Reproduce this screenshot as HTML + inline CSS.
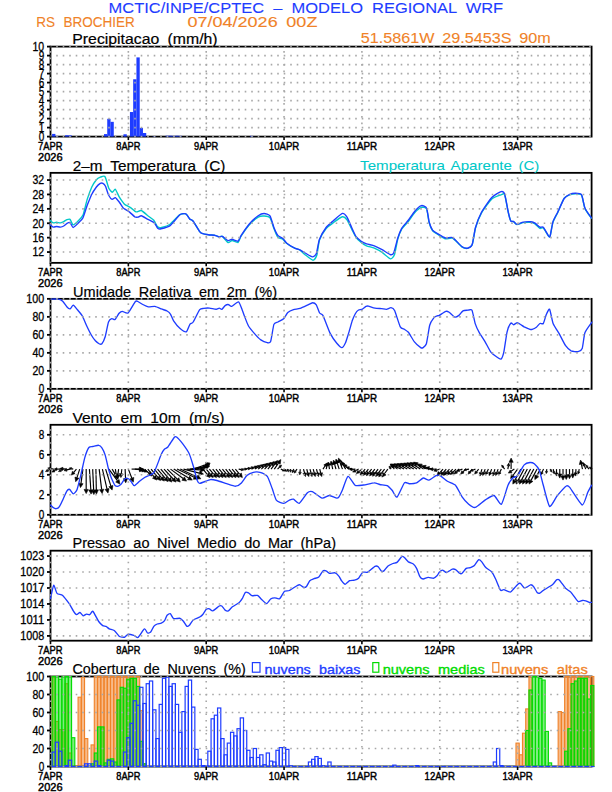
<!DOCTYPE html><html><head><meta charset="utf-8"><style>html,body{margin:0;padding:0;background:#fff;width:612px;height:792px;overflow:hidden}svg{display:block}text{font-family:"Liberation Sans",sans-serif}</style></head><body>
<svg width="612" height="792" viewBox="0 0 612 792">
<rect width="612" height="792" fill="#fff"/>
<text x="108.60" y="12.70" font-size="14.6" fill="#1e3cff" text-anchor="start" textLength="394.60" lengthAdjust="spacingAndGlyphs" stroke="#1e3cff" stroke-width="0.1" word-spacing="4">MCTIC/INPE/CPTEC &#8211; MODELO REGIONAL WRF</text>
<text x="36.30" y="26.80" font-size="14.6" fill="#f08228" text-anchor="start" textLength="98.50" lengthAdjust="spacingAndGlyphs" stroke="#f08228" stroke-width="0.1" word-spacing="5">RS BROCHIER</text>
<text x="187.50" y="26.80" font-size="14.6" fill="#f08228" text-anchor="start" textLength="129.90" lengthAdjust="spacingAndGlyphs" stroke="#f08228" stroke-width="0.1" word-spacing="3">07/04/2026 00Z</text>
<text x="360.80" y="42.90" font-size="14.6" fill="#f08228" text-anchor="start" textLength="189.90" lengthAdjust="spacingAndGlyphs" stroke="#f08228" stroke-width="0.1" word-spacing="3">51.5861W 29.5453S 90m</text>
<rect x="50.50" y="46.60" width="541.10" height="90.00" fill="none" stroke="#000" stroke-width="1.8"/>
<rect x="52.09" y="133.90" width="3.3" height="2.70" fill="#1e3cff"/>
<rect x="55.34" y="136.15" width="3.3" height="0.45" fill="#1e3cff"/>
<rect x="65.07" y="135.25" width="3.3" height="1.35" fill="#1e3cff"/>
<rect x="68.31" y="135.25" width="3.3" height="1.35" fill="#1e3cff"/>
<rect x="103.99" y="134.08" width="3.3" height="2.52" fill="#1e3cff"/>
<rect x="107.24" y="118.78" width="3.3" height="17.82" fill="#1e3cff"/>
<rect x="110.48" y="121.84" width="3.3" height="14.76" fill="#1e3cff"/>
<rect x="123.46" y="134.26" width="3.3" height="2.34" fill="#1e3cff"/>
<rect x="129.94" y="112.03" width="3.3" height="24.57" fill="#1e3cff"/>
<rect x="133.19" y="79.27" width="3.3" height="57.33" fill="#1e3cff"/>
<rect x="136.43" y="57.40" width="3.3" height="79.20" fill="#1e3cff"/>
<rect x="139.67" y="127.87" width="3.3" height="8.73" fill="#1e3cff"/>
<rect x="142.92" y="133.00" width="3.3" height="3.60" fill="#1e3cff"/>
<rect x="152.65" y="136.15" width="3.3" height="0.45" fill="#1e3cff"/>
<rect x="165.62" y="135.70" width="3.3" height="0.90" fill="#1e3cff"/>
<rect x="168.87" y="135.70" width="3.3" height="0.90" fill="#1e3cff"/>
<rect x="172.11" y="135.88" width="3.3" height="0.72" fill="#1e3cff"/>
<rect x="175.36" y="135.70" width="3.3" height="0.90" fill="#1e3cff"/>
<rect x="178.60" y="135.88" width="3.3" height="0.72" fill="#1e3cff"/>
<rect x="249.96" y="135.88" width="3.3" height="0.72" fill="#1e3cff"/>
<line x1="50.50" y1="136.60" x2="591.60" y2="136.60" stroke="#a8a8a8" stroke-width="1.6" stroke-dasharray="1.6 4.9" stroke-dashoffset="-5.7"/>
<line x1="47.00" y1="136.60" x2="50.50" y2="136.60" stroke="#000" stroke-width="1.8"/>
<text x="38.65" y="140.90" font-size="11.9" fill="#000" text-anchor="start" textLength="5.55" lengthAdjust="spacingAndGlyphs" stroke="#000" stroke-width="0.3">0</text>
<line x1="50.50" y1="127.60" x2="591.60" y2="127.60" stroke="#a8a8a8" stroke-width="1.6" stroke-dasharray="1.6 4.9" stroke-dashoffset="-5.7"/>
<line x1="47.00" y1="127.60" x2="50.50" y2="127.60" stroke="#000" stroke-width="1.8"/>
<text x="38.65" y="131.90" font-size="11.9" fill="#000" text-anchor="start" textLength="5.55" lengthAdjust="spacingAndGlyphs" stroke="#000" stroke-width="0.3">1</text>
<line x1="50.50" y1="118.60" x2="591.60" y2="118.60" stroke="#a8a8a8" stroke-width="1.6" stroke-dasharray="1.6 4.9" stroke-dashoffset="-5.7"/>
<line x1="47.00" y1="118.60" x2="50.50" y2="118.60" stroke="#000" stroke-width="1.8"/>
<text x="38.65" y="122.90" font-size="11.9" fill="#000" text-anchor="start" textLength="5.55" lengthAdjust="spacingAndGlyphs" stroke="#000" stroke-width="0.3">2</text>
<line x1="50.50" y1="109.60" x2="591.60" y2="109.60" stroke="#a8a8a8" stroke-width="1.6" stroke-dasharray="1.6 4.9" stroke-dashoffset="-5.7"/>
<line x1="47.00" y1="109.60" x2="50.50" y2="109.60" stroke="#000" stroke-width="1.8"/>
<text x="38.65" y="113.90" font-size="11.9" fill="#000" text-anchor="start" textLength="5.55" lengthAdjust="spacingAndGlyphs" stroke="#000" stroke-width="0.3">3</text>
<line x1="50.50" y1="100.60" x2="591.60" y2="100.60" stroke="#a8a8a8" stroke-width="1.6" stroke-dasharray="1.6 4.9" stroke-dashoffset="-5.7"/>
<line x1="47.00" y1="100.60" x2="50.50" y2="100.60" stroke="#000" stroke-width="1.8"/>
<text x="38.65" y="104.90" font-size="11.9" fill="#000" text-anchor="start" textLength="5.55" lengthAdjust="spacingAndGlyphs" stroke="#000" stroke-width="0.3">4</text>
<line x1="50.50" y1="91.60" x2="591.60" y2="91.60" stroke="#a8a8a8" stroke-width="1.6" stroke-dasharray="1.6 4.9" stroke-dashoffset="-5.7"/>
<line x1="47.00" y1="91.60" x2="50.50" y2="91.60" stroke="#000" stroke-width="1.8"/>
<text x="38.65" y="95.90" font-size="11.9" fill="#000" text-anchor="start" textLength="5.55" lengthAdjust="spacingAndGlyphs" stroke="#000" stroke-width="0.3">5</text>
<line x1="50.50" y1="82.60" x2="591.60" y2="82.60" stroke="#a8a8a8" stroke-width="1.6" stroke-dasharray="1.6 4.9" stroke-dashoffset="-5.7"/>
<line x1="47.00" y1="82.60" x2="50.50" y2="82.60" stroke="#000" stroke-width="1.8"/>
<text x="38.65" y="86.90" font-size="11.9" fill="#000" text-anchor="start" textLength="5.55" lengthAdjust="spacingAndGlyphs" stroke="#000" stroke-width="0.3">6</text>
<line x1="50.50" y1="73.60" x2="591.60" y2="73.60" stroke="#a8a8a8" stroke-width="1.6" stroke-dasharray="1.6 4.9" stroke-dashoffset="-5.7"/>
<line x1="47.00" y1="73.60" x2="50.50" y2="73.60" stroke="#000" stroke-width="1.8"/>
<text x="38.65" y="77.90" font-size="11.9" fill="#000" text-anchor="start" textLength="5.55" lengthAdjust="spacingAndGlyphs" stroke="#000" stroke-width="0.3">7</text>
<line x1="50.50" y1="64.60" x2="591.60" y2="64.60" stroke="#a8a8a8" stroke-width="1.6" stroke-dasharray="1.6 4.9" stroke-dashoffset="-5.7"/>
<line x1="47.00" y1="64.60" x2="50.50" y2="64.60" stroke="#000" stroke-width="1.8"/>
<text x="38.65" y="68.90" font-size="11.9" fill="#000" text-anchor="start" textLength="5.55" lengthAdjust="spacingAndGlyphs" stroke="#000" stroke-width="0.3">8</text>
<line x1="50.50" y1="55.60" x2="591.60" y2="55.60" stroke="#a8a8a8" stroke-width="1.6" stroke-dasharray="1.6 4.9" stroke-dashoffset="-5.7"/>
<line x1="47.00" y1="55.60" x2="50.50" y2="55.60" stroke="#000" stroke-width="1.8"/>
<text x="38.65" y="59.90" font-size="11.9" fill="#000" text-anchor="start" textLength="5.55" lengthAdjust="spacingAndGlyphs" stroke="#000" stroke-width="0.3">9</text>
<line x1="50.50" y1="46.60" x2="591.60" y2="46.60" stroke="#a8a8a8" stroke-width="1.6" stroke-dasharray="1.6 4.9" stroke-dashoffset="-5.7"/>
<line x1="47.00" y1="46.60" x2="50.50" y2="46.60" stroke="#000" stroke-width="1.8"/>
<text x="32.50" y="50.90" font-size="11.9" fill="#000" text-anchor="start" textLength="11.70" lengthAdjust="spacingAndGlyphs" stroke="#000" stroke-width="0.3">10</text>
<line x1="50.50" y1="46.60" x2="50.50" y2="136.60" stroke="#a8a8a8" stroke-width="1.6" stroke-dasharray="1.6 4.9" stroke-dashoffset="-4.45"/>
<line x1="50.50" y1="136.60" x2="50.50" y2="140.10" stroke="#000" stroke-width="1.6"/>
<text x="38.10" y="150.20" font-size="11.4" fill="#000" text-anchor="start" textLength="24.50" lengthAdjust="spacingAndGlyphs" stroke="#000" stroke-width="0.45">7APR</text>
<text x="38.10" y="161.20" font-size="11.4" fill="#000" text-anchor="start" textLength="24.50" lengthAdjust="spacingAndGlyphs" stroke="#000" stroke-width="0.45">2026</text>
<line x1="128.35" y1="46.60" x2="128.35" y2="136.60" stroke="#a8a8a8" stroke-width="1.6" stroke-dasharray="1.6 4.9" stroke-dashoffset="-4.45"/>
<line x1="128.35" y1="136.60" x2="128.35" y2="140.10" stroke="#000" stroke-width="1.6"/>
<text x="128.35" y="150.20" font-size="11.4" fill="#000" text-anchor="middle" textLength="24.20" lengthAdjust="spacingAndGlyphs" stroke="#000" stroke-width="0.45">8APR</text>
<line x1="206.20" y1="46.60" x2="206.20" y2="136.60" stroke="#a8a8a8" stroke-width="1.6" stroke-dasharray="1.6 4.9" stroke-dashoffset="-4.45"/>
<line x1="206.20" y1="136.60" x2="206.20" y2="140.10" stroke="#000" stroke-width="1.6"/>
<text x="206.20" y="150.20" font-size="11.4" fill="#000" text-anchor="middle" textLength="24.20" lengthAdjust="spacingAndGlyphs" stroke="#000" stroke-width="0.45">9APR</text>
<line x1="284.05" y1="46.60" x2="284.05" y2="136.60" stroke="#a8a8a8" stroke-width="1.6" stroke-dasharray="1.6 4.9" stroke-dashoffset="-4.45"/>
<line x1="284.05" y1="136.60" x2="284.05" y2="140.10" stroke="#000" stroke-width="1.6"/>
<text x="284.05" y="150.20" font-size="11.4" fill="#000" text-anchor="middle" textLength="30.40" lengthAdjust="spacingAndGlyphs" stroke="#000" stroke-width="0.45">10APR</text>
<line x1="361.90" y1="46.60" x2="361.90" y2="136.60" stroke="#a8a8a8" stroke-width="1.6" stroke-dasharray="1.6 4.9" stroke-dashoffset="-4.45"/>
<line x1="361.90" y1="136.60" x2="361.90" y2="140.10" stroke="#000" stroke-width="1.6"/>
<text x="361.90" y="150.20" font-size="11.4" fill="#000" text-anchor="middle" textLength="30.40" lengthAdjust="spacingAndGlyphs" stroke="#000" stroke-width="0.45">11APR</text>
<line x1="439.75" y1="46.60" x2="439.75" y2="136.60" stroke="#a8a8a8" stroke-width="1.6" stroke-dasharray="1.6 4.9" stroke-dashoffset="-4.45"/>
<line x1="439.75" y1="136.60" x2="439.75" y2="140.10" stroke="#000" stroke-width="1.6"/>
<text x="439.75" y="150.20" font-size="11.4" fill="#000" text-anchor="middle" textLength="30.40" lengthAdjust="spacingAndGlyphs" stroke="#000" stroke-width="0.45">12APR</text>
<line x1="517.60" y1="46.60" x2="517.60" y2="136.60" stroke="#a8a8a8" stroke-width="1.6" stroke-dasharray="1.6 4.9" stroke-dashoffset="-4.45"/>
<line x1="517.60" y1="136.60" x2="517.60" y2="140.10" stroke="#000" stroke-width="1.6"/>
<text x="517.60" y="150.20" font-size="11.4" fill="#000" text-anchor="middle" textLength="30.40" lengthAdjust="spacingAndGlyphs" stroke="#000" stroke-width="0.45">13APR</text>
<text x="72.30" y="44.30" font-size="14.0" fill="#000" text-anchor="start" textLength="145.30" lengthAdjust="spacingAndGlyphs" stroke="#000" stroke-width="0.18" word-spacing="3.5">Precipitacao (mm/h)</text>
<rect x="50.50" y="172.85" width="541.10" height="90.00" fill="none" stroke="#000" stroke-width="1.8"/>
<path d="M50.0,220.3 C50.3,220.6 52.6,222.7 53.2,222.9 C53.9,223.1 55.8,222.3 56.5,222.3 C57.2,222.3 59.7,223.0 60.4,222.9 C61.1,222.8 63.0,221.9 63.7,221.6 C64.4,221.3 66.4,219.9 67.0,219.7 C67.6,219.5 69.4,218.9 70.0,219.4 C70.6,219.9 72.3,224.7 73.1,224.9 C73.9,225.1 77.1,222.0 78.1,221.0 C79.1,220.0 82.1,217.3 83.0,215.1 C83.9,212.9 86.3,202.2 87.2,199.4 C88.1,196.6 90.9,189.0 91.8,187.0 C92.7,185.0 95.6,180.8 96.4,179.8 C97.2,178.8 99.5,177.5 100.3,177.2 C101.1,176.9 104.1,175.4 104.9,176.5 C105.8,177.6 108.1,186.7 108.8,188.3 C109.5,189.9 111.6,192.1 112.3,192.2 C113.0,192.3 114.6,188.8 115.3,189.3 C116.0,189.8 118.4,195.5 119.2,196.8 C120.0,198.1 122.6,201.9 123.2,202.7 C123.8,203.5 124.2,204.1 125.0,204.6 C125.8,205.1 129.8,207.2 130.9,207.9 C132.0,208.6 134.8,211.2 135.5,211.6 C136.2,212.0 136.8,211.9 137.4,211.8 C138.0,211.7 140.2,210.1 141.3,210.5 C142.4,210.9 146.7,214.8 147.9,215.8 C149.2,216.8 152.8,219.2 153.8,220.3 C154.8,221.4 156.9,226.2 157.7,226.9 C158.5,227.6 160.4,227.8 161.6,227.5 C162.8,227.2 168.3,225.5 170.1,224.2 C171.9,222.9 178.3,215.7 179.9,214.7 C181.5,213.7 184.8,213.4 185.8,213.8 C186.8,214.2 189.0,218.3 189.7,219.0 C190.4,219.7 192.0,219.8 193.0,221.0 C194.0,222.2 198.6,230.2 199.5,231.4 C200.4,232.6 201.1,233.1 202.0,233.4 C202.9,233.7 207.1,234.5 208.5,234.7 C209.9,234.9 214.6,235.4 215.7,235.6 C216.8,235.8 218.3,236.8 219.0,236.9 C219.7,237.0 221.4,235.8 222.3,236.4 C223.2,237.0 227.1,242.1 228.1,242.5 C229.1,242.9 231.1,240.5 232.1,240.5 C233.1,240.5 237.1,242.9 238.0,242.5 C238.9,242.1 240.1,237.8 241.2,236.0 C242.3,234.2 247.4,226.9 249.1,225.0 C250.8,223.1 256.7,218.0 258.2,217.1 C259.7,216.2 262.9,215.9 264.1,216.0 C265.3,216.1 269.0,216.4 270.0,217.7 C271.0,218.9 273.1,226.5 273.9,228.5 C274.7,230.5 276.9,236.2 277.8,237.3 C278.7,238.4 282.0,238.7 282.9,239.3 C283.8,239.9 285.6,242.6 286.8,243.5 C288.0,244.4 293.4,247.6 294.7,248.2 C295.9,248.8 298.3,249.0 299.3,249.7 C300.3,250.3 303.7,253.6 305.1,254.7 C306.5,255.8 311.8,260.2 313.0,260.2 C314.2,260.2 316.2,257.0 316.9,255.0 C317.5,253.0 318.6,242.7 319.5,240.0 C320.4,237.3 324.7,230.3 326.1,228.5 C327.5,226.7 332.3,223.5 333.9,222.3 C335.5,221.1 341.1,217.1 342.4,216.8 C343.7,216.5 346.0,218.4 347.0,219.7 C348.0,221.0 351.3,228.3 352.2,230.1 C353.1,231.9 355.2,236.3 356.1,237.5 C357.0,238.7 360.2,241.7 361.2,242.5 C362.2,243.3 365.2,245.2 366.5,245.8 C367.8,246.4 372.7,247.5 374.3,248.2 C375.9,248.9 380.5,251.3 382.1,252.4 C383.7,253.5 389.4,258.7 390.6,258.9 C391.9,259.1 393.9,256.3 394.6,254.3 C395.3,252.3 397.1,241.5 397.8,239.0 C398.5,236.5 400.8,230.8 401.8,229.0 C402.9,227.2 407.0,223.2 408.3,221.5 C409.6,219.8 413.5,213.9 414.8,212.5 C416.1,211.1 420.2,207.7 421.4,207.3 C422.6,207.0 425.8,207.4 426.6,209.0 C427.4,210.6 428.6,220.7 429.2,222.8 C429.8,225.0 431.6,229.3 432.5,230.5 C433.4,231.7 436.9,233.8 438.2,234.6 C439.5,235.4 444.0,238.4 445.4,238.8 C446.8,239.2 451.0,237.4 452.6,238.2 C454.2,239.0 460.3,245.8 461.8,246.8 C463.3,247.8 466.6,248.6 467.6,248.4 C468.6,248.2 471.4,246.7 472.2,244.7 C473.0,242.7 474.6,231.2 475.5,228.0 C476.4,224.8 479.8,216.1 481.4,213.2 C483.0,210.3 489.8,200.8 491.8,199.0 C493.8,197.2 499.7,195.2 501.0,194.8 C502.3,194.4 503.9,192.8 504.6,194.5 C505.3,196.2 507.6,209.3 508.2,212.0 C508.8,214.7 510.3,220.0 510.8,221.0 C511.3,222.0 512.9,221.2 513.5,221.6 C514.1,222.0 515.9,224.5 516.9,224.6 C517.9,224.7 521.8,222.8 523.2,222.6 C524.6,222.4 529.6,222.2 530.8,222.3 C532.0,222.4 534.1,223.2 535.0,223.8 C535.9,224.4 539.1,228.0 539.9,228.4 C540.7,228.8 542.4,227.2 543.3,228.0 C544.2,228.8 548.2,235.8 548.9,236.6 C549.6,237.3 549.9,237.0 550.3,235.5 C550.7,234.0 552.3,224.1 553.1,221.8 C553.9,219.5 556.8,214.6 557.9,212.2 C559.0,209.8 563.0,199.9 564.2,198.2 C565.4,196.5 568.6,195.2 569.7,194.8 C570.8,194.4 574.1,193.8 575.3,193.8 C576.5,193.8 580.5,193.7 581.5,195.2 C582.5,196.7 584.0,206.3 585.0,208.6 C586.0,210.9 590.7,217.2 591.3,218.1" fill="none" stroke="#00c8c8" stroke-width="1.4" stroke-linejoin="round" stroke-linecap="round"/>
<path d="M50.0,224.6 C50.3,224.8 52.6,226.9 53.2,227.1 C53.9,227.3 55.8,226.5 56.5,226.5 C57.2,226.5 59.7,227.2 60.4,227.1 C61.1,227.0 63.0,226.4 63.7,226.0 C64.4,225.6 66.4,223.7 67.0,223.3 C67.6,223.0 69.4,222.1 70.0,222.5 C70.6,222.9 72.3,227.4 73.1,227.5 C73.9,227.6 77.1,224.3 78.1,223.3 C79.1,222.3 82.1,219.5 83.0,217.7 C83.9,215.9 86.3,207.7 87.2,205.3 C88.1,203.0 90.9,196.0 91.8,194.2 C92.7,192.4 95.6,188.1 96.4,187.0 C97.2,185.9 99.6,183.7 100.3,183.3 C101.0,182.9 102.4,183.0 102.9,183.3 C103.4,183.6 104.9,185.1 105.5,186.3 C106.1,187.5 108.1,194.2 108.8,195.5 C109.5,196.8 111.4,199.2 112.1,199.4 C112.8,199.6 114.6,197.4 115.3,197.7 C116.0,198.0 118.4,201.0 119.2,202.0 C120.0,203.0 122.6,207.2 123.2,207.9 C123.8,208.6 124.4,208.8 125.0,209.2 C125.6,209.6 128.6,211.3 129.6,212.1 C130.6,212.9 134.0,216.3 134.8,216.8 C135.7,217.3 137.4,217.2 138.1,217.1 C138.8,217.0 140.3,215.6 141.3,215.8 C142.3,216.0 146.6,218.7 147.9,219.4 C149.2,220.1 153.4,222.0 154.4,222.9 C155.4,223.8 157.0,227.6 157.7,228.2 C158.4,228.8 159.8,229.1 161.0,228.8 C162.2,228.5 168.2,227.0 170.1,225.6 C172.0,224.2 178.3,215.9 179.9,214.7 C181.5,213.5 184.8,213.4 185.8,213.8 C186.8,214.2 189.0,218.3 189.7,219.0 C190.4,219.7 192.0,219.8 193.0,221.0 C194.0,222.2 198.6,230.2 199.5,231.4 C200.4,232.6 201.1,233.1 202.0,233.4 C202.9,233.7 207.1,234.5 208.5,234.7 C209.9,234.9 214.6,235.4 215.7,235.6 C216.8,235.8 218.3,236.8 219.0,236.9 C219.7,237.0 221.4,236.0 222.3,236.4 C223.2,236.8 227.1,240.3 228.1,240.6 C229.1,240.9 231.1,239.2 232.1,239.3 C233.1,239.4 237.1,241.6 238.0,241.2 C238.9,240.8 240.1,237.1 241.2,235.4 C242.3,233.7 247.4,226.2 249.1,224.2 C250.8,222.2 256.7,216.9 258.2,215.8 C259.7,214.7 262.9,213.5 264.1,213.5 C265.3,213.5 269.0,214.4 270.0,215.8 C271.0,217.2 273.1,225.5 273.9,227.5 C274.7,229.5 276.9,234.3 277.8,235.4 C278.7,236.5 282.0,237.8 282.9,238.6 C283.8,239.4 285.6,242.2 286.8,243.2 C288.0,244.2 293.4,247.5 294.7,248.2 C295.9,248.8 298.3,249.2 299.3,249.7 C300.3,250.2 303.8,252.3 305.1,253.0 C306.4,253.7 311.2,256.8 312.3,256.9 C313.4,257.0 315.6,255.5 316.3,253.7 C317.0,251.9 318.5,241.9 319.5,239.3 C320.5,236.7 324.7,229.4 326.1,227.5 C327.5,225.6 332.3,221.7 333.9,220.3 C335.5,218.9 341.1,213.7 342.4,213.4 C343.7,213.1 346.0,215.6 347.0,217.1 C348.0,218.6 351.3,226.8 352.2,228.8 C353.1,230.8 355.2,235.5 356.1,236.7 C357.0,237.9 360.2,240.5 361.2,241.2 C362.2,241.9 365.2,243.4 366.5,243.9 C367.8,244.4 372.7,245.2 374.3,245.8 C375.9,246.4 380.5,248.8 382.1,249.7 C383.7,250.6 389.4,254.4 390.6,254.7 C391.8,255.0 393.2,254.1 393.9,252.4 C394.6,250.7 397.0,240.4 397.8,238.0 C398.6,235.6 400.8,230.0 401.8,228.2 C402.9,226.4 407.0,222.0 408.3,220.3 C409.6,218.6 413.5,212.7 414.8,211.2 C416.1,209.7 420.2,205.9 421.4,205.6 C422.6,205.3 425.8,206.5 426.6,208.2 C427.4,209.9 428.6,220.1 429.2,222.3 C429.8,224.5 431.6,228.9 432.5,230.1 C433.4,231.3 436.9,233.3 438.2,234.1 C439.5,234.9 444.0,237.7 445.4,238.0 C446.8,238.3 451.0,236.8 452.6,237.6 C454.2,238.4 460.3,245.4 461.8,246.5 C463.3,247.6 466.6,248.4 467.6,248.2 C468.6,248.0 471.4,246.6 472.2,244.5 C473.0,242.4 474.6,230.7 475.5,227.5 C476.4,224.3 479.8,215.5 481.4,212.5 C483.0,209.5 489.8,199.6 491.8,197.5 C493.8,195.4 499.7,192.0 501.0,191.6 C502.3,191.2 503.9,191.8 504.6,193.8 C505.3,195.8 507.6,209.1 508.2,211.8 C508.8,214.5 510.3,220.0 510.8,221.0 C511.3,222.0 512.9,221.1 513.5,221.4 C514.1,221.7 515.9,224.3 516.9,224.4 C517.9,224.5 521.8,222.4 523.2,222.1 C524.6,221.8 529.6,221.6 530.8,221.7 C532.0,221.8 534.1,222.5 535.0,223.1 C535.9,223.7 539.1,226.8 539.9,227.2 C540.7,227.6 542.4,226.3 543.3,227.2 C544.2,228.1 548.2,235.6 548.9,236.4 C549.6,237.2 549.9,236.8 550.3,235.3 C550.7,233.8 552.3,223.8 553.1,221.4 C553.9,219.0 556.8,214.0 557.9,211.7 C559.0,209.4 563.0,200.2 564.2,198.5 C565.4,196.8 568.6,194.8 569.7,194.3 C570.8,193.8 574.1,193.3 575.3,193.3 C576.5,193.3 580.5,193.2 581.5,194.7 C582.5,196.2 584.0,205.9 585.0,208.2 C586.0,210.5 590.7,216.9 591.3,217.9" fill="none" stroke="#1e3cff" stroke-width="1.4" stroke-linejoin="round" stroke-linecap="round"/>
<line x1="50.50" y1="252.05" x2="591.60" y2="252.05" stroke="#a8a8a8" stroke-width="1.6" stroke-dasharray="1.6 4.9" stroke-dashoffset="-5.7"/>
<line x1="47.00" y1="252.05" x2="50.50" y2="252.05" stroke="#000" stroke-width="1.8"/>
<text x="32.50" y="256.35" font-size="11.9" fill="#000" text-anchor="start" textLength="11.70" lengthAdjust="spacingAndGlyphs" stroke="#000" stroke-width="0.3">12</text>
<line x1="50.50" y1="237.65" x2="591.60" y2="237.65" stroke="#a8a8a8" stroke-width="1.6" stroke-dasharray="1.6 4.9" stroke-dashoffset="-5.7"/>
<line x1="47.00" y1="237.65" x2="50.50" y2="237.65" stroke="#000" stroke-width="1.8"/>
<text x="32.50" y="241.95" font-size="11.9" fill="#000" text-anchor="start" textLength="11.70" lengthAdjust="spacingAndGlyphs" stroke="#000" stroke-width="0.3">16</text>
<line x1="50.50" y1="223.25" x2="591.60" y2="223.25" stroke="#a8a8a8" stroke-width="1.6" stroke-dasharray="1.6 4.9" stroke-dashoffset="-5.7"/>
<line x1="47.00" y1="223.25" x2="50.50" y2="223.25" stroke="#000" stroke-width="1.8"/>
<text x="32.50" y="227.55" font-size="11.9" fill="#000" text-anchor="start" textLength="11.70" lengthAdjust="spacingAndGlyphs" stroke="#000" stroke-width="0.3">20</text>
<line x1="50.50" y1="208.85" x2="591.60" y2="208.85" stroke="#a8a8a8" stroke-width="1.6" stroke-dasharray="1.6 4.9" stroke-dashoffset="-5.7"/>
<line x1="47.00" y1="208.85" x2="50.50" y2="208.85" stroke="#000" stroke-width="1.8"/>
<text x="32.50" y="213.15" font-size="11.9" fill="#000" text-anchor="start" textLength="11.70" lengthAdjust="spacingAndGlyphs" stroke="#000" stroke-width="0.3">24</text>
<line x1="50.50" y1="194.45" x2="591.60" y2="194.45" stroke="#a8a8a8" stroke-width="1.6" stroke-dasharray="1.6 4.9" stroke-dashoffset="-5.7"/>
<line x1="47.00" y1="194.45" x2="50.50" y2="194.45" stroke="#000" stroke-width="1.8"/>
<text x="32.50" y="198.75" font-size="11.9" fill="#000" text-anchor="start" textLength="11.70" lengthAdjust="spacingAndGlyphs" stroke="#000" stroke-width="0.3">28</text>
<line x1="50.50" y1="180.05" x2="591.60" y2="180.05" stroke="#a8a8a8" stroke-width="1.6" stroke-dasharray="1.6 4.9" stroke-dashoffset="-5.7"/>
<line x1="47.00" y1="180.05" x2="50.50" y2="180.05" stroke="#000" stroke-width="1.8"/>
<text x="32.50" y="184.35" font-size="11.9" fill="#000" text-anchor="start" textLength="11.70" lengthAdjust="spacingAndGlyphs" stroke="#000" stroke-width="0.3">32</text>
<line x1="50.50" y1="172.85" x2="50.50" y2="262.85" stroke="#a8a8a8" stroke-width="1.6" stroke-dasharray="1.6 4.9" stroke-dashoffset="-4.45"/>
<line x1="50.50" y1="262.85" x2="50.50" y2="266.35" stroke="#000" stroke-width="1.6"/>
<text x="38.10" y="276.45" font-size="11.4" fill="#000" text-anchor="start" textLength="24.50" lengthAdjust="spacingAndGlyphs" stroke="#000" stroke-width="0.45">7APR</text>
<text x="38.10" y="287.45" font-size="11.4" fill="#000" text-anchor="start" textLength="24.50" lengthAdjust="spacingAndGlyphs" stroke="#000" stroke-width="0.45">2026</text>
<line x1="128.35" y1="172.85" x2="128.35" y2="262.85" stroke="#a8a8a8" stroke-width="1.6" stroke-dasharray="1.6 4.9" stroke-dashoffset="-4.45"/>
<line x1="128.35" y1="262.85" x2="128.35" y2="266.35" stroke="#000" stroke-width="1.6"/>
<text x="128.35" y="276.45" font-size="11.4" fill="#000" text-anchor="middle" textLength="24.20" lengthAdjust="spacingAndGlyphs" stroke="#000" stroke-width="0.45">8APR</text>
<line x1="206.20" y1="172.85" x2="206.20" y2="262.85" stroke="#a8a8a8" stroke-width="1.6" stroke-dasharray="1.6 4.9" stroke-dashoffset="-4.45"/>
<line x1="206.20" y1="262.85" x2="206.20" y2="266.35" stroke="#000" stroke-width="1.6"/>
<text x="206.20" y="276.45" font-size="11.4" fill="#000" text-anchor="middle" textLength="24.20" lengthAdjust="spacingAndGlyphs" stroke="#000" stroke-width="0.45">9APR</text>
<line x1="284.05" y1="172.85" x2="284.05" y2="262.85" stroke="#a8a8a8" stroke-width="1.6" stroke-dasharray="1.6 4.9" stroke-dashoffset="-4.45"/>
<line x1="284.05" y1="262.85" x2="284.05" y2="266.35" stroke="#000" stroke-width="1.6"/>
<text x="284.05" y="276.45" font-size="11.4" fill="#000" text-anchor="middle" textLength="30.40" lengthAdjust="spacingAndGlyphs" stroke="#000" stroke-width="0.45">10APR</text>
<line x1="361.90" y1="172.85" x2="361.90" y2="262.85" stroke="#a8a8a8" stroke-width="1.6" stroke-dasharray="1.6 4.9" stroke-dashoffset="-4.45"/>
<line x1="361.90" y1="262.85" x2="361.90" y2="266.35" stroke="#000" stroke-width="1.6"/>
<text x="361.90" y="276.45" font-size="11.4" fill="#000" text-anchor="middle" textLength="30.40" lengthAdjust="spacingAndGlyphs" stroke="#000" stroke-width="0.45">11APR</text>
<line x1="439.75" y1="172.85" x2="439.75" y2="262.85" stroke="#a8a8a8" stroke-width="1.6" stroke-dasharray="1.6 4.9" stroke-dashoffset="-4.45"/>
<line x1="439.75" y1="262.85" x2="439.75" y2="266.35" stroke="#000" stroke-width="1.6"/>
<text x="439.75" y="276.45" font-size="11.4" fill="#000" text-anchor="middle" textLength="30.40" lengthAdjust="spacingAndGlyphs" stroke="#000" stroke-width="0.45">12APR</text>
<line x1="517.60" y1="172.85" x2="517.60" y2="262.85" stroke="#a8a8a8" stroke-width="1.6" stroke-dasharray="1.6 4.9" stroke-dashoffset="-4.45"/>
<line x1="517.60" y1="262.85" x2="517.60" y2="266.35" stroke="#000" stroke-width="1.6"/>
<text x="517.60" y="276.45" font-size="11.4" fill="#000" text-anchor="middle" textLength="30.40" lengthAdjust="spacingAndGlyphs" stroke="#000" stroke-width="0.45">13APR</text>
<text x="72.70" y="170.55" font-size="14.0" fill="#000" text-anchor="start" textLength="152.70" lengthAdjust="spacingAndGlyphs" stroke="#000" stroke-width="0.18" word-spacing="3.5">2&#8211;m Temperatura (C)</text>
<rect x="50.50" y="298.85" width="541.10" height="90.00" fill="none" stroke="#000" stroke-width="1.8"/>
<path d="M50.5,299.1 C51.3,299.1 57.4,298.9 58.6,299.1 C59.8,299.3 61.9,300.4 62.7,301.2 C63.5,302.0 66.1,306.0 66.8,306.8 C67.5,307.6 69.4,309.1 70.1,308.9 C70.8,308.7 72.6,305.0 73.3,305.1 C74.0,305.2 76.5,308.6 77.4,309.7 C78.3,310.8 81.4,314.3 82.3,315.9 C83.2,317.4 85.5,323.3 86.4,325.2 C87.3,327.1 90.4,333.4 91.3,335.0 C92.2,336.6 94.6,339.9 95.4,340.8 C96.2,341.7 98.8,343.7 99.5,344.0 C100.2,344.3 101.3,344.4 101.9,343.7 C102.5,343.0 104.5,338.9 105.2,336.7 C105.9,334.5 107.8,323.8 108.5,322.0 C109.2,320.2 111.0,318.9 111.7,318.7 C112.4,318.4 114.3,320.0 115.0,319.5 C115.7,319.0 118.4,314.1 119.1,313.3 C119.8,312.5 121.4,311.3 122.3,311.3 C123.2,311.3 126.8,314.0 128.1,313.0 C129.4,312.0 134.4,302.6 135.4,301.5 C136.4,300.4 137.2,301.2 137.9,301.5 C138.6,301.8 141.8,304.0 142.8,304.5 C143.8,305.0 147.1,306.6 148.3,306.8 C149.5,307.0 153.5,306.2 154.8,306.4 C156.1,306.6 160.1,308.4 161.3,308.9 C162.5,309.4 166.2,310.5 167.1,311.0 C168.0,311.5 169.7,312.8 170.3,313.8 C171.0,314.8 172.6,319.3 173.6,320.8 C174.6,322.3 178.8,327.4 180.1,328.5 C181.4,329.6 185.3,332.2 186.3,331.8 C187.3,331.4 189.2,325.4 189.9,324.4 C190.6,323.4 192.2,323.5 193.2,322.0 C194.2,320.5 198.6,311.1 199.7,309.7 C200.8,308.3 202.8,308.6 203.8,308.4 C204.8,308.2 208.3,308.0 209.5,308.1 C210.7,308.2 215.1,309.2 216.1,309.2 C217.1,309.2 218.7,308.1 219.3,308.1 C219.9,308.1 221.2,309.6 221.8,309.4 C222.4,309.1 224.4,306.1 225.1,305.6 C225.8,305.1 227.7,304.4 228.3,304.5 C229.0,304.6 230.6,306.7 231.6,306.4 C232.6,306.1 237.4,301.5 238.5,301.9 C239.6,302.3 241.6,308.6 242.2,310.0 C242.8,311.4 243.9,314.6 244.5,316.2 C245.1,317.8 247.5,324.3 248.5,326.0 C249.5,327.7 253.1,332.0 254.3,333.4 C255.5,334.8 259.5,339.0 260.8,339.9 C262.1,340.8 266.3,342.5 267.3,342.7 C268.3,342.9 269.9,343.4 270.6,341.6 C271.3,339.8 273.2,326.4 273.9,324.4 C274.6,322.4 276.9,322.6 277.9,322.0 C278.9,321.4 282.7,319.6 283.7,318.7 C284.7,317.8 286.8,313.5 287.8,312.6 C288.8,311.7 292.3,310.1 293.5,309.7 C294.7,309.3 298.6,308.9 300.0,308.4 C301.4,307.9 306.1,305.7 307.4,305.1 C308.7,304.5 311.7,302.7 312.6,302.7 C313.5,302.7 315.6,303.8 316.3,304.8 C317.0,305.8 318.9,311.9 319.6,313.0 C320.3,314.1 321.8,313.4 322.9,315.4 C324.0,317.4 328.8,330.6 330.2,333.4 C331.6,336.2 335.6,341.8 336.8,343.2 C338.0,344.6 341.0,347.7 341.9,347.6 C342.8,347.6 344.8,344.2 345.5,342.7 C346.2,341.2 348.1,334.8 348.8,332.6 C349.5,330.4 351.5,323.0 352.1,321.1 C352.8,319.2 354.7,314.9 355.3,313.8 C355.9,312.7 357.9,310.4 358.6,310.0 C359.3,309.6 361.2,309.8 361.9,309.4 C362.6,309.0 365.4,306.7 366.0,306.4 C366.6,306.1 367.5,305.9 368.4,306.1 C369.3,306.3 373.7,307.9 375.0,308.1 C376.3,308.4 380.4,308.5 381.5,308.6 C382.6,308.7 385.4,309.5 386.4,309.4 C387.3,309.3 390.2,307.6 391.0,307.7 C391.8,307.8 393.7,308.6 394.6,310.5 C395.5,312.4 399.3,325.0 400.3,326.9 C401.3,328.8 403.6,328.8 404.4,329.3 C405.2,329.8 407.4,331.1 408.4,332.3 C409.4,333.5 413.0,340.1 414.2,341.6 C415.4,343.1 419.8,347.0 420.7,347.6 C421.6,348.2 422.5,348.0 423.1,347.6 C423.7,347.2 425.7,345.9 426.4,343.7 C427.1,341.5 429.0,327.8 429.7,325.2 C430.4,322.6 433.1,318.8 433.8,317.9 C434.5,317.0 436.4,316.1 437.0,315.9 C437.6,315.6 438.4,315.9 439.3,315.4 C440.2,314.9 444.8,311.6 445.8,311.3 C446.8,311.0 448.2,311.6 449.1,312.2 C450.0,312.8 453.8,316.8 454.8,317.1 C455.8,317.4 458.1,316.0 458.9,315.4 C459.7,314.8 462.1,311.3 463.0,310.8 C463.9,310.3 467.0,310.3 467.9,310.2 C468.8,310.1 471.3,308.9 472.0,310.2 C472.7,311.5 474.5,321.4 475.2,323.6 C475.9,325.8 478.3,330.8 479.3,332.6 C480.3,334.4 483.9,339.7 485.0,341.6 C486.1,343.5 489.6,350.4 490.7,351.9 C491.8,353.4 495.5,356.1 496.5,356.8 C497.5,357.5 500.3,359.6 501.0,359.1 C501.7,358.6 503.2,354.9 503.8,352.2 C504.4,349.5 506.4,334.7 507.1,331.8 C507.8,328.9 510.2,323.8 510.8,323.1 C511.4,322.4 512.9,324.7 513.6,324.7 C514.3,324.7 516.6,322.6 517.7,322.8 C518.8,323.0 523.0,326.2 524.2,326.9 C525.4,327.5 529.2,329.1 530.0,329.3 C530.8,329.6 531.6,329.6 532.2,329.4 C532.8,329.2 535.6,327.8 536.4,327.2 C537.2,326.6 539.2,323.9 539.9,323.5 C540.6,323.1 542.7,324.3 543.3,323.5 C543.9,322.7 545.5,316.5 546.1,315.1 C546.7,313.7 548.9,308.4 549.6,309.2 C550.3,310.0 552.1,321.0 553.1,323.5 C554.1,326.0 558.0,331.7 559.3,333.9 C560.5,336.1 564.4,344.0 565.6,345.7 C566.8,347.4 569.9,350.2 571.1,350.8 C572.4,351.4 577.0,351.9 578.1,351.7 C579.2,351.5 581.5,350.4 582.2,348.5 C582.9,346.6 584.0,335.1 585.0,332.5 C586.0,329.9 591.2,323.1 591.9,322.1" fill="none" stroke="#1e3cff" stroke-width="1.35" stroke-linejoin="round" stroke-linecap="round"/>
<line x1="50.50" y1="388.85" x2="591.60" y2="388.85" stroke="#a8a8a8" stroke-width="1.6" stroke-dasharray="1.6 4.9" stroke-dashoffset="-5.7"/>
<line x1="47.00" y1="388.85" x2="50.50" y2="388.85" stroke="#000" stroke-width="1.8"/>
<text x="38.65" y="393.15" font-size="11.9" fill="#000" text-anchor="start" textLength="5.55" lengthAdjust="spacingAndGlyphs" stroke="#000" stroke-width="0.3">0</text>
<line x1="50.50" y1="370.85" x2="591.60" y2="370.85" stroke="#a8a8a8" stroke-width="1.6" stroke-dasharray="1.6 4.9" stroke-dashoffset="-5.7"/>
<line x1="47.00" y1="370.85" x2="50.50" y2="370.85" stroke="#000" stroke-width="1.8"/>
<text x="32.50" y="375.15" font-size="11.9" fill="#000" text-anchor="start" textLength="11.70" lengthAdjust="spacingAndGlyphs" stroke="#000" stroke-width="0.3">20</text>
<line x1="50.50" y1="352.85" x2="591.60" y2="352.85" stroke="#a8a8a8" stroke-width="1.6" stroke-dasharray="1.6 4.9" stroke-dashoffset="-5.7"/>
<line x1="47.00" y1="352.85" x2="50.50" y2="352.85" stroke="#000" stroke-width="1.8"/>
<text x="32.50" y="357.15" font-size="11.9" fill="#000" text-anchor="start" textLength="11.70" lengthAdjust="spacingAndGlyphs" stroke="#000" stroke-width="0.3">40</text>
<line x1="50.50" y1="334.85" x2="591.60" y2="334.85" stroke="#a8a8a8" stroke-width="1.6" stroke-dasharray="1.6 4.9" stroke-dashoffset="-5.7"/>
<line x1="47.00" y1="334.85" x2="50.50" y2="334.85" stroke="#000" stroke-width="1.8"/>
<text x="32.50" y="339.15" font-size="11.9" fill="#000" text-anchor="start" textLength="11.70" lengthAdjust="spacingAndGlyphs" stroke="#000" stroke-width="0.3">60</text>
<line x1="50.50" y1="316.85" x2="591.60" y2="316.85" stroke="#a8a8a8" stroke-width="1.6" stroke-dasharray="1.6 4.9" stroke-dashoffset="-5.7"/>
<line x1="47.00" y1="316.85" x2="50.50" y2="316.85" stroke="#000" stroke-width="1.8"/>
<text x="32.50" y="321.15" font-size="11.9" fill="#000" text-anchor="start" textLength="11.70" lengthAdjust="spacingAndGlyphs" stroke="#000" stroke-width="0.3">80</text>
<line x1="50.50" y1="298.85" x2="591.60" y2="298.85" stroke="#a8a8a8" stroke-width="1.6" stroke-dasharray="1.6 4.9" stroke-dashoffset="-5.7"/>
<line x1="47.00" y1="298.85" x2="50.50" y2="298.85" stroke="#000" stroke-width="1.8"/>
<text x="26.35" y="303.15" font-size="11.9" fill="#000" text-anchor="start" textLength="17.85" lengthAdjust="spacingAndGlyphs" stroke="#000" stroke-width="0.3">100</text>
<line x1="50.50" y1="298.85" x2="50.50" y2="388.85" stroke="#a8a8a8" stroke-width="1.6" stroke-dasharray="1.6 4.9" stroke-dashoffset="-4.45"/>
<line x1="50.50" y1="388.85" x2="50.50" y2="392.35" stroke="#000" stroke-width="1.6"/>
<text x="38.10" y="402.45" font-size="11.4" fill="#000" text-anchor="start" textLength="24.50" lengthAdjust="spacingAndGlyphs" stroke="#000" stroke-width="0.45">7APR</text>
<text x="38.10" y="413.45" font-size="11.4" fill="#000" text-anchor="start" textLength="24.50" lengthAdjust="spacingAndGlyphs" stroke="#000" stroke-width="0.45">2026</text>
<line x1="128.35" y1="298.85" x2="128.35" y2="388.85" stroke="#a8a8a8" stroke-width="1.6" stroke-dasharray="1.6 4.9" stroke-dashoffset="-4.45"/>
<line x1="128.35" y1="388.85" x2="128.35" y2="392.35" stroke="#000" stroke-width="1.6"/>
<text x="128.35" y="402.45" font-size="11.4" fill="#000" text-anchor="middle" textLength="24.20" lengthAdjust="spacingAndGlyphs" stroke="#000" stroke-width="0.45">8APR</text>
<line x1="206.20" y1="298.85" x2="206.20" y2="388.85" stroke="#a8a8a8" stroke-width="1.6" stroke-dasharray="1.6 4.9" stroke-dashoffset="-4.45"/>
<line x1="206.20" y1="388.85" x2="206.20" y2="392.35" stroke="#000" stroke-width="1.6"/>
<text x="206.20" y="402.45" font-size="11.4" fill="#000" text-anchor="middle" textLength="24.20" lengthAdjust="spacingAndGlyphs" stroke="#000" stroke-width="0.45">9APR</text>
<line x1="284.05" y1="298.85" x2="284.05" y2="388.85" stroke="#a8a8a8" stroke-width="1.6" stroke-dasharray="1.6 4.9" stroke-dashoffset="-4.45"/>
<line x1="284.05" y1="388.85" x2="284.05" y2="392.35" stroke="#000" stroke-width="1.6"/>
<text x="284.05" y="402.45" font-size="11.4" fill="#000" text-anchor="middle" textLength="30.40" lengthAdjust="spacingAndGlyphs" stroke="#000" stroke-width="0.45">10APR</text>
<line x1="361.90" y1="298.85" x2="361.90" y2="388.85" stroke="#a8a8a8" stroke-width="1.6" stroke-dasharray="1.6 4.9" stroke-dashoffset="-4.45"/>
<line x1="361.90" y1="388.85" x2="361.90" y2="392.35" stroke="#000" stroke-width="1.6"/>
<text x="361.90" y="402.45" font-size="11.4" fill="#000" text-anchor="middle" textLength="30.40" lengthAdjust="spacingAndGlyphs" stroke="#000" stroke-width="0.45">11APR</text>
<line x1="439.75" y1="298.85" x2="439.75" y2="388.85" stroke="#a8a8a8" stroke-width="1.6" stroke-dasharray="1.6 4.9" stroke-dashoffset="-4.45"/>
<line x1="439.75" y1="388.85" x2="439.75" y2="392.35" stroke="#000" stroke-width="1.6"/>
<text x="439.75" y="402.45" font-size="11.4" fill="#000" text-anchor="middle" textLength="30.40" lengthAdjust="spacingAndGlyphs" stroke="#000" stroke-width="0.45">12APR</text>
<line x1="517.60" y1="298.85" x2="517.60" y2="388.85" stroke="#a8a8a8" stroke-width="1.6" stroke-dasharray="1.6 4.9" stroke-dashoffset="-4.45"/>
<line x1="517.60" y1="388.85" x2="517.60" y2="392.35" stroke="#000" stroke-width="1.6"/>
<text x="517.60" y="402.45" font-size="11.4" fill="#000" text-anchor="middle" textLength="30.40" lengthAdjust="spacingAndGlyphs" stroke="#000" stroke-width="0.45">13APR</text>
<text x="73.10" y="296.55" font-size="14.0" fill="#000" text-anchor="start" textLength="204.00" lengthAdjust="spacingAndGlyphs" stroke="#000" stroke-width="0.18" word-spacing="3.5">Umidade Relativa em 2m (%)</text>
<rect x="50.50" y="424.80" width="541.10" height="90.00" fill="none" stroke="#000" stroke-width="1.8"/>
<line x1="50.50" y1="469.10" x2="47.75" y2="470.48" stroke="#000" stroke-width="1.15"/>
<polygon points="45.50,471.60 47.19,469.35 48.31,471.60" fill="#000" stroke="#000" stroke-width="0.6"/>
<line x1="53.74" y1="469.10" x2="50.44" y2="468.55" stroke="#000" stroke-width="1.15"/>
<polygon points="47.74,468.10 50.67,467.20 50.22,469.90" fill="#000" stroke="#000" stroke-width="0.6"/>
<line x1="56.99" y1="469.10" x2="54.24" y2="470.75" stroke="#000" stroke-width="1.15"/>
<polygon points="51.99,472.10 53.56,469.62 54.91,471.88" fill="#000" stroke="#000" stroke-width="0.6"/>
<line x1="60.23" y1="469.10" x2="56.93" y2="469.10" stroke="#000" stroke-width="1.15"/>
<polygon points="54.23,469.10 56.93,467.75 56.93,470.45" fill="#000" stroke="#000" stroke-width="0.6"/>
<line x1="63.48" y1="469.10" x2="60.73" y2="470.48" stroke="#000" stroke-width="1.15"/>
<polygon points="58.48,471.60 60.16,469.35 61.29,471.60" fill="#000" stroke="#000" stroke-width="0.6"/>
<line x1="66.72" y1="469.10" x2="62.87" y2="468.83" stroke="#000" stroke-width="1.15"/>
<polygon points="59.72,468.60 62.98,467.25 62.76,470.40" fill="#000" stroke="#000" stroke-width="0.6"/>
<line x1="69.96" y1="469.10" x2="66.66" y2="469.93" stroke="#000" stroke-width="1.15"/>
<polygon points="63.96,470.60 66.33,468.57 67.00,471.28" fill="#000" stroke="#000" stroke-width="0.6"/>
<line x1="73.21" y1="469.10" x2="71.34" y2="468.63" stroke="#000" stroke-width="1.15"/>
<polygon points="69.21,468.10 71.61,467.57 71.07,469.70" fill="#000" stroke="#000" stroke-width="0.6"/>
<line x1="76.45" y1="469.10" x2="73.70" y2="472.40" stroke="#000" stroke-width="1.15"/>
<polygon points="71.45,475.10 72.35,471.28 75.05,473.53" fill="#000" stroke="#000" stroke-width="0.6"/>
<line x1="79.69" y1="469.10" x2="76.96" y2="477.70" stroke="#000" stroke-width="1.15"/>
<polygon points="75.69,481.70 74.96,477.06 78.97,478.33" fill="#000" stroke="#000" stroke-width="0.6"/>
<line x1="82.94" y1="469.10" x2="81.00" y2="483.44" stroke="#000" stroke-width="1.15"/>
<polygon points="80.44,487.60 78.92,483.16 83.08,483.72" fill="#000" stroke="#000" stroke-width="0.6"/>
<line x1="86.18" y1="469.10" x2="86.18" y2="489.40" stroke="#000" stroke-width="1.15"/>
<polygon points="86.18,493.60 84.08,489.40 88.28,489.40" fill="#000" stroke="#000" stroke-width="0.6"/>
<line x1="89.42" y1="469.10" x2="90.84" y2="489.91" stroke="#000" stroke-width="1.15"/>
<polygon points="91.12,494.10 88.74,490.05 92.94,489.77" fill="#000" stroke="#000" stroke-width="0.6"/>
<line x1="92.67" y1="469.10" x2="93.67" y2="490.40" stroke="#000" stroke-width="1.15"/>
<polygon points="93.87,494.60 91.57,490.50 95.77,490.31" fill="#000" stroke="#000" stroke-width="0.6"/>
<line x1="95.91" y1="469.10" x2="96.33" y2="489.90" stroke="#000" stroke-width="1.15"/>
<polygon points="96.41,494.10 94.23,489.94 98.43,489.86" fill="#000" stroke="#000" stroke-width="0.6"/>
<line x1="99.16" y1="469.10" x2="101.65" y2="489.43" stroke="#000" stroke-width="1.15"/>
<polygon points="102.16,493.60 99.56,489.69 103.73,489.18" fill="#000" stroke="#000" stroke-width="0.6"/>
<line x1="102.40" y1="469.10" x2="107.05" y2="489.01" stroke="#000" stroke-width="1.15"/>
<polygon points="108.00,493.10 105.00,489.49 109.09,488.53" fill="#000" stroke="#000" stroke-width="0.6"/>
<line x1="105.64" y1="469.10" x2="110.90" y2="486.09" stroke="#000" stroke-width="1.15"/>
<polygon points="112.14,490.10 108.90,486.71 112.91,485.47" fill="#000" stroke="#000" stroke-width="0.6"/>
<line x1="108.89" y1="469.10" x2="117.40" y2="480.71" stroke="#000" stroke-width="1.15"/>
<polygon points="119.89,484.10 115.71,481.95 119.10,479.47" fill="#000" stroke="#000" stroke-width="0.6"/>
<line x1="112.13" y1="469.10" x2="115.97" y2="475.50" stroke="#000" stroke-width="1.15"/>
<polygon points="118.13,479.10 114.17,476.58 117.77,474.42" fill="#000" stroke="#000" stroke-width="0.6"/>
<line x1="115.38" y1="469.10" x2="116.09" y2="474.05" stroke="#000" stroke-width="1.15"/>
<polygon points="116.67,478.10 114.06,474.34 118.12,473.76" fill="#000" stroke="#000" stroke-width="0.6"/>
<line x1="118.62" y1="469.10" x2="117.86" y2="474.94" stroke="#000" stroke-width="1.15"/>
<polygon points="117.32,479.10 115.78,474.66 119.94,475.21" fill="#000" stroke="#000" stroke-width="0.6"/>
<line x1="121.86" y1="469.10" x2="121.31" y2="473.78" stroke="#000" stroke-width="1.15"/>
<polygon points="120.86,477.60 119.40,473.55 123.22,474.00" fill="#000" stroke="#000" stroke-width="0.6"/>
<line x1="125.11" y1="469.10" x2="125.52" y2="478.60" stroke="#000" stroke-width="1.15"/>
<polygon points="125.71,482.80 123.42,478.70 127.62,478.51" fill="#000" stroke="#000" stroke-width="0.6"/>
<line x1="128.35" y1="469.10" x2="131.84" y2="478.18" stroke="#000" stroke-width="1.15"/>
<polygon points="133.35,482.10 129.88,478.93 133.80,477.43" fill="#000" stroke="#000" stroke-width="0.6"/>
<line x1="131.59" y1="469.10" x2="139.39" y2="469.10" stroke="#000" stroke-width="1.15"/>
<polygon points="143.59,469.10 139.39,471.20 139.39,467.00" fill="#000" stroke="#000" stroke-width="0.6"/>
<line x1="134.84" y1="469.10" x2="139.79" y2="469.65" stroke="#000" stroke-width="1.15"/>
<polygon points="143.84,470.10 139.56,471.68 140.01,467.63" fill="#000" stroke="#000" stroke-width="0.6"/>
<line x1="138.08" y1="469.10" x2="142.21" y2="470.20" stroke="#000" stroke-width="1.15"/>
<polygon points="145.58,471.10 141.76,471.89 142.66,468.51" fill="#000" stroke="#000" stroke-width="0.6"/>
<line x1="141.32" y1="469.10" x2="144.62" y2="470.75" stroke="#000" stroke-width="1.15"/>
<polygon points="147.32,472.10 143.95,472.10 145.30,469.40" fill="#000" stroke="#000" stroke-width="0.6"/>
<line x1="144.57" y1="469.10" x2="149.00" y2="473.23" stroke="#000" stroke-width="1.15"/>
<polygon points="152.07,476.10 147.57,474.77 150.43,471.70" fill="#000" stroke="#000" stroke-width="0.6"/>
<line x1="147.81" y1="469.10" x2="154.15" y2="476.85" stroke="#000" stroke-width="1.15"/>
<polygon points="156.81,480.10 152.53,478.18 155.78,475.52" fill="#000" stroke="#000" stroke-width="0.6"/>
<line x1="151.06" y1="469.10" x2="157.88" y2="477.36" stroke="#000" stroke-width="1.15"/>
<polygon points="160.56,480.60 156.26,478.70 159.50,476.02" fill="#000" stroke="#000" stroke-width="0.6"/>
<line x1="154.30" y1="469.10" x2="161.61" y2="477.87" stroke="#000" stroke-width="1.15"/>
<polygon points="164.30,481.10 160.00,479.22 163.22,476.53" fill="#000" stroke="#000" stroke-width="0.6"/>
<line x1="157.54" y1="469.10" x2="165.34" y2="478.38" stroke="#000" stroke-width="1.15"/>
<polygon points="168.04,481.60 163.73,479.73 166.95,477.03" fill="#000" stroke="#000" stroke-width="0.6"/>
<line x1="160.79" y1="469.10" x2="169.07" y2="478.89" stroke="#000" stroke-width="1.15"/>
<polygon points="171.79,482.10 167.47,480.25 170.68,477.54" fill="#000" stroke="#000" stroke-width="0.6"/>
<line x1="164.03" y1="469.10" x2="173.18" y2="479.01" stroke="#000" stroke-width="1.15"/>
<polygon points="176.03,482.10 171.64,480.44 174.73,477.59" fill="#000" stroke="#000" stroke-width="0.6"/>
<line x1="167.27" y1="469.10" x2="177.31" y2="479.13" stroke="#000" stroke-width="1.15"/>
<polygon points="180.27,482.10 175.82,480.62 178.79,477.65" fill="#000" stroke="#000" stroke-width="0.6"/>
<line x1="170.52" y1="469.10" x2="183.16" y2="478.58" stroke="#000" stroke-width="1.15"/>
<polygon points="186.52,481.10 181.90,480.26 184.42,476.90" fill="#000" stroke="#000" stroke-width="0.6"/>
<line x1="173.76" y1="469.10" x2="188.65" y2="477.95" stroke="#000" stroke-width="1.15"/>
<polygon points="192.26,480.10 187.58,479.76 189.73,476.15" fill="#000" stroke="#000" stroke-width="0.6"/>
<line x1="177.01" y1="469.10" x2="194.21" y2="477.29" stroke="#000" stroke-width="1.15"/>
<polygon points="198.01,479.10 193.31,479.19 195.12,475.40" fill="#000" stroke="#000" stroke-width="0.6"/>
<line x1="180.25" y1="469.10" x2="197.05" y2="477.01" stroke="#000" stroke-width="1.15"/>
<polygon points="200.85,478.80 196.16,478.91 197.94,475.11" fill="#000" stroke="#000" stroke-width="0.6"/>
<line x1="183.49" y1="469.10" x2="199.42" y2="473.08" stroke="#000" stroke-width="1.15"/>
<polygon points="203.49,474.10 198.91,475.12 199.93,471.04" fill="#000" stroke="#000" stroke-width="0.6"/>
<line x1="186.74" y1="469.10" x2="200.54" y2="469.87" stroke="#000" stroke-width="1.15"/>
<polygon points="204.74,470.10 200.43,471.96 200.66,467.77" fill="#000" stroke="#000" stroke-width="0.6"/>
<line x1="189.98" y1="469.10" x2="203.32" y2="467.19" stroke="#000" stroke-width="1.15"/>
<polygon points="207.48,466.60 203.62,469.27 203.03,465.12" fill="#000" stroke="#000" stroke-width="0.6"/>
<line x1="193.22" y1="469.10" x2="206.26" y2="464.50" stroke="#000" stroke-width="1.15"/>
<polygon points="210.22,463.10 206.96,466.48 205.57,462.52" fill="#000" stroke="#000" stroke-width="0.6"/>
<line x1="196.47" y1="469.10" x2="205.98" y2="465.93" stroke="#000" stroke-width="1.15"/>
<polygon points="209.97,464.60 206.65,467.92 205.32,463.94" fill="#000" stroke="#000" stroke-width="0.6"/>
<line x1="199.71" y1="469.10" x2="205.69" y2="467.31" stroke="#000" stroke-width="1.15"/>
<polygon points="209.71,466.10 206.29,469.32 205.09,465.30" fill="#000" stroke="#000" stroke-width="0.6"/>
<line x1="202.96" y1="469.10" x2="207.29" y2="474.36" stroke="#000" stroke-width="1.15"/>
<polygon points="209.96,477.60 205.67,475.69 208.91,473.02" fill="#000" stroke="#000" stroke-width="0.6"/>
<line x1="206.20" y1="469.10" x2="210.53" y2="474.36" stroke="#000" stroke-width="1.15"/>
<polygon points="213.20,477.60 208.91,475.69 212.15,473.02" fill="#000" stroke="#000" stroke-width="0.6"/>
<line x1="209.44" y1="469.10" x2="213.77" y2="474.36" stroke="#000" stroke-width="1.15"/>
<polygon points="216.44,477.60 212.15,475.69 215.39,473.02" fill="#000" stroke="#000" stroke-width="0.6"/>
<line x1="212.69" y1="469.10" x2="217.02" y2="474.36" stroke="#000" stroke-width="1.15"/>
<polygon points="219.69,477.60 215.40,475.69 218.64,473.02" fill="#000" stroke="#000" stroke-width="0.6"/>
<line x1="215.93" y1="469.10" x2="220.26" y2="474.36" stroke="#000" stroke-width="1.15"/>
<polygon points="222.93,477.60 218.64,475.69 221.88,473.02" fill="#000" stroke="#000" stroke-width="0.6"/>
<line x1="219.17" y1="469.10" x2="223.51" y2="474.36" stroke="#000" stroke-width="1.15"/>
<polygon points="226.17,477.60 221.88,475.69 225.13,473.02" fill="#000" stroke="#000" stroke-width="0.6"/>
<line x1="222.42" y1="469.10" x2="226.75" y2="474.36" stroke="#000" stroke-width="1.15"/>
<polygon points="229.42,477.60 225.13,475.69 228.37,473.02" fill="#000" stroke="#000" stroke-width="0.6"/>
<line x1="225.66" y1="469.10" x2="229.99" y2="474.36" stroke="#000" stroke-width="1.15"/>
<polygon points="232.66,477.60 228.37,475.69 231.61,473.02" fill="#000" stroke="#000" stroke-width="0.6"/>
<line x1="228.91" y1="469.10" x2="233.24" y2="474.36" stroke="#000" stroke-width="1.15"/>
<polygon points="235.91,477.60 231.62,475.69 234.86,473.02" fill="#000" stroke="#000" stroke-width="0.6"/>
<line x1="232.15" y1="469.10" x2="236.48" y2="474.36" stroke="#000" stroke-width="1.15"/>
<polygon points="239.15,477.60 234.86,475.69 238.10,473.02" fill="#000" stroke="#000" stroke-width="0.6"/>
<line x1="235.39" y1="469.10" x2="239.72" y2="474.36" stroke="#000" stroke-width="1.15"/>
<polygon points="242.39,477.60 238.10,475.69 241.34,473.02" fill="#000" stroke="#000" stroke-width="0.6"/>
<line x1="238.64" y1="469.10" x2="241.39" y2="469.65" stroke="#000" stroke-width="1.15"/>
<polygon points="243.64,470.10 241.16,470.78 241.61,468.53" fill="#000" stroke="#000" stroke-width="0.6"/>
<line x1="241.88" y1="469.10" x2="244.77" y2="469.10" stroke="#000" stroke-width="1.15"/>
<polygon points="247.13,469.10 244.77,470.28 244.77,467.92" fill="#000" stroke="#000" stroke-width="0.6"/>
<line x1="245.12" y1="469.10" x2="248.15" y2="468.55" stroke="#000" stroke-width="1.15"/>
<polygon points="250.62,468.10 248.38,469.79 247.93,467.31" fill="#000" stroke="#000" stroke-width="0.6"/>
<line x1="248.37" y1="469.10" x2="251.53" y2="468.00" stroke="#000" stroke-width="1.15"/>
<polygon points="254.12,467.10 251.98,469.29 251.08,466.71" fill="#000" stroke="#000" stroke-width="0.6"/>
<line x1="251.61" y1="469.10" x2="254.91" y2="467.45" stroke="#000" stroke-width="1.15"/>
<polygon points="257.61,466.10 255.59,468.80 254.24,466.10" fill="#000" stroke="#000" stroke-width="0.6"/>
<line x1="254.86" y1="469.10" x2="258.20" y2="466.94" stroke="#000" stroke-width="1.15"/>
<polygon points="260.93,465.17 259.08,468.31 257.31,465.57" fill="#000" stroke="#000" stroke-width="0.6"/>
<line x1="258.10" y1="469.10" x2="261.48" y2="466.43" stroke="#000" stroke-width="1.15"/>
<polygon points="264.24,464.24 262.57,467.81 260.39,465.05" fill="#000" stroke="#000" stroke-width="0.6"/>
<line x1="261.34" y1="469.10" x2="264.76" y2="465.92" stroke="#000" stroke-width="1.15"/>
<polygon points="267.56,463.31 266.06,467.32 263.46,464.52" fill="#000" stroke="#000" stroke-width="0.6"/>
<line x1="264.59" y1="469.10" x2="268.04" y2="465.41" stroke="#000" stroke-width="1.15"/>
<polygon points="270.87,462.39 269.56,466.82 266.53,463.99" fill="#000" stroke="#000" stroke-width="0.6"/>
<line x1="267.83" y1="469.10" x2="271.50" y2="464.69" stroke="#000" stroke-width="1.15"/>
<polygon points="274.19,461.46 273.12,466.03 269.89,463.34" fill="#000" stroke="#000" stroke-width="0.6"/>
<line x1="271.07" y1="469.10" x2="274.98" y2="463.89" stroke="#000" stroke-width="1.15"/>
<polygon points="277.50,460.53 276.66,465.15 273.30,462.63" fill="#000" stroke="#000" stroke-width="0.6"/>
<line x1="274.32" y1="469.10" x2="278.45" y2="463.07" stroke="#000" stroke-width="1.15"/>
<polygon points="280.82,459.60 280.18,464.25 276.71,461.88" fill="#000" stroke="#000" stroke-width="0.6"/>
<line x1="277.56" y1="469.10" x2="279.76" y2="466.90" stroke="#000" stroke-width="1.15"/>
<polygon points="281.56,465.10 280.66,467.80 278.86,466.00" fill="#000" stroke="#000" stroke-width="0.6"/>
<line x1="280.81" y1="469.10" x2="282.84" y2="470.12" stroke="#000" stroke-width="1.15"/>
<polygon points="284.81,471.10 282.35,471.10 283.33,469.13" fill="#000" stroke="#000" stroke-width="0.6"/>
<line x1="284.05" y1="469.10" x2="285.03" y2="470.01" stroke="#000" stroke-width="1.15"/>
<polygon points="286.65,471.50 284.29,470.82 285.78,469.20" fill="#000" stroke="#000" stroke-width="0.6"/>
<line x1="287.29" y1="469.10" x2="287.63" y2="469.88" stroke="#000" stroke-width="1.15"/>
<polygon points="288.49,471.90 286.62,470.31 288.64,469.44" fill="#000" stroke="#000" stroke-width="0.6"/>
<line x1="290.54" y1="469.10" x2="290.47" y2="470.10" stroke="#000" stroke-width="1.15"/>
<polygon points="290.34,472.30 289.38,470.04 291.57,470.17" fill="#000" stroke="#000" stroke-width="0.6"/>
<line x1="293.78" y1="469.10" x2="293.07" y2="470.69" stroke="#000" stroke-width="1.15"/>
<polygon points="292.18,472.70 292.07,470.24 294.08,471.14" fill="#000" stroke="#000" stroke-width="0.6"/>
<line x1="297.02" y1="469.10" x2="295.38" y2="471.30" stroke="#000" stroke-width="1.15"/>
<polygon points="294.02,473.10 294.48,470.62 296.27,471.98" fill="#000" stroke="#000" stroke-width="0.6"/>
<line x1="300.27" y1="469.10" x2="299.99" y2="472.26" stroke="#000" stroke-width="1.15"/>
<polygon points="299.77,474.85 298.70,472.15 301.29,472.38" fill="#000" stroke="#000" stroke-width="0.6"/>
<line x1="303.51" y1="469.10" x2="304.61" y2="473.23" stroke="#000" stroke-width="1.15"/>
<polygon points="305.51,476.60 302.92,473.68 306.30,472.78" fill="#000" stroke="#000" stroke-width="0.6"/>
<line x1="306.76" y1="469.10" x2="307.86" y2="473.23" stroke="#000" stroke-width="1.15"/>
<polygon points="308.76,476.60 306.17,473.68 309.54,472.78" fill="#000" stroke="#000" stroke-width="0.6"/>
<line x1="310.00" y1="469.10" x2="311.10" y2="473.23" stroke="#000" stroke-width="1.15"/>
<polygon points="312.00,476.60 309.41,473.68 312.79,472.78" fill="#000" stroke="#000" stroke-width="0.6"/>
<line x1="313.24" y1="469.10" x2="314.34" y2="473.23" stroke="#000" stroke-width="1.15"/>
<polygon points="315.24,476.60 312.66,473.68 316.03,472.78" fill="#000" stroke="#000" stroke-width="0.6"/>
<line x1="316.49" y1="469.10" x2="317.59" y2="473.23" stroke="#000" stroke-width="1.15"/>
<polygon points="318.49,476.60 315.90,473.68 319.28,472.78" fill="#000" stroke="#000" stroke-width="0.6"/>
<line x1="319.73" y1="469.10" x2="320.83" y2="473.23" stroke="#000" stroke-width="1.15"/>
<polygon points="321.73,476.60 319.14,473.68 322.52,472.78" fill="#000" stroke="#000" stroke-width="0.6"/>
<line x1="322.97" y1="469.10" x2="325.17" y2="465.80" stroke="#000" stroke-width="1.15"/>
<polygon points="326.97,463.10 326.52,466.70 323.82,464.90" fill="#000" stroke="#000" stroke-width="0.6"/>
<line x1="326.22" y1="469.10" x2="327.04" y2="465.53" stroke="#000" stroke-width="1.15"/>
<polygon points="327.72,462.60 328.51,465.86 325.58,465.19" fill="#000" stroke="#000" stroke-width="0.6"/>
<line x1="329.46" y1="469.10" x2="328.91" y2="465.25" stroke="#000" stroke-width="1.15"/>
<polygon points="328.46,462.10 330.49,465.02 327.34,465.48" fill="#000" stroke="#000" stroke-width="0.6"/>
<line x1="332.71" y1="469.10" x2="331.74" y2="464.70" stroke="#000" stroke-width="1.15"/>
<polygon points="330.96,461.10 333.54,464.31 329.94,465.09" fill="#000" stroke="#000" stroke-width="0.6"/>
<line x1="335.95" y1="469.10" x2="334.57" y2="464.15" stroke="#000" stroke-width="1.15"/>
<polygon points="333.45,460.10 336.60,463.58 332.55,464.71" fill="#000" stroke="#000" stroke-width="0.6"/>
<line x1="339.19" y1="469.10" x2="337.24" y2="463.09" stroke="#000" stroke-width="1.15"/>
<polygon points="335.94,459.10 339.24,462.45 335.24,463.74" fill="#000" stroke="#000" stroke-width="0.6"/>
<line x1="342.44" y1="469.10" x2="339.87" y2="462.05" stroke="#000" stroke-width="1.15"/>
<polygon points="338.44,458.10 341.85,461.33 337.90,462.76" fill="#000" stroke="#000" stroke-width="0.6"/>
<line x1="345.68" y1="469.10" x2="343.11" y2="464.70" stroke="#000" stroke-width="1.15"/>
<polygon points="341.01,461.10 344.91,463.65 341.31,465.75" fill="#000" stroke="#000" stroke-width="0.6"/>
<line x1="348.93" y1="469.10" x2="345.99" y2="466.35" stroke="#000" stroke-width="1.15"/>
<polygon points="343.59,464.10 347.12,465.15 344.87,467.55" fill="#000" stroke="#000" stroke-width="0.6"/>
<line x1="352.17" y1="469.10" x2="348.87" y2="468.00" stroke="#000" stroke-width="1.15"/>
<polygon points="346.17,467.10 349.32,466.65 348.42,469.35" fill="#000" stroke="#000" stroke-width="0.6"/>
<line x1="355.41" y1="469.10" x2="352.11" y2="469.38" stroke="#000" stroke-width="1.15"/>
<polygon points="349.41,469.60 352.00,468.02 352.22,470.73" fill="#000" stroke="#000" stroke-width="0.6"/>
<line x1="358.66" y1="469.10" x2="355.36" y2="470.75" stroke="#000" stroke-width="1.15"/>
<polygon points="352.66,472.10 354.68,469.40 356.03,472.10" fill="#000" stroke="#000" stroke-width="0.6"/>
<line x1="361.90" y1="469.10" x2="358.88" y2="471.58" stroke="#000" stroke-width="1.15"/>
<polygon points="356.40,473.60 357.86,470.34 359.89,472.81" fill="#000" stroke="#000" stroke-width="0.6"/>
<line x1="365.14" y1="469.10" x2="362.39" y2="472.40" stroke="#000" stroke-width="1.15"/>
<polygon points="360.14,475.10 361.04,471.28 363.74,473.53" fill="#000" stroke="#000" stroke-width="0.6"/>
<line x1="368.39" y1="469.10" x2="365.56" y2="472.56" stroke="#000" stroke-width="1.15"/>
<polygon points="363.24,475.39 364.14,471.40 366.97,473.71" fill="#000" stroke="#000" stroke-width="0.6"/>
<line x1="371.63" y1="469.10" x2="368.72" y2="472.71" stroke="#000" stroke-width="1.15"/>
<polygon points="366.35,475.67 367.25,471.53 370.20,473.90" fill="#000" stroke="#000" stroke-width="0.6"/>
<line x1="374.87" y1="469.10" x2="371.89" y2="472.87" stroke="#000" stroke-width="1.15"/>
<polygon points="369.45,475.96 370.35,471.65 373.43,474.09" fill="#000" stroke="#000" stroke-width="0.6"/>
<line x1="378.12" y1="469.10" x2="375.05" y2="473.03" stroke="#000" stroke-width="1.15"/>
<polygon points="372.55,476.24 373.45,471.78 376.66,474.28" fill="#000" stroke="#000" stroke-width="0.6"/>
<line x1="381.36" y1="469.10" x2="378.21" y2="473.20" stroke="#000" stroke-width="1.15"/>
<polygon points="375.65,476.53 376.54,471.92 379.87,474.48" fill="#000" stroke="#000" stroke-width="0.6"/>
<line x1="384.61" y1="469.10" x2="381.29" y2="473.47" stroke="#000" stroke-width="1.15"/>
<polygon points="378.75,476.81 379.62,472.20 382.96,474.74" fill="#000" stroke="#000" stroke-width="0.6"/>
<line x1="387.85" y1="469.10" x2="384.37" y2="473.74" stroke="#000" stroke-width="1.15"/>
<polygon points="381.85,477.10 382.69,472.48 386.05,475.00" fill="#000" stroke="#000" stroke-width="0.6"/>
<line x1="391.09" y1="469.10" x2="390.31" y2="467.93" stroke="#000" stroke-width="1.15"/>
<polygon points="389.09,466.10 391.23,467.32 389.40,468.54" fill="#000" stroke="#000" stroke-width="0.6"/>
<line x1="394.34" y1="469.10" x2="392.14" y2="466.35" stroke="#000" stroke-width="1.15"/>
<polygon points="390.34,464.10 393.26,465.45 391.01,467.25" fill="#000" stroke="#000" stroke-width="0.6"/>
<line x1="397.58" y1="469.10" x2="393.73" y2="466.35" stroke="#000" stroke-width="1.15"/>
<polygon points="390.58,464.10 394.86,464.78 392.61,467.93" fill="#000" stroke="#000" stroke-width="0.6"/>
<line x1="400.82" y1="469.10" x2="394.58" y2="465.98" stroke="#000" stroke-width="1.15"/>
<polygon points="390.82,464.10 395.52,464.10 393.64,467.86" fill="#000" stroke="#000" stroke-width="0.6"/>
<line x1="404.07" y1="469.10" x2="397.78" y2="465.78" stroke="#000" stroke-width="1.15"/>
<polygon points="394.07,463.81 398.76,463.92 396.80,467.63" fill="#000" stroke="#000" stroke-width="0.6"/>
<line x1="407.31" y1="469.10" x2="400.98" y2="465.57" stroke="#000" stroke-width="1.15"/>
<polygon points="397.31,463.53 402.00,463.74 399.96,467.41" fill="#000" stroke="#000" stroke-width="0.6"/>
<line x1="410.56" y1="469.10" x2="404.18" y2="465.37" stroke="#000" stroke-width="1.15"/>
<polygon points="400.56,463.24 405.24,463.55 403.12,467.18" fill="#000" stroke="#000" stroke-width="0.6"/>
<line x1="413.80" y1="469.10" x2="407.38" y2="465.16" stroke="#000" stroke-width="1.15"/>
<polygon points="403.80,462.96 408.48,463.37 406.28,466.94" fill="#000" stroke="#000" stroke-width="0.6"/>
<line x1="417.04" y1="469.10" x2="410.58" y2="464.94" stroke="#000" stroke-width="1.15"/>
<polygon points="407.04,462.67 411.71,463.18 409.44,466.71" fill="#000" stroke="#000" stroke-width="0.6"/>
<line x1="420.29" y1="469.10" x2="413.77" y2="464.73" stroke="#000" stroke-width="1.15"/>
<polygon points="410.29,462.39 414.95,462.98 412.60,466.47" fill="#000" stroke="#000" stroke-width="0.6"/>
<line x1="423.53" y1="469.10" x2="416.97" y2="464.51" stroke="#000" stroke-width="1.15"/>
<polygon points="413.53,462.10 418.18,462.79 415.77,466.23" fill="#000" stroke="#000" stroke-width="0.6"/>
<line x1="426.77" y1="469.10" x2="421.23" y2="465.97" stroke="#000" stroke-width="1.15"/>
<polygon points="417.57,463.90 422.26,464.14 420.20,467.79" fill="#000" stroke="#000" stroke-width="0.6"/>
<line x1="430.02" y1="469.10" x2="425.40" y2="467.23" stroke="#000" stroke-width="1.15"/>
<polygon points="421.62,465.70 426.16,465.34 424.63,469.12" fill="#000" stroke="#000" stroke-width="0.6"/>
<line x1="433.26" y1="469.10" x2="429.08" y2="468.22" stroke="#000" stroke-width="1.15"/>
<polygon points="425.66,467.50 429.44,466.51 428.72,469.93" fill="#000" stroke="#000" stroke-width="0.6"/>
<line x1="436.51" y1="469.10" x2="432.77" y2="469.21" stroke="#000" stroke-width="1.15"/>
<polygon points="429.71,469.30 432.72,467.68 432.81,470.74" fill="#000" stroke="#000" stroke-width="0.6"/>
<line x1="439.75" y1="469.10" x2="436.45" y2="470.20" stroke="#000" stroke-width="1.15"/>
<polygon points="433.75,471.10 436.00,468.85 436.90,471.55" fill="#000" stroke="#000" stroke-width="0.6"/>
<line x1="442.99" y1="469.10" x2="439.69" y2="472.95" stroke="#000" stroke-width="1.15"/>
<polygon points="436.99,476.10 438.12,471.60 441.27,474.30" fill="#000" stroke="#000" stroke-width="0.6"/>
<line x1="446.24" y1="469.10" x2="442.94" y2="472.77" stroke="#000" stroke-width="1.15"/>
<polygon points="440.24,475.77 441.44,471.42 444.44,474.12" fill="#000" stroke="#000" stroke-width="0.6"/>
<line x1="449.48" y1="469.10" x2="446.18" y2="472.58" stroke="#000" stroke-width="1.15"/>
<polygon points="443.48,475.43 444.76,471.23 447.61,473.93" fill="#000" stroke="#000" stroke-width="0.6"/>
<line x1="452.72" y1="469.10" x2="449.42" y2="472.40" stroke="#000" stroke-width="1.15"/>
<polygon points="446.72,475.10 448.07,471.05 450.77,473.75" fill="#000" stroke="#000" stroke-width="0.6"/>
<line x1="455.97" y1="469.10" x2="452.94" y2="472.12" stroke="#000" stroke-width="1.15"/>
<polygon points="450.47,474.60 451.71,470.89 454.18,473.36" fill="#000" stroke="#000" stroke-width="0.6"/>
<line x1="459.21" y1="469.10" x2="456.46" y2="471.85" stroke="#000" stroke-width="1.15"/>
<polygon points="454.21,474.10 455.34,470.73 457.59,472.98" fill="#000" stroke="#000" stroke-width="0.6"/>
<line x1="462.46" y1="469.10" x2="459.16" y2="470.20" stroke="#000" stroke-width="1.15"/>
<polygon points="456.46,471.10 458.71,468.85 459.61,471.55" fill="#000" stroke="#000" stroke-width="0.6"/>
<line x1="465.70" y1="469.10" x2="462.95" y2="471.85" stroke="#000" stroke-width="1.15"/>
<polygon points="460.70,474.10 461.82,470.73 464.07,472.98" fill="#000" stroke="#000" stroke-width="0.6"/>
<line x1="468.94" y1="469.10" x2="466.19" y2="469.65" stroke="#000" stroke-width="1.15"/>
<polygon points="463.94,470.10 465.97,468.53 466.42,470.78" fill="#000" stroke="#000" stroke-width="0.6"/>
<line x1="472.19" y1="469.10" x2="469.99" y2="471.85" stroke="#000" stroke-width="1.15"/>
<polygon points="468.19,474.10 468.86,470.95 471.11,472.75" fill="#000" stroke="#000" stroke-width="0.6"/>
<line x1="475.43" y1="469.10" x2="472.68" y2="470.20" stroke="#000" stroke-width="1.15"/>
<polygon points="470.43,471.10 472.23,469.08 473.13,471.33" fill="#000" stroke="#000" stroke-width="0.6"/>
<line x1="478.67" y1="469.10" x2="476.47" y2="471.85" stroke="#000" stroke-width="1.15"/>
<polygon points="474.67,474.10 475.35,470.95 477.60,472.75" fill="#000" stroke="#000" stroke-width="0.6"/>
<line x1="481.92" y1="469.10" x2="480.82" y2="472.95" stroke="#000" stroke-width="1.15"/>
<polygon points="479.92,476.10 479.24,472.50 482.39,473.40" fill="#000" stroke="#000" stroke-width="0.6"/>
<line x1="485.16" y1="469.10" x2="483.79" y2="472.68" stroke="#000" stroke-width="1.15"/>
<polygon points="482.66,475.60 482.32,472.11 485.25,473.24" fill="#000" stroke="#000" stroke-width="0.6"/>
<line x1="488.41" y1="469.10" x2="486.76" y2="472.40" stroke="#000" stroke-width="1.15"/>
<polygon points="485.41,475.10 485.41,471.73 488.11,473.08" fill="#000" stroke="#000" stroke-width="0.6"/>
<line x1="491.65" y1="469.10" x2="490.27" y2="472.68" stroke="#000" stroke-width="1.15"/>
<polygon points="489.15,475.60 488.81,472.11 491.74,473.24" fill="#000" stroke="#000" stroke-width="0.6"/>
<line x1="494.89" y1="469.10" x2="493.79" y2="472.95" stroke="#000" stroke-width="1.15"/>
<polygon points="492.89,476.10 492.22,472.50 495.37,473.40" fill="#000" stroke="#000" stroke-width="0.6"/>
<line x1="498.14" y1="469.10" x2="496.76" y2="472.68" stroke="#000" stroke-width="1.15"/>
<polygon points="495.64,475.60 495.30,472.11 498.22,473.24" fill="#000" stroke="#000" stroke-width="0.6"/>
<line x1="501.38" y1="469.10" x2="499.73" y2="472.40" stroke="#000" stroke-width="1.15"/>
<polygon points="498.38,475.10 498.38,471.73 501.08,473.08" fill="#000" stroke="#000" stroke-width="0.6"/>
<line x1="504.62" y1="469.10" x2="502.98" y2="466.90" stroke="#000" stroke-width="1.15"/>
<polygon points="501.62,465.10 503.88,466.23 502.08,467.58" fill="#000" stroke="#000" stroke-width="0.6"/>
<line x1="507.87" y1="469.10" x2="508.42" y2="465.80" stroke="#000" stroke-width="1.15"/>
<polygon points="508.87,463.10 509.77,466.03 507.07,465.57" fill="#000" stroke="#000" stroke-width="0.6"/>
<line x1="511.11" y1="469.10" x2="511.11" y2="462.30" stroke="#000" stroke-width="1.15"/>
<polygon points="511.11,458.10 513.21,462.30 509.01,462.30" fill="#000" stroke="#000" stroke-width="0.6"/>
<line x1="514.36" y1="469.10" x2="511.06" y2="471.30" stroke="#000" stroke-width="1.15"/>
<polygon points="508.36,473.10 510.16,469.95 511.96,472.65" fill="#000" stroke="#000" stroke-width="0.6"/>
<line x1="517.60" y1="469.10" x2="513.09" y2="475.22" stroke="#000" stroke-width="1.15"/>
<polygon points="510.60,478.60 511.40,473.97 514.78,476.46" fill="#000" stroke="#000" stroke-width="0.6"/>
<line x1="520.84" y1="469.10" x2="514.82" y2="480.39" stroke="#000" stroke-width="1.15"/>
<polygon points="512.84,484.10 512.97,479.41 516.67,481.38" fill="#000" stroke="#000" stroke-width="0.6"/>
<line x1="524.09" y1="469.10" x2="518.06" y2="480.39" stroke="#000" stroke-width="1.15"/>
<polygon points="516.09,484.10 516.21,479.41 519.92,481.38" fill="#000" stroke="#000" stroke-width="0.6"/>
<line x1="527.33" y1="469.10" x2="521.31" y2="480.39" stroke="#000" stroke-width="1.15"/>
<polygon points="519.33,484.10 519.45,479.41 523.16,481.38" fill="#000" stroke="#000" stroke-width="0.6"/>
<line x1="530.58" y1="469.10" x2="524.55" y2="480.39" stroke="#000" stroke-width="1.15"/>
<polygon points="522.58,484.10 522.70,479.41 526.40,481.38" fill="#000" stroke="#000" stroke-width="0.6"/>
<line x1="533.82" y1="469.10" x2="527.80" y2="480.39" stroke="#000" stroke-width="1.15"/>
<polygon points="525.82,484.10 525.94,479.41 529.65,481.38" fill="#000" stroke="#000" stroke-width="0.6"/>
<line x1="537.06" y1="469.10" x2="531.04" y2="480.39" stroke="#000" stroke-width="1.15"/>
<polygon points="529.06,484.10 529.19,479.41 532.89,481.38" fill="#000" stroke="#000" stroke-width="0.6"/>
<line x1="540.31" y1="469.10" x2="536.76" y2="475.88" stroke="#000" stroke-width="1.15"/>
<polygon points="534.81,479.60 534.89,474.91 538.62,476.85" fill="#000" stroke="#000" stroke-width="0.6"/>
<line x1="543.55" y1="469.10" x2="541.90" y2="472.40" stroke="#000" stroke-width="1.15"/>
<polygon points="540.55,475.10 540.55,471.73 543.25,473.08" fill="#000" stroke="#000" stroke-width="0.6"/>
<line x1="546.79" y1="469.10" x2="546.54" y2="471.41" stroke="#000" stroke-width="1.15"/>
<polygon points="546.29,473.60 545.44,471.29 547.63,471.53" fill="#000" stroke="#000" stroke-width="0.6"/>
<line x1="550.04" y1="469.10" x2="550.82" y2="470.27" stroke="#000" stroke-width="1.15"/>
<polygon points="552.04,472.10 549.90,470.88 551.73,469.66" fill="#000" stroke="#000" stroke-width="0.6"/>
<line x1="553.28" y1="469.10" x2="553.83" y2="471.85" stroke="#000" stroke-width="1.15"/>
<polygon points="554.28,474.10 552.71,472.08 554.96,471.62" fill="#000" stroke="#000" stroke-width="0.6"/>
<line x1="556.52" y1="469.10" x2="556.52" y2="472.95" stroke="#000" stroke-width="1.15"/>
<polygon points="556.52,476.10 554.95,472.95 558.10,472.95" fill="#000" stroke="#000" stroke-width="0.6"/>
<line x1="559.77" y1="469.10" x2="559.77" y2="474.05" stroke="#000" stroke-width="1.15"/>
<polygon points="559.77,478.10 557.74,474.05 561.79,474.05" fill="#000" stroke="#000" stroke-width="0.6"/>
<line x1="563.01" y1="469.10" x2="563.01" y2="475.90" stroke="#000" stroke-width="1.15"/>
<polygon points="563.01,480.10 560.91,475.90 565.11,475.90" fill="#000" stroke="#000" stroke-width="0.6"/>
<line x1="566.26" y1="469.10" x2="566.26" y2="475.23" stroke="#000" stroke-width="1.15"/>
<polygon points="566.26,479.43 564.16,475.23 568.36,475.23" fill="#000" stroke="#000" stroke-width="0.6"/>
<line x1="569.50" y1="469.10" x2="569.50" y2="474.57" stroke="#000" stroke-width="1.15"/>
<polygon points="569.50,478.77 567.40,474.57 571.60,474.57" fill="#000" stroke="#000" stroke-width="0.6"/>
<line x1="572.74" y1="469.10" x2="572.74" y2="474.05" stroke="#000" stroke-width="1.15"/>
<polygon points="572.74,478.10 570.72,474.05 574.77,474.05" fill="#000" stroke="#000" stroke-width="0.6"/>
<line x1="575.99" y1="469.10" x2="575.71" y2="472.95" stroke="#000" stroke-width="1.15"/>
<polygon points="575.49,476.10 574.14,472.84 577.29,473.06" fill="#000" stroke="#000" stroke-width="0.6"/>
<line x1="579.23" y1="469.10" x2="578.68" y2="471.85" stroke="#000" stroke-width="1.15"/>
<polygon points="578.23,474.10 577.56,471.62 579.81,472.08" fill="#000" stroke="#000" stroke-width="0.6"/>
<line x1="582.48" y1="469.10" x2="581.38" y2="464.15" stroke="#000" stroke-width="1.15"/>
<polygon points="580.48,460.10 583.40,463.70 579.35,464.60" fill="#000" stroke="#000" stroke-width="0.6"/>
<line x1="585.72" y1="469.10" x2="584.34" y2="465.53" stroke="#000" stroke-width="1.15"/>
<polygon points="583.22,462.60 585.81,464.96 582.88,466.09" fill="#000" stroke="#000" stroke-width="0.6"/>
<line x1="588.96" y1="469.10" x2="587.31" y2="466.90" stroke="#000" stroke-width="1.15"/>
<polygon points="585.96,465.10 588.21,466.23 586.41,467.58" fill="#000" stroke="#000" stroke-width="0.6"/>
<line x1="592.21" y1="469.10" x2="591.04" y2="468.32" stroke="#000" stroke-width="1.15"/>
<polygon points="589.21,467.10 591.65,467.41 590.43,469.24" fill="#000" stroke="#000" stroke-width="0.6"/>
<path d="M50.5,505.0 C50.7,505.2 52.3,507.0 52.9,507.4 C53.5,507.8 55.6,508.8 56.2,508.7 C56.9,508.6 58.8,507.5 59.4,506.6 C60.0,505.7 62.0,501.7 62.7,500.1 C63.4,498.6 66.1,492.2 66.8,491.1 C67.5,490.0 68.9,489.1 69.6,489.4 C70.2,489.7 72.5,493.9 73.3,493.9 C74.0,493.9 76.4,491.2 77.1,489.4 C77.8,487.6 79.9,478.8 80.7,475.6 C81.5,472.4 84.0,460.4 84.8,457.6 C85.6,454.8 88.1,448.6 88.9,447.5 C89.7,446.4 91.9,446.7 92.9,446.5 C93.9,446.3 97.8,445.2 98.7,445.3 C99.6,445.4 101.2,446.8 101.9,447.8 C102.6,448.8 104.5,453.0 105.2,455.1 C105.9,457.2 107.8,466.6 108.5,469.0 C109.2,471.4 111.0,477.2 111.7,478.8 C112.4,480.4 114.3,484.7 115.0,485.4 C115.7,486.1 117.6,486.4 118.3,486.2 C119.0,486.0 120.8,484.4 121.5,483.7 C122.2,483.0 124.1,479.3 124.8,478.8 C125.5,478.3 127.4,478.2 128.1,478.5 C128.8,478.8 130.7,481.1 131.3,481.8 C131.9,482.5 133.5,485.8 134.3,485.7 C135.1,485.6 138.4,482.2 139.5,481.3 C140.6,480.4 143.6,478.1 145.0,477.2 C146.4,476.3 152.4,474.6 154.0,472.3 C155.6,470.0 160.2,456.6 161.3,454.3 C162.4,452.0 163.9,449.8 164.6,449.1 C165.3,448.4 166.9,448.2 167.9,447.0 C168.9,445.8 173.5,438.2 174.4,437.2 C175.3,436.2 176.1,436.6 176.9,437.2 C177.7,437.8 181.4,442.1 182.6,443.7 C183.8,445.3 188.0,451.3 189.1,453.5 C190.2,455.7 192.4,463.1 193.2,465.8 C194.0,468.5 196.7,478.7 197.3,480.5 C198.0,482.3 198.4,483.5 199.7,483.4 C201.0,483.3 208.7,479.9 210.4,479.6 C212.1,479.3 215.3,480.1 216.9,480.5 C218.5,480.9 224.8,483.1 226.7,483.7 C228.6,484.3 234.2,486.3 235.7,486.2 C237.2,486.1 240.3,484.0 241.4,482.9 C242.5,481.8 245.7,476.7 246.9,475.6 C248.1,474.5 252.1,472.6 253.4,472.3 C254.7,472.0 258.6,471.9 260.0,472.3 C261.4,472.7 266.1,474.8 267.3,476.4 C268.5,478.0 271.3,486.2 272.2,488.6 C273.1,491.0 275.2,498.6 276.3,500.1 C277.4,501.6 282.4,503.3 283.7,503.3 C285.0,503.3 288.4,500.5 289.4,500.1 C290.4,499.7 292.5,498.9 293.5,499.2 C294.5,499.5 297.8,503.9 299.2,503.3 C300.6,502.7 306.1,493.9 307.4,492.7 C308.7,491.5 310.8,491.1 312.3,491.6 C313.8,492.1 320.4,497.7 322.1,498.1 C323.8,498.5 327.9,495.5 329.4,495.5 C330.9,495.5 335.8,498.0 336.8,498.1 C337.8,498.2 338.4,497.6 339.0,496.8 C339.6,496.0 341.4,492.3 342.3,490.3 C343.2,488.3 346.7,476.9 348.0,476.4 C349.3,475.9 353.8,484.5 355.3,485.4 C356.9,486.3 361.6,485.2 363.5,485.0 C365.4,484.8 372.5,482.9 374.1,482.9 C375.7,482.8 378.5,484.2 379.8,484.5 C381.1,484.8 386.0,485.1 387.2,485.7 C388.4,486.3 391.1,489.2 392.1,490.3 C393.1,491.4 395.8,497.8 397.0,497.1 C398.2,496.4 403.2,484.2 404.4,482.9 C405.6,481.6 408.1,483.7 409.3,483.7 C410.5,483.7 415.2,483.5 416.6,482.9 C418.0,482.3 422.0,478.3 423.2,478.0 C424.4,477.7 427.6,480.3 428.9,480.1 C430.2,479.9 434.9,476.1 436.0,475.6 C437.1,475.2 439.0,475.0 440.1,475.6 C441.2,476.2 445.8,480.3 447.4,481.3 C448.9,482.3 454.1,483.8 455.6,485.4 C457.1,486.9 460.8,494.9 462.1,496.8 C463.4,498.7 467.4,503.1 468.7,504.2 C470.0,505.3 473.6,507.8 475.2,507.4 C476.8,507.0 483.1,501.3 485.0,500.1 C486.9,498.9 492.4,495.1 494.0,495.5 C495.6,495.9 500.0,505.2 501.4,504.2 C502.8,503.2 506.8,488.0 507.9,485.4 C509.0,482.8 511.8,479.0 512.8,478.0 C513.8,477.0 516.6,476.9 517.7,475.6 C518.8,474.3 523.0,466.2 524.2,464.9 C525.4,463.6 529.0,462.6 530.0,462.5 C531.0,462.4 533.4,463.1 534.3,463.8 C535.2,464.6 538.3,467.9 539.2,470.0 C540.1,472.1 542.3,481.7 543.3,485.3 C544.3,488.9 548.2,505.4 549.6,506.4 C551.0,507.4 555.5,497.7 557.2,495.7 C558.9,493.7 565.0,486.8 566.3,486.0 C567.5,485.2 568.1,485.5 569.7,487.4 C571.3,489.3 580.4,504.5 582.2,505.0 C584.0,505.5 586.9,494.2 587.8,492.2 C588.7,490.2 591.1,486.0 591.5,485.3" fill="none" stroke="#1e3cff" stroke-width="1.35" stroke-linejoin="round" stroke-linecap="round"/>
<line x1="50.50" y1="514.80" x2="591.60" y2="514.80" stroke="#a8a8a8" stroke-width="1.6" stroke-dasharray="1.6 4.9" stroke-dashoffset="-5.7"/>
<line x1="47.00" y1="514.80" x2="50.50" y2="514.80" stroke="#000" stroke-width="1.8"/>
<text x="38.65" y="519.10" font-size="11.9" fill="#000" text-anchor="start" textLength="5.55" lengthAdjust="spacingAndGlyphs" stroke="#000" stroke-width="0.3">0</text>
<line x1="50.50" y1="494.80" x2="591.60" y2="494.80" stroke="#a8a8a8" stroke-width="1.6" stroke-dasharray="1.6 4.9" stroke-dashoffset="-5.7"/>
<line x1="47.00" y1="494.80" x2="50.50" y2="494.80" stroke="#000" stroke-width="1.8"/>
<text x="38.65" y="499.10" font-size="11.9" fill="#000" text-anchor="start" textLength="5.55" lengthAdjust="spacingAndGlyphs" stroke="#000" stroke-width="0.3">2</text>
<line x1="50.50" y1="474.80" x2="591.60" y2="474.80" stroke="#a8a8a8" stroke-width="1.6" stroke-dasharray="1.6 4.9" stroke-dashoffset="-5.7"/>
<line x1="47.00" y1="474.80" x2="50.50" y2="474.80" stroke="#000" stroke-width="1.8"/>
<text x="38.65" y="479.10" font-size="11.9" fill="#000" text-anchor="start" textLength="5.55" lengthAdjust="spacingAndGlyphs" stroke="#000" stroke-width="0.3">4</text>
<line x1="50.50" y1="454.80" x2="591.60" y2="454.80" stroke="#a8a8a8" stroke-width="1.6" stroke-dasharray="1.6 4.9" stroke-dashoffset="-5.7"/>
<line x1="47.00" y1="454.80" x2="50.50" y2="454.80" stroke="#000" stroke-width="1.8"/>
<text x="38.65" y="459.10" font-size="11.9" fill="#000" text-anchor="start" textLength="5.55" lengthAdjust="spacingAndGlyphs" stroke="#000" stroke-width="0.3">6</text>
<line x1="50.50" y1="434.80" x2="591.60" y2="434.80" stroke="#a8a8a8" stroke-width="1.6" stroke-dasharray="1.6 4.9" stroke-dashoffset="-5.7"/>
<line x1="47.00" y1="434.80" x2="50.50" y2="434.80" stroke="#000" stroke-width="1.8"/>
<text x="38.65" y="439.10" font-size="11.9" fill="#000" text-anchor="start" textLength="5.55" lengthAdjust="spacingAndGlyphs" stroke="#000" stroke-width="0.3">8</text>
<line x1="50.50" y1="424.80" x2="50.50" y2="514.80" stroke="#a8a8a8" stroke-width="1.6" stroke-dasharray="1.6 4.9" stroke-dashoffset="-4.45"/>
<line x1="50.50" y1="514.80" x2="50.50" y2="518.30" stroke="#000" stroke-width="1.6"/>
<text x="38.10" y="528.40" font-size="11.4" fill="#000" text-anchor="start" textLength="24.50" lengthAdjust="spacingAndGlyphs" stroke="#000" stroke-width="0.45">7APR</text>
<text x="38.10" y="539.40" font-size="11.4" fill="#000" text-anchor="start" textLength="24.50" lengthAdjust="spacingAndGlyphs" stroke="#000" stroke-width="0.45">2026</text>
<line x1="128.35" y1="424.80" x2="128.35" y2="514.80" stroke="#a8a8a8" stroke-width="1.6" stroke-dasharray="1.6 4.9" stroke-dashoffset="-4.45"/>
<line x1="128.35" y1="514.80" x2="128.35" y2="518.30" stroke="#000" stroke-width="1.6"/>
<text x="128.35" y="528.40" font-size="11.4" fill="#000" text-anchor="middle" textLength="24.20" lengthAdjust="spacingAndGlyphs" stroke="#000" stroke-width="0.45">8APR</text>
<line x1="206.20" y1="424.80" x2="206.20" y2="514.80" stroke="#a8a8a8" stroke-width="1.6" stroke-dasharray="1.6 4.9" stroke-dashoffset="-4.45"/>
<line x1="206.20" y1="514.80" x2="206.20" y2="518.30" stroke="#000" stroke-width="1.6"/>
<text x="206.20" y="528.40" font-size="11.4" fill="#000" text-anchor="middle" textLength="24.20" lengthAdjust="spacingAndGlyphs" stroke="#000" stroke-width="0.45">9APR</text>
<line x1="284.05" y1="424.80" x2="284.05" y2="514.80" stroke="#a8a8a8" stroke-width="1.6" stroke-dasharray="1.6 4.9" stroke-dashoffset="-4.45"/>
<line x1="284.05" y1="514.80" x2="284.05" y2="518.30" stroke="#000" stroke-width="1.6"/>
<text x="284.05" y="528.40" font-size="11.4" fill="#000" text-anchor="middle" textLength="30.40" lengthAdjust="spacingAndGlyphs" stroke="#000" stroke-width="0.45">10APR</text>
<line x1="361.90" y1="424.80" x2="361.90" y2="514.80" stroke="#a8a8a8" stroke-width="1.6" stroke-dasharray="1.6 4.9" stroke-dashoffset="-4.45"/>
<line x1="361.90" y1="514.80" x2="361.90" y2="518.30" stroke="#000" stroke-width="1.6"/>
<text x="361.90" y="528.40" font-size="11.4" fill="#000" text-anchor="middle" textLength="30.40" lengthAdjust="spacingAndGlyphs" stroke="#000" stroke-width="0.45">11APR</text>
<line x1="439.75" y1="424.80" x2="439.75" y2="514.80" stroke="#a8a8a8" stroke-width="1.6" stroke-dasharray="1.6 4.9" stroke-dashoffset="-4.45"/>
<line x1="439.75" y1="514.80" x2="439.75" y2="518.30" stroke="#000" stroke-width="1.6"/>
<text x="439.75" y="528.40" font-size="11.4" fill="#000" text-anchor="middle" textLength="30.40" lengthAdjust="spacingAndGlyphs" stroke="#000" stroke-width="0.45">12APR</text>
<line x1="517.60" y1="424.80" x2="517.60" y2="514.80" stroke="#a8a8a8" stroke-width="1.6" stroke-dasharray="1.6 4.9" stroke-dashoffset="-4.45"/>
<line x1="517.60" y1="514.80" x2="517.60" y2="518.30" stroke="#000" stroke-width="1.6"/>
<text x="517.60" y="528.40" font-size="11.4" fill="#000" text-anchor="middle" textLength="30.40" lengthAdjust="spacingAndGlyphs" stroke="#000" stroke-width="0.45">13APR</text>
<text x="72.40" y="422.50" font-size="14.0" fill="#000" text-anchor="start" textLength="152.00" lengthAdjust="spacingAndGlyphs" stroke="#000" stroke-width="0.18" word-spacing="3.5">Vento em 10m (m/s)</text>
<rect x="50.50" y="550.70" width="541.10" height="90.00" fill="none" stroke="#000" stroke-width="1.8"/>
<path d="M50.5,598.7 C50.8,597.4 53.1,585.8 53.7,585.3 C54.4,584.8 56.1,592.4 57.0,593.4 C57.9,594.4 61.5,594.4 62.7,595.4 C63.9,596.4 68.1,602.1 69.2,603.6 C70.3,605.1 72.6,609.8 73.3,610.9 C74.0,612.0 75.9,614.5 76.6,614.7 C77.3,614.9 79.2,612.4 79.9,612.5 C80.6,612.6 82.4,615.6 83.1,615.8 C83.8,616.0 85.7,614.3 86.4,614.2 C87.1,614.1 89.0,615.0 89.7,614.7 C90.4,614.4 92.0,610.7 92.9,611.4 C93.8,612.1 97.7,620.1 98.7,621.5 C99.7,622.9 102.0,625.1 102.7,625.6 C103.4,626.1 105.3,626.1 106.0,626.4 C106.7,626.7 108.5,628.5 109.3,628.9 C110.1,629.3 113.2,629.8 114.2,630.5 C115.2,631.2 118.3,635.5 119.1,636.2 C119.9,636.9 121.7,637.0 122.3,637.1 C122.9,637.2 124.2,637.4 124.8,637.1 C125.4,636.8 127.2,634.5 128.1,634.3 C129.0,634.1 132.8,635.1 133.8,635.4 C134.8,635.7 136.8,638.1 137.9,637.5 C139.0,636.9 143.4,629.4 144.4,628.9 C145.4,628.4 146.9,632.7 147.5,633.0 C148.1,633.3 150.0,632.8 150.7,632.1 C151.3,631.4 153.3,626.9 154.0,626.1 C154.7,625.3 156.6,624.3 157.3,624.0 C158.0,623.7 160.6,623.5 161.3,623.2 C162.0,622.9 164.0,621.5 164.6,620.7 C165.2,619.9 166.5,616.0 167.1,615.3 C167.7,614.6 169.7,613.4 170.3,613.7 C171.0,614.0 172.6,618.1 173.6,618.6 C174.6,619.1 179.1,618.0 180.1,618.3 C181.1,618.6 182.7,620.4 183.4,621.2 C184.1,622.0 186.1,625.7 186.7,626.1 C187.3,626.5 188.4,626.2 189.1,625.6 C189.8,625.0 192.1,620.8 193.2,619.9 C194.3,619.0 198.7,617.6 199.7,617.0 C200.7,616.4 202.3,615.0 203.0,614.2 C203.7,613.4 205.7,609.8 206.3,609.3 C207.0,608.8 208.8,608.6 209.5,608.8 C210.2,609.0 211.8,611.2 212.8,610.9 C213.8,610.6 218.4,606.5 219.3,606.0 C220.2,605.5 221.2,605.6 221.8,606.0 C222.4,606.4 224.4,609.6 225.1,610.1 C225.8,610.6 227.6,611.2 228.3,610.9 C229.0,610.6 231.3,607.6 232.4,606.8 C233.5,606.0 238.0,603.5 239.0,602.7 C240.0,601.9 241.6,599.7 242.2,598.7 C242.8,597.7 244.7,593.0 245.3,592.4 C245.9,591.8 247.8,592.6 248.5,592.9 C249.2,593.2 250.9,595.5 251.8,595.7 C252.7,596.0 256.5,595.0 257.5,595.4 C258.5,595.8 260.7,598.7 261.6,599.5 C262.5,600.3 265.6,603.6 266.5,603.6 C267.4,603.6 269.8,599.6 270.6,599.0 C271.4,598.4 273.8,597.8 274.7,597.8 C275.6,597.8 278.6,599.4 279.6,598.7 C280.6,598.1 283.5,592.1 284.5,591.3 C285.5,590.5 288.1,591.1 289.4,590.5 C290.7,589.9 296.5,585.9 297.6,585.3 C298.7,584.7 299.4,584.6 300.0,584.8 C300.6,585.0 302.7,587.0 303.3,587.2 C303.9,587.4 305.9,587.0 306.5,586.4 C307.1,585.8 309.1,581.5 309.8,580.7 C310.5,579.9 313.0,579.1 313.9,578.7 C314.8,578.3 317.9,577.9 318.8,577.1 C319.7,576.3 322.2,571.5 322.9,570.9 C323.6,570.3 325.5,570.7 326.1,570.9 C326.8,571.1 328.5,573.1 329.4,573.3 C330.3,573.5 334.1,572.5 335.1,572.8 C336.1,573.1 338.6,575.8 339.2,576.6 C339.8,577.4 340.9,579.9 341.5,580.7 C342.1,581.5 344.4,584.3 345.2,584.3 C346.0,584.3 348.7,581.1 349.6,580.7 C350.5,580.3 353.6,580.5 354.5,580.2 C355.4,580.0 357.8,579.0 358.6,578.2 C359.4,577.4 361.8,572.8 362.7,572.2 C363.6,571.6 366.4,572.8 367.6,572.2 C368.8,571.6 373.9,566.8 375.0,566.3 C376.1,565.8 377.6,566.3 378.2,566.8 C378.8,567.3 380.9,570.8 381.5,571.2 C382.1,571.6 383.2,571.4 383.9,570.9 C384.5,570.4 387.1,566.7 388.0,566.0 C388.9,565.3 392.0,563.9 392.9,563.5 C393.8,563.1 396.1,563.1 397.0,562.4 C397.9,561.7 401.2,557.0 401.9,556.5 C402.6,556.0 403.8,557.0 404.4,557.5 C405.0,558.0 407.5,561.2 408.4,561.9 C409.3,562.5 412.5,563.4 413.3,564.0 C414.1,564.6 415.9,567.1 416.6,568.4 C417.3,569.7 419.2,575.5 419.9,576.6 C420.5,577.7 422.3,578.9 423.1,579.0 C423.9,579.1 427.0,577.5 428.1,577.4 C429.2,577.3 432.9,578.4 433.8,578.2 C434.7,578.0 436.4,576.4 437.0,575.8 C437.6,575.2 438.8,572.8 439.3,572.2 C439.9,571.6 441.8,570.1 442.5,570.1 C443.2,570.1 445.6,572.6 446.6,572.5 C447.6,572.4 451.4,569.5 452.3,569.2 C453.2,568.9 454.9,569.2 455.6,569.6 C456.3,570.0 459.1,572.9 459.7,573.3 C460.3,573.7 461.5,573.8 462.1,573.3 C462.8,572.8 465.4,569.0 466.2,568.4 C467.0,567.8 469.5,567.9 470.3,567.6 C471.1,567.3 473.6,566.4 474.4,565.6 C475.2,564.8 477.8,560.2 478.5,559.8 C479.2,559.4 481.1,561.1 481.8,561.9 C482.5,562.7 484.8,566.6 485.8,567.6 C486.8,568.6 490.6,570.6 491.6,571.7 C492.6,572.8 494.7,577.1 495.6,579.0 C496.5,580.9 499.7,589.1 500.5,590.2 C501.3,591.3 502.8,589.5 503.8,589.7 C504.8,589.9 509.3,592.2 510.3,592.1 C511.3,592.0 512.8,589.8 513.5,589.0 C514.2,588.2 516.9,585.0 517.6,584.4 C518.3,583.8 519.8,583.1 520.4,583.4 C521.0,583.7 523.3,587.2 523.9,587.6 C524.5,588.0 526.0,587.5 526.7,587.2 C527.4,586.9 529.9,584.9 530.6,584.8 C531.3,584.7 533.0,585.8 533.6,586.6 C534.2,587.4 536.5,591.8 537.1,592.4 C537.7,593.0 539.3,593.3 539.9,593.1 C540.5,592.9 542.0,591.2 543.3,590.4 C544.5,589.6 551.1,585.8 552.4,584.8 C553.7,583.8 555.8,580.4 556.5,579.9 C557.2,579.4 558.4,579.1 559.3,579.9 C560.2,580.7 564.4,587.0 565.6,588.3 C566.8,589.5 569.9,591.1 571.1,592.4 C572.4,593.7 577.0,600.7 578.1,601.5 C579.2,602.3 581.4,600.6 582.2,600.5 C583.0,600.4 585.0,600.6 585.7,600.8 C586.4,601.0 588.6,602.2 589.2,602.4 C589.8,602.6 591.3,602.4 591.5,602.4" fill="none" stroke="#1e3cff" stroke-width="1.35" stroke-linejoin="round" stroke-linecap="round"/>
<line x1="50.50" y1="635.91" x2="591.60" y2="635.91" stroke="#a8a8a8" stroke-width="1.6" stroke-dasharray="1.6 4.9" stroke-dashoffset="-5.7"/>
<line x1="47.00" y1="635.91" x2="50.50" y2="635.91" stroke="#000" stroke-width="1.8"/>
<text x="20.20" y="640.21" font-size="11.9" fill="#000" text-anchor="start" textLength="24.00" lengthAdjust="spacingAndGlyphs" stroke="#000" stroke-width="0.3">1008</text>
<line x1="50.50" y1="619.93" x2="591.60" y2="619.93" stroke="#a8a8a8" stroke-width="1.6" stroke-dasharray="1.6 4.9" stroke-dashoffset="-5.7"/>
<line x1="47.00" y1="619.93" x2="50.50" y2="619.93" stroke="#000" stroke-width="1.8"/>
<text x="20.20" y="624.23" font-size="11.9" fill="#000" text-anchor="start" textLength="24.00" lengthAdjust="spacingAndGlyphs" stroke="#000" stroke-width="0.3">1011</text>
<line x1="50.50" y1="603.95" x2="591.60" y2="603.95" stroke="#a8a8a8" stroke-width="1.6" stroke-dasharray="1.6 4.9" stroke-dashoffset="-5.7"/>
<line x1="47.00" y1="603.95" x2="50.50" y2="603.95" stroke="#000" stroke-width="1.8"/>
<text x="20.20" y="608.25" font-size="11.9" fill="#000" text-anchor="start" textLength="24.00" lengthAdjust="spacingAndGlyphs" stroke="#000" stroke-width="0.3">1014</text>
<line x1="50.50" y1="587.98" x2="591.60" y2="587.98" stroke="#a8a8a8" stroke-width="1.6" stroke-dasharray="1.6 4.9" stroke-dashoffset="-5.7"/>
<line x1="47.00" y1="587.98" x2="50.50" y2="587.98" stroke="#000" stroke-width="1.8"/>
<text x="20.20" y="592.28" font-size="11.9" fill="#000" text-anchor="start" textLength="24.00" lengthAdjust="spacingAndGlyphs" stroke="#000" stroke-width="0.3">1017</text>
<line x1="50.50" y1="572.00" x2="591.60" y2="572.00" stroke="#a8a8a8" stroke-width="1.6" stroke-dasharray="1.6 4.9" stroke-dashoffset="-5.7"/>
<line x1="47.00" y1="572.00" x2="50.50" y2="572.00" stroke="#000" stroke-width="1.8"/>
<text x="20.20" y="576.30" font-size="11.9" fill="#000" text-anchor="start" textLength="24.00" lengthAdjust="spacingAndGlyphs" stroke="#000" stroke-width="0.3">1020</text>
<line x1="50.50" y1="556.03" x2="591.60" y2="556.03" stroke="#a8a8a8" stroke-width="1.6" stroke-dasharray="1.6 4.9" stroke-dashoffset="-5.7"/>
<line x1="47.00" y1="556.03" x2="50.50" y2="556.03" stroke="#000" stroke-width="1.8"/>
<text x="20.20" y="560.33" font-size="11.9" fill="#000" text-anchor="start" textLength="24.00" lengthAdjust="spacingAndGlyphs" stroke="#000" stroke-width="0.3">1023</text>
<line x1="50.50" y1="550.70" x2="50.50" y2="640.70" stroke="#a8a8a8" stroke-width="1.6" stroke-dasharray="1.6 4.9" stroke-dashoffset="-4.45"/>
<line x1="50.50" y1="640.70" x2="50.50" y2="644.20" stroke="#000" stroke-width="1.6"/>
<text x="38.10" y="654.30" font-size="11.4" fill="#000" text-anchor="start" textLength="24.50" lengthAdjust="spacingAndGlyphs" stroke="#000" stroke-width="0.45">7APR</text>
<text x="38.10" y="665.30" font-size="11.4" fill="#000" text-anchor="start" textLength="24.50" lengthAdjust="spacingAndGlyphs" stroke="#000" stroke-width="0.45">2026</text>
<line x1="128.35" y1="550.70" x2="128.35" y2="640.70" stroke="#a8a8a8" stroke-width="1.6" stroke-dasharray="1.6 4.9" stroke-dashoffset="-4.45"/>
<line x1="128.35" y1="640.70" x2="128.35" y2="644.20" stroke="#000" stroke-width="1.6"/>
<text x="128.35" y="654.30" font-size="11.4" fill="#000" text-anchor="middle" textLength="24.20" lengthAdjust="spacingAndGlyphs" stroke="#000" stroke-width="0.45">8APR</text>
<line x1="206.20" y1="550.70" x2="206.20" y2="640.70" stroke="#a8a8a8" stroke-width="1.6" stroke-dasharray="1.6 4.9" stroke-dashoffset="-4.45"/>
<line x1="206.20" y1="640.70" x2="206.20" y2="644.20" stroke="#000" stroke-width="1.6"/>
<text x="206.20" y="654.30" font-size="11.4" fill="#000" text-anchor="middle" textLength="24.20" lengthAdjust="spacingAndGlyphs" stroke="#000" stroke-width="0.45">9APR</text>
<line x1="284.05" y1="550.70" x2="284.05" y2="640.70" stroke="#a8a8a8" stroke-width="1.6" stroke-dasharray="1.6 4.9" stroke-dashoffset="-4.45"/>
<line x1="284.05" y1="640.70" x2="284.05" y2="644.20" stroke="#000" stroke-width="1.6"/>
<text x="284.05" y="654.30" font-size="11.4" fill="#000" text-anchor="middle" textLength="30.40" lengthAdjust="spacingAndGlyphs" stroke="#000" stroke-width="0.45">10APR</text>
<line x1="361.90" y1="550.70" x2="361.90" y2="640.70" stroke="#a8a8a8" stroke-width="1.6" stroke-dasharray="1.6 4.9" stroke-dashoffset="-4.45"/>
<line x1="361.90" y1="640.70" x2="361.90" y2="644.20" stroke="#000" stroke-width="1.6"/>
<text x="361.90" y="654.30" font-size="11.4" fill="#000" text-anchor="middle" textLength="30.40" lengthAdjust="spacingAndGlyphs" stroke="#000" stroke-width="0.45">11APR</text>
<line x1="439.75" y1="550.70" x2="439.75" y2="640.70" stroke="#a8a8a8" stroke-width="1.6" stroke-dasharray="1.6 4.9" stroke-dashoffset="-4.45"/>
<line x1="439.75" y1="640.70" x2="439.75" y2="644.20" stroke="#000" stroke-width="1.6"/>
<text x="439.75" y="654.30" font-size="11.4" fill="#000" text-anchor="middle" textLength="30.40" lengthAdjust="spacingAndGlyphs" stroke="#000" stroke-width="0.45">12APR</text>
<line x1="517.60" y1="550.70" x2="517.60" y2="640.70" stroke="#a8a8a8" stroke-width="1.6" stroke-dasharray="1.6 4.9" stroke-dashoffset="-4.45"/>
<line x1="517.60" y1="640.70" x2="517.60" y2="644.20" stroke="#000" stroke-width="1.6"/>
<text x="517.60" y="654.30" font-size="11.4" fill="#000" text-anchor="middle" textLength="30.40" lengthAdjust="spacingAndGlyphs" stroke="#000" stroke-width="0.45">13APR</text>
<text x="72.50" y="548.40" font-size="14.0" fill="#000" text-anchor="start" textLength="263.50" lengthAdjust="spacingAndGlyphs" stroke="#000" stroke-width="0.18" word-spacing="3.5">Pressao ao Nivel Medio do Mar (hPa)</text>
<rect x="50.50" y="676.50" width="541.10" height="90.00" fill="none" stroke="#000" stroke-width="1.8"/>
<rect x="52.12" y="676.50" width="3.24" height="90.00" fill="#f08228" fill-opacity="0.55" stroke="#f08228" stroke-width="1.1"/>
<rect x="55.37" y="721.50" width="3.24" height="45.00" fill="#f08228" fill-opacity="0.55" stroke="#f08228" stroke-width="1.1"/>
<rect x="58.61" y="729.60" width="3.24" height="36.90" fill="#f08228" fill-opacity="0.55" stroke="#f08228" stroke-width="1.1"/>
<rect x="61.86" y="729.60" width="3.24" height="36.90" fill="#f08228" fill-opacity="0.55" stroke="#f08228" stroke-width="1.1"/>
<rect x="65.10" y="683.70" width="3.24" height="82.80" fill="#f08228" fill-opacity="0.55" stroke="#f08228" stroke-width="1.1"/>
<rect x="68.34" y="753.00" width="3.24" height="13.50" fill="#f08228" fill-opacity="0.55" stroke="#f08228" stroke-width="1.1"/>
<rect x="71.59" y="766.50" width="3.24" height="0.01" fill="#f08228" fill-opacity="0.55" stroke="#f08228" stroke-width="1.1"/>
<rect x="74.83" y="765.60" width="3.24" height="0.90" fill="#f08228" fill-opacity="0.55" stroke="#f08228" stroke-width="1.1"/>
<rect x="78.07" y="697.20" width="3.24" height="69.30" fill="#f08228" fill-opacity="0.55" stroke="#f08228" stroke-width="1.1"/>
<rect x="81.32" y="677.40" width="3.24" height="89.10" fill="#f08228" fill-opacity="0.55" stroke="#f08228" stroke-width="1.1"/>
<rect x="84.56" y="738.60" width="3.24" height="27.90" fill="#f08228" fill-opacity="0.55" stroke="#f08228" stroke-width="1.1"/>
<rect x="87.80" y="766.50" width="3.24" height="0.01" fill="#f08228" fill-opacity="0.55" stroke="#f08228" stroke-width="1.1"/>
<rect x="91.05" y="744.90" width="3.24" height="21.60" fill="#f08228" fill-opacity="0.55" stroke="#f08228" stroke-width="1.1"/>
<rect x="94.29" y="676.50" width="3.24" height="90.00" fill="#f08228" fill-opacity="0.55" stroke="#f08228" stroke-width="1.1"/>
<rect x="97.54" y="676.50" width="3.24" height="90.00" fill="#f08228" fill-opacity="0.55" stroke="#f08228" stroke-width="1.1"/>
<rect x="100.78" y="676.50" width="3.24" height="90.00" fill="#f08228" fill-opacity="0.55" stroke="#f08228" stroke-width="1.1"/>
<rect x="104.02" y="676.50" width="3.24" height="90.00" fill="#f08228" fill-opacity="0.55" stroke="#f08228" stroke-width="1.1"/>
<rect x="107.27" y="676.50" width="3.24" height="90.00" fill="#f08228" fill-opacity="0.55" stroke="#f08228" stroke-width="1.1"/>
<rect x="110.51" y="676.50" width="3.24" height="90.00" fill="#f08228" fill-opacity="0.55" stroke="#f08228" stroke-width="1.1"/>
<rect x="113.75" y="676.50" width="3.24" height="90.00" fill="#f08228" fill-opacity="0.55" stroke="#f08228" stroke-width="1.1"/>
<rect x="117.00" y="676.50" width="3.24" height="90.00" fill="#f08228" fill-opacity="0.55" stroke="#f08228" stroke-width="1.1"/>
<rect x="120.24" y="676.50" width="3.24" height="90.00" fill="#f08228" fill-opacity="0.55" stroke="#f08228" stroke-width="1.1"/>
<rect x="123.49" y="676.50" width="3.24" height="90.00" fill="#f08228" fill-opacity="0.55" stroke="#f08228" stroke-width="1.1"/>
<rect x="126.73" y="676.50" width="3.24" height="90.00" fill="#f08228" fill-opacity="0.55" stroke="#f08228" stroke-width="1.1"/>
<rect x="129.97" y="676.50" width="3.24" height="90.00" fill="#f08228" fill-opacity="0.55" stroke="#f08228" stroke-width="1.1"/>
<rect x="133.22" y="676.50" width="3.24" height="90.00" fill="#f08228" fill-opacity="0.55" stroke="#f08228" stroke-width="1.1"/>
<rect x="136.46" y="676.50" width="3.24" height="90.00" fill="#f08228" fill-opacity="0.55" stroke="#f08228" stroke-width="1.1"/>
<rect x="139.70" y="710.70" width="3.24" height="55.80" fill="#f08228" fill-opacity="0.55" stroke="#f08228" stroke-width="1.1"/>
<rect x="142.95" y="763.80" width="3.24" height="2.70" fill="#f08228" fill-opacity="0.55" stroke="#f08228" stroke-width="1.1"/>
<rect x="146.19" y="766.50" width="3.24" height="0.01" fill="#f08228" fill-opacity="0.55" stroke="#f08228" stroke-width="1.1"/>
<rect x="149.44" y="766.50" width="3.24" height="0.01" fill="#f08228" fill-opacity="0.55" stroke="#f08228" stroke-width="1.1"/>
<rect x="152.68" y="766.50" width="3.24" height="0.01" fill="#f08228" fill-opacity="0.55" stroke="#f08228" stroke-width="1.1"/>
<rect x="155.92" y="766.50" width="3.24" height="0.01" fill="#f08228" fill-opacity="0.55" stroke="#f08228" stroke-width="1.1"/>
<rect x="159.17" y="766.50" width="3.24" height="0.01" fill="#f08228" fill-opacity="0.55" stroke="#f08228" stroke-width="1.1"/>
<rect x="162.41" y="766.50" width="3.24" height="0.01" fill="#f08228" fill-opacity="0.55" stroke="#f08228" stroke-width="1.1"/>
<rect x="165.65" y="766.50" width="3.24" height="0.01" fill="#f08228" fill-opacity="0.55" stroke="#f08228" stroke-width="1.1"/>
<rect x="168.90" y="766.50" width="3.24" height="0.01" fill="#f08228" fill-opacity="0.55" stroke="#f08228" stroke-width="1.1"/>
<rect x="172.14" y="766.50" width="3.24" height="0.01" fill="#f08228" fill-opacity="0.55" stroke="#f08228" stroke-width="1.1"/>
<rect x="175.39" y="766.50" width="3.24" height="0.01" fill="#f08228" fill-opacity="0.55" stroke="#f08228" stroke-width="1.1"/>
<rect x="178.63" y="766.50" width="3.24" height="0.01" fill="#f08228" fill-opacity="0.55" stroke="#f08228" stroke-width="1.1"/>
<rect x="181.87" y="766.50" width="3.24" height="0.01" fill="#f08228" fill-opacity="0.55" stroke="#f08228" stroke-width="1.1"/>
<rect x="185.12" y="766.50" width="3.24" height="0.01" fill="#f08228" fill-opacity="0.55" stroke="#f08228" stroke-width="1.1"/>
<rect x="188.36" y="766.50" width="3.24" height="0.01" fill="#f08228" fill-opacity="0.55" stroke="#f08228" stroke-width="1.1"/>
<rect x="191.60" y="766.50" width="3.24" height="0.01" fill="#f08228" fill-opacity="0.55" stroke="#f08228" stroke-width="1.1"/>
<rect x="194.85" y="766.50" width="3.24" height="0.01" fill="#f08228" fill-opacity="0.55" stroke="#f08228" stroke-width="1.1"/>
<rect x="198.09" y="766.50" width="3.24" height="0.01" fill="#f08228" fill-opacity="0.55" stroke="#f08228" stroke-width="1.1"/>
<rect x="201.34" y="766.50" width="3.24" height="0.01" fill="#f08228" fill-opacity="0.55" stroke="#f08228" stroke-width="1.1"/>
<rect x="204.58" y="766.50" width="3.24" height="0.01" fill="#f08228" fill-opacity="0.55" stroke="#f08228" stroke-width="1.1"/>
<rect x="207.82" y="766.50" width="3.24" height="0.01" fill="#f08228" fill-opacity="0.55" stroke="#f08228" stroke-width="1.1"/>
<rect x="211.07" y="766.50" width="3.24" height="0.01" fill="#f08228" fill-opacity="0.55" stroke="#f08228" stroke-width="1.1"/>
<rect x="214.31" y="766.50" width="3.24" height="0.01" fill="#f08228" fill-opacity="0.55" stroke="#f08228" stroke-width="1.1"/>
<rect x="217.55" y="766.50" width="3.24" height="0.01" fill="#f08228" fill-opacity="0.55" stroke="#f08228" stroke-width="1.1"/>
<rect x="220.80" y="766.50" width="3.24" height="0.01" fill="#f08228" fill-opacity="0.55" stroke="#f08228" stroke-width="1.1"/>
<rect x="224.04" y="766.50" width="3.24" height="0.01" fill="#f08228" fill-opacity="0.55" stroke="#f08228" stroke-width="1.1"/>
<rect x="227.29" y="766.50" width="3.24" height="0.01" fill="#f08228" fill-opacity="0.55" stroke="#f08228" stroke-width="1.1"/>
<rect x="230.53" y="766.50" width="3.24" height="0.01" fill="#f08228" fill-opacity="0.55" stroke="#f08228" stroke-width="1.1"/>
<rect x="233.77" y="766.50" width="3.24" height="0.01" fill="#f08228" fill-opacity="0.55" stroke="#f08228" stroke-width="1.1"/>
<rect x="237.02" y="766.50" width="3.24" height="0.01" fill="#f08228" fill-opacity="0.55" stroke="#f08228" stroke-width="1.1"/>
<rect x="240.26" y="766.50" width="3.24" height="0.01" fill="#f08228" fill-opacity="0.55" stroke="#f08228" stroke-width="1.1"/>
<rect x="243.50" y="766.50" width="3.24" height="0.01" fill="#f08228" fill-opacity="0.55" stroke="#f08228" stroke-width="1.1"/>
<rect x="246.75" y="766.50" width="3.24" height="0.01" fill="#f08228" fill-opacity="0.55" stroke="#f08228" stroke-width="1.1"/>
<rect x="249.99" y="766.50" width="3.24" height="0.01" fill="#f08228" fill-opacity="0.55" stroke="#f08228" stroke-width="1.1"/>
<rect x="253.24" y="766.50" width="3.24" height="0.01" fill="#f08228" fill-opacity="0.55" stroke="#f08228" stroke-width="1.1"/>
<rect x="256.48" y="766.50" width="3.24" height="0.01" fill="#f08228" fill-opacity="0.55" stroke="#f08228" stroke-width="1.1"/>
<rect x="259.72" y="766.50" width="3.24" height="0.01" fill="#f08228" fill-opacity="0.55" stroke="#f08228" stroke-width="1.1"/>
<rect x="262.97" y="766.50" width="3.24" height="0.01" fill="#f08228" fill-opacity="0.55" stroke="#f08228" stroke-width="1.1"/>
<rect x="266.21" y="766.50" width="3.24" height="0.01" fill="#f08228" fill-opacity="0.55" stroke="#f08228" stroke-width="1.1"/>
<rect x="269.45" y="766.50" width="3.24" height="0.01" fill="#f08228" fill-opacity="0.55" stroke="#f08228" stroke-width="1.1"/>
<rect x="272.70" y="766.50" width="3.24" height="0.01" fill="#f08228" fill-opacity="0.55" stroke="#f08228" stroke-width="1.1"/>
<rect x="275.94" y="766.50" width="3.24" height="0.01" fill="#f08228" fill-opacity="0.55" stroke="#f08228" stroke-width="1.1"/>
<rect x="279.19" y="766.50" width="3.24" height="0.01" fill="#f08228" fill-opacity="0.55" stroke="#f08228" stroke-width="1.1"/>
<rect x="282.43" y="766.50" width="3.24" height="0.01" fill="#f08228" fill-opacity="0.55" stroke="#f08228" stroke-width="1.1"/>
<rect x="285.67" y="766.50" width="3.24" height="0.01" fill="#f08228" fill-opacity="0.55" stroke="#f08228" stroke-width="1.1"/>
<rect x="288.92" y="766.50" width="3.24" height="0.01" fill="#f08228" fill-opacity="0.55" stroke="#f08228" stroke-width="1.1"/>
<rect x="292.16" y="766.50" width="3.24" height="0.01" fill="#f08228" fill-opacity="0.55" stroke="#f08228" stroke-width="1.1"/>
<rect x="295.40" y="766.50" width="3.24" height="0.01" fill="#f08228" fill-opacity="0.55" stroke="#f08228" stroke-width="1.1"/>
<rect x="298.65" y="766.50" width="3.24" height="0.01" fill="#f08228" fill-opacity="0.55" stroke="#f08228" stroke-width="1.1"/>
<rect x="301.89" y="766.50" width="3.24" height="0.01" fill="#f08228" fill-opacity="0.55" stroke="#f08228" stroke-width="1.1"/>
<rect x="305.14" y="766.50" width="3.24" height="0.01" fill="#f08228" fill-opacity="0.55" stroke="#f08228" stroke-width="1.1"/>
<rect x="308.38" y="766.50" width="3.24" height="0.01" fill="#f08228" fill-opacity="0.55" stroke="#f08228" stroke-width="1.1"/>
<rect x="311.62" y="766.50" width="3.24" height="0.01" fill="#f08228" fill-opacity="0.55" stroke="#f08228" stroke-width="1.1"/>
<rect x="314.87" y="766.50" width="3.24" height="0.01" fill="#f08228" fill-opacity="0.55" stroke="#f08228" stroke-width="1.1"/>
<rect x="318.11" y="766.50" width="3.24" height="0.01" fill="#f08228" fill-opacity="0.55" stroke="#f08228" stroke-width="1.1"/>
<rect x="321.35" y="766.50" width="3.24" height="0.01" fill="#f08228" fill-opacity="0.55" stroke="#f08228" stroke-width="1.1"/>
<rect x="324.60" y="766.50" width="3.24" height="0.01" fill="#f08228" fill-opacity="0.55" stroke="#f08228" stroke-width="1.1"/>
<rect x="327.84" y="766.50" width="3.24" height="0.01" fill="#f08228" fill-opacity="0.55" stroke="#f08228" stroke-width="1.1"/>
<rect x="331.09" y="766.50" width="3.24" height="0.01" fill="#f08228" fill-opacity="0.55" stroke="#f08228" stroke-width="1.1"/>
<rect x="334.33" y="766.50" width="3.24" height="0.01" fill="#f08228" fill-opacity="0.55" stroke="#f08228" stroke-width="1.1"/>
<rect x="337.57" y="766.50" width="3.24" height="0.01" fill="#f08228" fill-opacity="0.55" stroke="#f08228" stroke-width="1.1"/>
<rect x="340.82" y="766.50" width="3.24" height="0.01" fill="#f08228" fill-opacity="0.55" stroke="#f08228" stroke-width="1.1"/>
<rect x="344.06" y="766.50" width="3.24" height="0.01" fill="#f08228" fill-opacity="0.55" stroke="#f08228" stroke-width="1.1"/>
<rect x="347.31" y="766.50" width="3.24" height="0.01" fill="#f08228" fill-opacity="0.55" stroke="#f08228" stroke-width="1.1"/>
<rect x="350.55" y="766.50" width="3.24" height="0.01" fill="#f08228" fill-opacity="0.55" stroke="#f08228" stroke-width="1.1"/>
<rect x="353.79" y="766.50" width="3.24" height="0.01" fill="#f08228" fill-opacity="0.55" stroke="#f08228" stroke-width="1.1"/>
<rect x="357.04" y="766.50" width="3.24" height="0.01" fill="#f08228" fill-opacity="0.55" stroke="#f08228" stroke-width="1.1"/>
<rect x="360.28" y="766.50" width="3.24" height="0.01" fill="#f08228" fill-opacity="0.55" stroke="#f08228" stroke-width="1.1"/>
<rect x="363.52" y="766.50" width="3.24" height="0.01" fill="#f08228" fill-opacity="0.55" stroke="#f08228" stroke-width="1.1"/>
<rect x="366.77" y="766.50" width="3.24" height="0.01" fill="#f08228" fill-opacity="0.55" stroke="#f08228" stroke-width="1.1"/>
<rect x="370.01" y="766.50" width="3.24" height="0.01" fill="#f08228" fill-opacity="0.55" stroke="#f08228" stroke-width="1.1"/>
<rect x="373.25" y="766.50" width="3.24" height="0.01" fill="#f08228" fill-opacity="0.55" stroke="#f08228" stroke-width="1.1"/>
<rect x="376.50" y="766.50" width="3.24" height="0.01" fill="#f08228" fill-opacity="0.55" stroke="#f08228" stroke-width="1.1"/>
<rect x="379.74" y="766.50" width="3.24" height="0.01" fill="#f08228" fill-opacity="0.55" stroke="#f08228" stroke-width="1.1"/>
<rect x="382.99" y="766.50" width="3.24" height="0.01" fill="#f08228" fill-opacity="0.55" stroke="#f08228" stroke-width="1.1"/>
<rect x="386.23" y="766.50" width="3.24" height="0.01" fill="#f08228" fill-opacity="0.55" stroke="#f08228" stroke-width="1.1"/>
<rect x="389.47" y="766.50" width="3.24" height="0.01" fill="#f08228" fill-opacity="0.55" stroke="#f08228" stroke-width="1.1"/>
<rect x="392.72" y="766.50" width="3.24" height="0.01" fill="#f08228" fill-opacity="0.55" stroke="#f08228" stroke-width="1.1"/>
<rect x="395.96" y="766.50" width="3.24" height="0.01" fill="#f08228" fill-opacity="0.55" stroke="#f08228" stroke-width="1.1"/>
<rect x="399.20" y="766.50" width="3.24" height="0.01" fill="#f08228" fill-opacity="0.55" stroke="#f08228" stroke-width="1.1"/>
<rect x="402.45" y="766.50" width="3.24" height="0.01" fill="#f08228" fill-opacity="0.55" stroke="#f08228" stroke-width="1.1"/>
<rect x="405.69" y="766.50" width="3.24" height="0.01" fill="#f08228" fill-opacity="0.55" stroke="#f08228" stroke-width="1.1"/>
<rect x="408.94" y="766.50" width="3.24" height="0.01" fill="#f08228" fill-opacity="0.55" stroke="#f08228" stroke-width="1.1"/>
<rect x="412.18" y="766.50" width="3.24" height="0.01" fill="#f08228" fill-opacity="0.55" stroke="#f08228" stroke-width="1.1"/>
<rect x="415.42" y="766.50" width="3.24" height="0.01" fill="#f08228" fill-opacity="0.55" stroke="#f08228" stroke-width="1.1"/>
<rect x="418.67" y="766.50" width="3.24" height="0.01" fill="#f08228" fill-opacity="0.55" stroke="#f08228" stroke-width="1.1"/>
<rect x="421.91" y="766.50" width="3.24" height="0.01" fill="#f08228" fill-opacity="0.55" stroke="#f08228" stroke-width="1.1"/>
<rect x="425.15" y="766.50" width="3.24" height="0.01" fill="#f08228" fill-opacity="0.55" stroke="#f08228" stroke-width="1.1"/>
<rect x="428.40" y="766.50" width="3.24" height="0.01" fill="#f08228" fill-opacity="0.55" stroke="#f08228" stroke-width="1.1"/>
<rect x="431.64" y="766.50" width="3.24" height="0.01" fill="#f08228" fill-opacity="0.55" stroke="#f08228" stroke-width="1.1"/>
<rect x="434.89" y="766.50" width="3.24" height="0.01" fill="#f08228" fill-opacity="0.55" stroke="#f08228" stroke-width="1.1"/>
<rect x="438.13" y="766.50" width="3.24" height="0.01" fill="#f08228" fill-opacity="0.55" stroke="#f08228" stroke-width="1.1"/>
<rect x="441.37" y="766.50" width="3.24" height="0.01" fill="#f08228" fill-opacity="0.55" stroke="#f08228" stroke-width="1.1"/>
<rect x="444.62" y="766.50" width="3.24" height="0.01" fill="#f08228" fill-opacity="0.55" stroke="#f08228" stroke-width="1.1"/>
<rect x="447.86" y="766.50" width="3.24" height="0.01" fill="#f08228" fill-opacity="0.55" stroke="#f08228" stroke-width="1.1"/>
<rect x="451.10" y="766.50" width="3.24" height="0.01" fill="#f08228" fill-opacity="0.55" stroke="#f08228" stroke-width="1.1"/>
<rect x="454.35" y="766.50" width="3.24" height="0.01" fill="#f08228" fill-opacity="0.55" stroke="#f08228" stroke-width="1.1"/>
<rect x="457.59" y="766.50" width="3.24" height="0.01" fill="#f08228" fill-opacity="0.55" stroke="#f08228" stroke-width="1.1"/>
<rect x="460.84" y="766.50" width="3.24" height="0.01" fill="#f08228" fill-opacity="0.55" stroke="#f08228" stroke-width="1.1"/>
<rect x="464.08" y="766.50" width="3.24" height="0.01" fill="#f08228" fill-opacity="0.55" stroke="#f08228" stroke-width="1.1"/>
<rect x="467.32" y="766.50" width="3.24" height="0.01" fill="#f08228" fill-opacity="0.55" stroke="#f08228" stroke-width="1.1"/>
<rect x="470.57" y="766.50" width="3.24" height="0.01" fill="#f08228" fill-opacity="0.55" stroke="#f08228" stroke-width="1.1"/>
<rect x="473.81" y="766.50" width="3.24" height="0.01" fill="#f08228" fill-opacity="0.55" stroke="#f08228" stroke-width="1.1"/>
<rect x="477.05" y="766.50" width="3.24" height="0.01" fill="#f08228" fill-opacity="0.55" stroke="#f08228" stroke-width="1.1"/>
<rect x="480.30" y="766.50" width="3.24" height="0.01" fill="#f08228" fill-opacity="0.55" stroke="#f08228" stroke-width="1.1"/>
<rect x="483.54" y="766.50" width="3.24" height="0.01" fill="#f08228" fill-opacity="0.55" stroke="#f08228" stroke-width="1.1"/>
<rect x="486.79" y="766.50" width="3.24" height="0.01" fill="#f08228" fill-opacity="0.55" stroke="#f08228" stroke-width="1.1"/>
<rect x="490.03" y="766.50" width="3.24" height="0.01" fill="#f08228" fill-opacity="0.55" stroke="#f08228" stroke-width="1.1"/>
<rect x="493.27" y="766.50" width="3.24" height="0.01" fill="#f08228" fill-opacity="0.55" stroke="#f08228" stroke-width="1.1"/>
<rect x="496.52" y="766.50" width="3.24" height="0.01" fill="#f08228" fill-opacity="0.55" stroke="#f08228" stroke-width="1.1"/>
<rect x="499.76" y="766.50" width="3.24" height="0.01" fill="#f08228" fill-opacity="0.55" stroke="#f08228" stroke-width="1.1"/>
<rect x="503.00" y="766.50" width="3.24" height="0.01" fill="#f08228" fill-opacity="0.55" stroke="#f08228" stroke-width="1.1"/>
<rect x="506.25" y="766.50" width="3.24" height="0.01" fill="#f08228" fill-opacity="0.55" stroke="#f08228" stroke-width="1.1"/>
<rect x="509.49" y="766.50" width="3.24" height="0.01" fill="#f08228" fill-opacity="0.55" stroke="#f08228" stroke-width="1.1"/>
<rect x="512.74" y="766.50" width="3.24" height="0.01" fill="#f08228" fill-opacity="0.55" stroke="#f08228" stroke-width="1.1"/>
<rect x="515.98" y="743.10" width="3.24" height="23.40" fill="#f08228" fill-opacity="0.55" stroke="#f08228" stroke-width="1.1"/>
<rect x="519.22" y="754.80" width="3.24" height="11.70" fill="#f08228" fill-opacity="0.55" stroke="#f08228" stroke-width="1.1"/>
<rect x="522.47" y="733.20" width="3.24" height="33.30" fill="#f08228" fill-opacity="0.55" stroke="#f08228" stroke-width="1.1"/>
<rect x="525.71" y="708.90" width="3.24" height="57.60" fill="#f08228" fill-opacity="0.55" stroke="#f08228" stroke-width="1.1"/>
<rect x="528.96" y="676.50" width="3.24" height="90.00" fill="#f08228" fill-opacity="0.55" stroke="#f08228" stroke-width="1.1"/>
<rect x="532.20" y="766.50" width="3.24" height="0.01" fill="#f08228" fill-opacity="0.55" stroke="#f08228" stroke-width="1.1"/>
<rect x="535.44" y="766.50" width="3.24" height="0.01" fill="#f08228" fill-opacity="0.55" stroke="#f08228" stroke-width="1.1"/>
<rect x="538.69" y="766.50" width="3.24" height="0.01" fill="#f08228" fill-opacity="0.55" stroke="#f08228" stroke-width="1.1"/>
<rect x="541.93" y="766.50" width="3.24" height="0.01" fill="#f08228" fill-opacity="0.55" stroke="#f08228" stroke-width="1.1"/>
<rect x="545.17" y="766.50" width="3.24" height="0.01" fill="#f08228" fill-opacity="0.55" stroke="#f08228" stroke-width="1.1"/>
<rect x="548.42" y="766.50" width="3.24" height="0.01" fill="#f08228" fill-opacity="0.55" stroke="#f08228" stroke-width="1.1"/>
<rect x="551.66" y="766.50" width="3.24" height="0.01" fill="#f08228" fill-opacity="0.55" stroke="#f08228" stroke-width="1.1"/>
<rect x="554.90" y="766.50" width="3.24" height="0.01" fill="#f08228" fill-opacity="0.55" stroke="#f08228" stroke-width="1.1"/>
<rect x="558.15" y="711.60" width="3.24" height="54.90" fill="#f08228" fill-opacity="0.55" stroke="#f08228" stroke-width="1.1"/>
<rect x="561.39" y="712.50" width="3.24" height="54.00" fill="#f08228" fill-opacity="0.55" stroke="#f08228" stroke-width="1.1"/>
<rect x="564.64" y="676.50" width="3.24" height="90.00" fill="#f08228" fill-opacity="0.55" stroke="#f08228" stroke-width="1.1"/>
<rect x="567.88" y="676.50" width="3.24" height="90.00" fill="#f08228" fill-opacity="0.55" stroke="#f08228" stroke-width="1.1"/>
<rect x="571.12" y="676.50" width="3.24" height="90.00" fill="#f08228" fill-opacity="0.55" stroke="#f08228" stroke-width="1.1"/>
<rect x="574.37" y="676.50" width="3.24" height="90.00" fill="#f08228" fill-opacity="0.55" stroke="#f08228" stroke-width="1.1"/>
<rect x="577.61" y="676.50" width="3.24" height="90.00" fill="#f08228" fill-opacity="0.55" stroke="#f08228" stroke-width="1.1"/>
<rect x="580.86" y="676.50" width="3.24" height="90.00" fill="#f08228" fill-opacity="0.55" stroke="#f08228" stroke-width="1.1"/>
<rect x="584.10" y="676.50" width="3.24" height="90.00" fill="#f08228" fill-opacity="0.55" stroke="#f08228" stroke-width="1.1"/>
<rect x="587.34" y="676.50" width="3.24" height="90.00" fill="#f08228" fill-opacity="0.55" stroke="#f08228" stroke-width="1.1"/>
<rect x="590.59" y="676.50" width="3.24" height="90.00" fill="#f08228" fill-opacity="0.55" stroke="#f08228" stroke-width="1.1"/>
<rect x="52.12" y="676.50" width="3.24" height="90.00" fill="#00dc00" fill-opacity="0.5" stroke="#00dc00" stroke-width="1.1"/>
<rect x="55.37" y="676.50" width="3.24" height="90.00" fill="#00dc00" fill-opacity="0.5" stroke="#00dc00" stroke-width="1.1"/>
<rect x="58.61" y="679.20" width="3.24" height="87.30" fill="#00dc00" fill-opacity="0.5" stroke="#00dc00" stroke-width="1.1"/>
<rect x="61.86" y="676.50" width="3.24" height="90.00" fill="#00dc00" fill-opacity="0.5" stroke="#00dc00" stroke-width="1.1"/>
<rect x="65.10" y="676.50" width="3.24" height="90.00" fill="#00dc00" fill-opacity="0.5" stroke="#00dc00" stroke-width="1.1"/>
<rect x="68.34" y="676.50" width="3.24" height="90.00" fill="#00dc00" fill-opacity="0.5" stroke="#00dc00" stroke-width="1.1"/>
<rect x="71.59" y="737.70" width="3.24" height="28.80" fill="#00dc00" fill-opacity="0.5" stroke="#00dc00" stroke-width="1.1"/>
<rect x="74.83" y="766.50" width="3.24" height="0.01" fill="#00dc00" fill-opacity="0.5" stroke="#00dc00" stroke-width="1.1"/>
<rect x="78.07" y="766.50" width="3.24" height="0.01" fill="#00dc00" fill-opacity="0.5" stroke="#00dc00" stroke-width="1.1"/>
<rect x="81.32" y="766.50" width="3.24" height="0.01" fill="#00dc00" fill-opacity="0.5" stroke="#00dc00" stroke-width="1.1"/>
<rect x="84.56" y="766.50" width="3.24" height="0.01" fill="#00dc00" fill-opacity="0.5" stroke="#00dc00" stroke-width="1.1"/>
<rect x="87.80" y="766.50" width="3.24" height="0.01" fill="#00dc00" fill-opacity="0.5" stroke="#00dc00" stroke-width="1.1"/>
<rect x="91.05" y="763.80" width="3.24" height="2.70" fill="#00dc00" fill-opacity="0.5" stroke="#00dc00" stroke-width="1.1"/>
<rect x="94.29" y="753.00" width="3.24" height="13.50" fill="#00dc00" fill-opacity="0.5" stroke="#00dc00" stroke-width="1.1"/>
<rect x="97.54" y="726.90" width="3.24" height="39.60" fill="#00dc00" fill-opacity="0.5" stroke="#00dc00" stroke-width="1.1"/>
<rect x="100.78" y="726.90" width="3.24" height="39.60" fill="#00dc00" fill-opacity="0.5" stroke="#00dc00" stroke-width="1.1"/>
<rect x="104.02" y="762.90" width="3.24" height="3.60" fill="#00dc00" fill-opacity="0.5" stroke="#00dc00" stroke-width="1.1"/>
<rect x="107.27" y="759.30" width="3.24" height="7.20" fill="#00dc00" fill-opacity="0.5" stroke="#00dc00" stroke-width="1.1"/>
<rect x="110.51" y="758.85" width="3.24" height="7.65" fill="#00dc00" fill-opacity="0.5" stroke="#00dc00" stroke-width="1.1"/>
<rect x="113.75" y="762.00" width="3.24" height="4.50" fill="#00dc00" fill-opacity="0.5" stroke="#00dc00" stroke-width="1.1"/>
<rect x="117.00" y="699.90" width="3.24" height="66.60" fill="#00dc00" fill-opacity="0.5" stroke="#00dc00" stroke-width="1.1"/>
<rect x="120.24" y="687.30" width="3.24" height="79.20" fill="#00dc00" fill-opacity="0.5" stroke="#00dc00" stroke-width="1.1"/>
<rect x="123.49" y="688.20" width="3.24" height="78.30" fill="#00dc00" fill-opacity="0.5" stroke="#00dc00" stroke-width="1.1"/>
<rect x="126.73" y="679.20" width="3.24" height="87.30" fill="#00dc00" fill-opacity="0.5" stroke="#00dc00" stroke-width="1.1"/>
<rect x="129.97" y="678.30" width="3.24" height="88.20" fill="#00dc00" fill-opacity="0.5" stroke="#00dc00" stroke-width="1.1"/>
<rect x="133.22" y="678.30" width="3.24" height="88.20" fill="#00dc00" fill-opacity="0.5" stroke="#00dc00" stroke-width="1.1"/>
<rect x="136.46" y="686.40" width="3.24" height="80.10" fill="#00dc00" fill-opacity="0.5" stroke="#00dc00" stroke-width="1.1"/>
<rect x="139.70" y="741.30" width="3.24" height="25.20" fill="#00dc00" fill-opacity="0.5" stroke="#00dc00" stroke-width="1.1"/>
<rect x="142.95" y="763.80" width="3.24" height="2.70" fill="#00dc00" fill-opacity="0.5" stroke="#00dc00" stroke-width="1.1"/>
<rect x="146.19" y="766.50" width="3.24" height="0.01" fill="#00dc00" fill-opacity="0.5" stroke="#00dc00" stroke-width="1.1"/>
<rect x="149.44" y="766.50" width="3.24" height="0.01" fill="#00dc00" fill-opacity="0.5" stroke="#00dc00" stroke-width="1.1"/>
<rect x="152.68" y="766.50" width="3.24" height="0.01" fill="#00dc00" fill-opacity="0.5" stroke="#00dc00" stroke-width="1.1"/>
<rect x="155.92" y="766.50" width="3.24" height="0.01" fill="#00dc00" fill-opacity="0.5" stroke="#00dc00" stroke-width="1.1"/>
<rect x="159.17" y="766.50" width="3.24" height="0.01" fill="#00dc00" fill-opacity="0.5" stroke="#00dc00" stroke-width="1.1"/>
<rect x="162.41" y="766.50" width="3.24" height="0.01" fill="#00dc00" fill-opacity="0.5" stroke="#00dc00" stroke-width="1.1"/>
<rect x="165.65" y="766.50" width="3.24" height="0.01" fill="#00dc00" fill-opacity="0.5" stroke="#00dc00" stroke-width="1.1"/>
<rect x="168.90" y="766.50" width="3.24" height="0.01" fill="#00dc00" fill-opacity="0.5" stroke="#00dc00" stroke-width="1.1"/>
<rect x="172.14" y="766.50" width="3.24" height="0.01" fill="#00dc00" fill-opacity="0.5" stroke="#00dc00" stroke-width="1.1"/>
<rect x="175.39" y="766.50" width="3.24" height="0.01" fill="#00dc00" fill-opacity="0.5" stroke="#00dc00" stroke-width="1.1"/>
<rect x="178.63" y="766.50" width="3.24" height="0.01" fill="#00dc00" fill-opacity="0.5" stroke="#00dc00" stroke-width="1.1"/>
<rect x="181.87" y="766.50" width="3.24" height="0.01" fill="#00dc00" fill-opacity="0.5" stroke="#00dc00" stroke-width="1.1"/>
<rect x="185.12" y="766.50" width="3.24" height="0.01" fill="#00dc00" fill-opacity="0.5" stroke="#00dc00" stroke-width="1.1"/>
<rect x="188.36" y="766.50" width="3.24" height="0.01" fill="#00dc00" fill-opacity="0.5" stroke="#00dc00" stroke-width="1.1"/>
<rect x="191.60" y="766.50" width="3.24" height="0.01" fill="#00dc00" fill-opacity="0.5" stroke="#00dc00" stroke-width="1.1"/>
<rect x="194.85" y="766.50" width="3.24" height="0.01" fill="#00dc00" fill-opacity="0.5" stroke="#00dc00" stroke-width="1.1"/>
<rect x="198.09" y="766.50" width="3.24" height="0.01" fill="#00dc00" fill-opacity="0.5" stroke="#00dc00" stroke-width="1.1"/>
<rect x="201.34" y="766.50" width="3.24" height="0.01" fill="#00dc00" fill-opacity="0.5" stroke="#00dc00" stroke-width="1.1"/>
<rect x="204.58" y="766.50" width="3.24" height="0.01" fill="#00dc00" fill-opacity="0.5" stroke="#00dc00" stroke-width="1.1"/>
<rect x="207.82" y="766.50" width="3.24" height="0.01" fill="#00dc00" fill-opacity="0.5" stroke="#00dc00" stroke-width="1.1"/>
<rect x="211.07" y="766.50" width="3.24" height="0.01" fill="#00dc00" fill-opacity="0.5" stroke="#00dc00" stroke-width="1.1"/>
<rect x="214.31" y="766.50" width="3.24" height="0.01" fill="#00dc00" fill-opacity="0.5" stroke="#00dc00" stroke-width="1.1"/>
<rect x="217.55" y="766.50" width="3.24" height="0.01" fill="#00dc00" fill-opacity="0.5" stroke="#00dc00" stroke-width="1.1"/>
<rect x="220.80" y="766.50" width="3.24" height="0.01" fill="#00dc00" fill-opacity="0.5" stroke="#00dc00" stroke-width="1.1"/>
<rect x="224.04" y="766.50" width="3.24" height="0.01" fill="#00dc00" fill-opacity="0.5" stroke="#00dc00" stroke-width="1.1"/>
<rect x="227.29" y="766.50" width="3.24" height="0.01" fill="#00dc00" fill-opacity="0.5" stroke="#00dc00" stroke-width="1.1"/>
<rect x="230.53" y="766.50" width="3.24" height="0.01" fill="#00dc00" fill-opacity="0.5" stroke="#00dc00" stroke-width="1.1"/>
<rect x="233.77" y="766.50" width="3.24" height="0.01" fill="#00dc00" fill-opacity="0.5" stroke="#00dc00" stroke-width="1.1"/>
<rect x="237.02" y="766.50" width="3.24" height="0.01" fill="#00dc00" fill-opacity="0.5" stroke="#00dc00" stroke-width="1.1"/>
<rect x="240.26" y="766.50" width="3.24" height="0.01" fill="#00dc00" fill-opacity="0.5" stroke="#00dc00" stroke-width="1.1"/>
<rect x="243.50" y="766.50" width="3.24" height="0.01" fill="#00dc00" fill-opacity="0.5" stroke="#00dc00" stroke-width="1.1"/>
<rect x="246.75" y="766.50" width="3.24" height="0.01" fill="#00dc00" fill-opacity="0.5" stroke="#00dc00" stroke-width="1.1"/>
<rect x="249.99" y="766.50" width="3.24" height="0.01" fill="#00dc00" fill-opacity="0.5" stroke="#00dc00" stroke-width="1.1"/>
<rect x="253.24" y="766.50" width="3.24" height="0.01" fill="#00dc00" fill-opacity="0.5" stroke="#00dc00" stroke-width="1.1"/>
<rect x="256.48" y="766.50" width="3.24" height="0.01" fill="#00dc00" fill-opacity="0.5" stroke="#00dc00" stroke-width="1.1"/>
<rect x="259.72" y="766.50" width="3.24" height="0.01" fill="#00dc00" fill-opacity="0.5" stroke="#00dc00" stroke-width="1.1"/>
<rect x="262.97" y="766.50" width="3.24" height="0.01" fill="#00dc00" fill-opacity="0.5" stroke="#00dc00" stroke-width="1.1"/>
<rect x="266.21" y="766.50" width="3.24" height="0.01" fill="#00dc00" fill-opacity="0.5" stroke="#00dc00" stroke-width="1.1"/>
<rect x="269.45" y="766.50" width="3.24" height="0.01" fill="#00dc00" fill-opacity="0.5" stroke="#00dc00" stroke-width="1.1"/>
<rect x="272.70" y="766.50" width="3.24" height="0.01" fill="#00dc00" fill-opacity="0.5" stroke="#00dc00" stroke-width="1.1"/>
<rect x="275.94" y="766.50" width="3.24" height="0.01" fill="#00dc00" fill-opacity="0.5" stroke="#00dc00" stroke-width="1.1"/>
<rect x="279.19" y="766.50" width="3.24" height="0.01" fill="#00dc00" fill-opacity="0.5" stroke="#00dc00" stroke-width="1.1"/>
<rect x="282.43" y="766.50" width="3.24" height="0.01" fill="#00dc00" fill-opacity="0.5" stroke="#00dc00" stroke-width="1.1"/>
<rect x="285.67" y="766.50" width="3.24" height="0.01" fill="#00dc00" fill-opacity="0.5" stroke="#00dc00" stroke-width="1.1"/>
<rect x="288.92" y="766.50" width="3.24" height="0.01" fill="#00dc00" fill-opacity="0.5" stroke="#00dc00" stroke-width="1.1"/>
<rect x="292.16" y="766.50" width="3.24" height="0.01" fill="#00dc00" fill-opacity="0.5" stroke="#00dc00" stroke-width="1.1"/>
<rect x="295.40" y="766.50" width="3.24" height="0.01" fill="#00dc00" fill-opacity="0.5" stroke="#00dc00" stroke-width="1.1"/>
<rect x="298.65" y="766.50" width="3.24" height="0.01" fill="#00dc00" fill-opacity="0.5" stroke="#00dc00" stroke-width="1.1"/>
<rect x="301.89" y="766.50" width="3.24" height="0.01" fill="#00dc00" fill-opacity="0.5" stroke="#00dc00" stroke-width="1.1"/>
<rect x="305.14" y="766.50" width="3.24" height="0.01" fill="#00dc00" fill-opacity="0.5" stroke="#00dc00" stroke-width="1.1"/>
<rect x="308.38" y="766.50" width="3.24" height="0.01" fill="#00dc00" fill-opacity="0.5" stroke="#00dc00" stroke-width="1.1"/>
<rect x="311.62" y="766.50" width="3.24" height="0.01" fill="#00dc00" fill-opacity="0.5" stroke="#00dc00" stroke-width="1.1"/>
<rect x="314.87" y="766.50" width="3.24" height="0.01" fill="#00dc00" fill-opacity="0.5" stroke="#00dc00" stroke-width="1.1"/>
<rect x="318.11" y="766.50" width="3.24" height="0.01" fill="#00dc00" fill-opacity="0.5" stroke="#00dc00" stroke-width="1.1"/>
<rect x="321.35" y="766.50" width="3.24" height="0.01" fill="#00dc00" fill-opacity="0.5" stroke="#00dc00" stroke-width="1.1"/>
<rect x="324.60" y="766.50" width="3.24" height="0.01" fill="#00dc00" fill-opacity="0.5" stroke="#00dc00" stroke-width="1.1"/>
<rect x="327.84" y="766.50" width="3.24" height="0.01" fill="#00dc00" fill-opacity="0.5" stroke="#00dc00" stroke-width="1.1"/>
<rect x="331.09" y="766.50" width="3.24" height="0.01" fill="#00dc00" fill-opacity="0.5" stroke="#00dc00" stroke-width="1.1"/>
<rect x="334.33" y="766.50" width="3.24" height="0.01" fill="#00dc00" fill-opacity="0.5" stroke="#00dc00" stroke-width="1.1"/>
<rect x="337.57" y="766.50" width="3.24" height="0.01" fill="#00dc00" fill-opacity="0.5" stroke="#00dc00" stroke-width="1.1"/>
<rect x="340.82" y="766.50" width="3.24" height="0.01" fill="#00dc00" fill-opacity="0.5" stroke="#00dc00" stroke-width="1.1"/>
<rect x="344.06" y="766.50" width="3.24" height="0.01" fill="#00dc00" fill-opacity="0.5" stroke="#00dc00" stroke-width="1.1"/>
<rect x="347.31" y="766.50" width="3.24" height="0.01" fill="#00dc00" fill-opacity="0.5" stroke="#00dc00" stroke-width="1.1"/>
<rect x="350.55" y="766.50" width="3.24" height="0.01" fill="#00dc00" fill-opacity="0.5" stroke="#00dc00" stroke-width="1.1"/>
<rect x="353.79" y="766.50" width="3.24" height="0.01" fill="#00dc00" fill-opacity="0.5" stroke="#00dc00" stroke-width="1.1"/>
<rect x="357.04" y="766.50" width="3.24" height="0.01" fill="#00dc00" fill-opacity="0.5" stroke="#00dc00" stroke-width="1.1"/>
<rect x="360.28" y="766.50" width="3.24" height="0.01" fill="#00dc00" fill-opacity="0.5" stroke="#00dc00" stroke-width="1.1"/>
<rect x="363.52" y="766.50" width="3.24" height="0.01" fill="#00dc00" fill-opacity="0.5" stroke="#00dc00" stroke-width="1.1"/>
<rect x="366.77" y="766.50" width="3.24" height="0.01" fill="#00dc00" fill-opacity="0.5" stroke="#00dc00" stroke-width="1.1"/>
<rect x="370.01" y="766.50" width="3.24" height="0.01" fill="#00dc00" fill-opacity="0.5" stroke="#00dc00" stroke-width="1.1"/>
<rect x="373.25" y="766.50" width="3.24" height="0.01" fill="#00dc00" fill-opacity="0.5" stroke="#00dc00" stroke-width="1.1"/>
<rect x="376.50" y="766.50" width="3.24" height="0.01" fill="#00dc00" fill-opacity="0.5" stroke="#00dc00" stroke-width="1.1"/>
<rect x="379.74" y="766.50" width="3.24" height="0.01" fill="#00dc00" fill-opacity="0.5" stroke="#00dc00" stroke-width="1.1"/>
<rect x="382.99" y="766.50" width="3.24" height="0.01" fill="#00dc00" fill-opacity="0.5" stroke="#00dc00" stroke-width="1.1"/>
<rect x="386.23" y="766.50" width="3.24" height="0.01" fill="#00dc00" fill-opacity="0.5" stroke="#00dc00" stroke-width="1.1"/>
<rect x="389.47" y="766.50" width="3.24" height="0.01" fill="#00dc00" fill-opacity="0.5" stroke="#00dc00" stroke-width="1.1"/>
<rect x="392.72" y="766.50" width="3.24" height="0.01" fill="#00dc00" fill-opacity="0.5" stroke="#00dc00" stroke-width="1.1"/>
<rect x="395.96" y="766.50" width="3.24" height="0.01" fill="#00dc00" fill-opacity="0.5" stroke="#00dc00" stroke-width="1.1"/>
<rect x="399.20" y="766.50" width="3.24" height="0.01" fill="#00dc00" fill-opacity="0.5" stroke="#00dc00" stroke-width="1.1"/>
<rect x="402.45" y="766.50" width="3.24" height="0.01" fill="#00dc00" fill-opacity="0.5" stroke="#00dc00" stroke-width="1.1"/>
<rect x="405.69" y="766.50" width="3.24" height="0.01" fill="#00dc00" fill-opacity="0.5" stroke="#00dc00" stroke-width="1.1"/>
<rect x="408.94" y="766.50" width="3.24" height="0.01" fill="#00dc00" fill-opacity="0.5" stroke="#00dc00" stroke-width="1.1"/>
<rect x="412.18" y="766.50" width="3.24" height="0.01" fill="#00dc00" fill-opacity="0.5" stroke="#00dc00" stroke-width="1.1"/>
<rect x="415.42" y="766.50" width="3.24" height="0.01" fill="#00dc00" fill-opacity="0.5" stroke="#00dc00" stroke-width="1.1"/>
<rect x="418.67" y="766.50" width="3.24" height="0.01" fill="#00dc00" fill-opacity="0.5" stroke="#00dc00" stroke-width="1.1"/>
<rect x="421.91" y="766.50" width="3.24" height="0.01" fill="#00dc00" fill-opacity="0.5" stroke="#00dc00" stroke-width="1.1"/>
<rect x="425.15" y="766.50" width="3.24" height="0.01" fill="#00dc00" fill-opacity="0.5" stroke="#00dc00" stroke-width="1.1"/>
<rect x="428.40" y="766.50" width="3.24" height="0.01" fill="#00dc00" fill-opacity="0.5" stroke="#00dc00" stroke-width="1.1"/>
<rect x="431.64" y="766.50" width="3.24" height="0.01" fill="#00dc00" fill-opacity="0.5" stroke="#00dc00" stroke-width="1.1"/>
<rect x="434.89" y="766.50" width="3.24" height="0.01" fill="#00dc00" fill-opacity="0.5" stroke="#00dc00" stroke-width="1.1"/>
<rect x="438.13" y="766.50" width="3.24" height="0.01" fill="#00dc00" fill-opacity="0.5" stroke="#00dc00" stroke-width="1.1"/>
<rect x="441.37" y="766.50" width="3.24" height="0.01" fill="#00dc00" fill-opacity="0.5" stroke="#00dc00" stroke-width="1.1"/>
<rect x="444.62" y="766.50" width="3.24" height="0.01" fill="#00dc00" fill-opacity="0.5" stroke="#00dc00" stroke-width="1.1"/>
<rect x="447.86" y="766.50" width="3.24" height="0.01" fill="#00dc00" fill-opacity="0.5" stroke="#00dc00" stroke-width="1.1"/>
<rect x="451.10" y="766.50" width="3.24" height="0.01" fill="#00dc00" fill-opacity="0.5" stroke="#00dc00" stroke-width="1.1"/>
<rect x="454.35" y="766.50" width="3.24" height="0.01" fill="#00dc00" fill-opacity="0.5" stroke="#00dc00" stroke-width="1.1"/>
<rect x="457.59" y="766.50" width="3.24" height="0.01" fill="#00dc00" fill-opacity="0.5" stroke="#00dc00" stroke-width="1.1"/>
<rect x="460.84" y="766.50" width="3.24" height="0.01" fill="#00dc00" fill-opacity="0.5" stroke="#00dc00" stroke-width="1.1"/>
<rect x="464.08" y="766.50" width="3.24" height="0.01" fill="#00dc00" fill-opacity="0.5" stroke="#00dc00" stroke-width="1.1"/>
<rect x="467.32" y="766.50" width="3.24" height="0.01" fill="#00dc00" fill-opacity="0.5" stroke="#00dc00" stroke-width="1.1"/>
<rect x="470.57" y="766.50" width="3.24" height="0.01" fill="#00dc00" fill-opacity="0.5" stroke="#00dc00" stroke-width="1.1"/>
<rect x="473.81" y="766.50" width="3.24" height="0.01" fill="#00dc00" fill-opacity="0.5" stroke="#00dc00" stroke-width="1.1"/>
<rect x="477.05" y="766.50" width="3.24" height="0.01" fill="#00dc00" fill-opacity="0.5" stroke="#00dc00" stroke-width="1.1"/>
<rect x="480.30" y="766.50" width="3.24" height="0.01" fill="#00dc00" fill-opacity="0.5" stroke="#00dc00" stroke-width="1.1"/>
<rect x="483.54" y="766.50" width="3.24" height="0.01" fill="#00dc00" fill-opacity="0.5" stroke="#00dc00" stroke-width="1.1"/>
<rect x="486.79" y="766.50" width="3.24" height="0.01" fill="#00dc00" fill-opacity="0.5" stroke="#00dc00" stroke-width="1.1"/>
<rect x="490.03" y="766.50" width="3.24" height="0.01" fill="#00dc00" fill-opacity="0.5" stroke="#00dc00" stroke-width="1.1"/>
<rect x="493.27" y="766.50" width="3.24" height="0.01" fill="#00dc00" fill-opacity="0.5" stroke="#00dc00" stroke-width="1.1"/>
<rect x="496.52" y="766.50" width="3.24" height="0.01" fill="#00dc00" fill-opacity="0.5" stroke="#00dc00" stroke-width="1.1"/>
<rect x="499.76" y="766.50" width="3.24" height="0.01" fill="#00dc00" fill-opacity="0.5" stroke="#00dc00" stroke-width="1.1"/>
<rect x="503.00" y="766.50" width="3.24" height="0.01" fill="#00dc00" fill-opacity="0.5" stroke="#00dc00" stroke-width="1.1"/>
<rect x="506.25" y="766.50" width="3.24" height="0.01" fill="#00dc00" fill-opacity="0.5" stroke="#00dc00" stroke-width="1.1"/>
<rect x="509.49" y="766.50" width="3.24" height="0.01" fill="#00dc00" fill-opacity="0.5" stroke="#00dc00" stroke-width="1.1"/>
<rect x="512.74" y="766.50" width="3.24" height="0.01" fill="#00dc00" fill-opacity="0.5" stroke="#00dc00" stroke-width="1.1"/>
<rect x="515.98" y="766.50" width="3.24" height="0.01" fill="#00dc00" fill-opacity="0.5" stroke="#00dc00" stroke-width="1.1"/>
<rect x="519.22" y="766.50" width="3.24" height="0.01" fill="#00dc00" fill-opacity="0.5" stroke="#00dc00" stroke-width="1.1"/>
<rect x="522.47" y="766.50" width="3.24" height="0.01" fill="#00dc00" fill-opacity="0.5" stroke="#00dc00" stroke-width="1.1"/>
<rect x="525.71" y="730.50" width="3.24" height="36.00" fill="#00dc00" fill-opacity="0.5" stroke="#00dc00" stroke-width="1.1"/>
<rect x="528.96" y="690.00" width="3.24" height="76.50" fill="#00dc00" fill-opacity="0.5" stroke="#00dc00" stroke-width="1.1"/>
<rect x="532.20" y="676.50" width="3.24" height="90.00" fill="#00dc00" fill-opacity="0.5" stroke="#00dc00" stroke-width="1.1"/>
<rect x="535.44" y="676.50" width="3.24" height="90.00" fill="#00dc00" fill-opacity="0.5" stroke="#00dc00" stroke-width="1.1"/>
<rect x="538.69" y="678.30" width="3.24" height="88.20" fill="#00dc00" fill-opacity="0.5" stroke="#00dc00" stroke-width="1.1"/>
<rect x="541.93" y="680.10" width="3.24" height="86.40" fill="#00dc00" fill-opacity="0.5" stroke="#00dc00" stroke-width="1.1"/>
<rect x="545.17" y="731.40" width="3.24" height="35.10" fill="#00dc00" fill-opacity="0.5" stroke="#00dc00" stroke-width="1.1"/>
<rect x="548.42" y="762.90" width="3.24" height="3.60" fill="#00dc00" fill-opacity="0.5" stroke="#00dc00" stroke-width="1.1"/>
<rect x="551.66" y="766.50" width="3.24" height="0.01" fill="#00dc00" fill-opacity="0.5" stroke="#00dc00" stroke-width="1.1"/>
<rect x="554.90" y="766.50" width="3.24" height="0.01" fill="#00dc00" fill-opacity="0.5" stroke="#00dc00" stroke-width="1.1"/>
<rect x="558.15" y="766.50" width="3.24" height="0.01" fill="#00dc00" fill-opacity="0.5" stroke="#00dc00" stroke-width="1.1"/>
<rect x="561.39" y="766.50" width="3.24" height="0.01" fill="#00dc00" fill-opacity="0.5" stroke="#00dc00" stroke-width="1.1"/>
<rect x="564.64" y="751.20" width="3.24" height="15.30" fill="#00dc00" fill-opacity="0.5" stroke="#00dc00" stroke-width="1.1"/>
<rect x="567.88" y="728.70" width="3.24" height="37.80" fill="#00dc00" fill-opacity="0.5" stroke="#00dc00" stroke-width="1.1"/>
<rect x="571.12" y="683.70" width="3.24" height="82.80" fill="#00dc00" fill-opacity="0.5" stroke="#00dc00" stroke-width="1.1"/>
<rect x="574.37" y="681.00" width="3.24" height="85.50" fill="#00dc00" fill-opacity="0.5" stroke="#00dc00" stroke-width="1.1"/>
<rect x="577.61" y="678.30" width="3.24" height="88.20" fill="#00dc00" fill-opacity="0.5" stroke="#00dc00" stroke-width="1.1"/>
<rect x="580.86" y="678.30" width="3.24" height="88.20" fill="#00dc00" fill-opacity="0.5" stroke="#00dc00" stroke-width="1.1"/>
<rect x="584.10" y="678.30" width="3.24" height="88.20" fill="#00dc00" fill-opacity="0.5" stroke="#00dc00" stroke-width="1.1"/>
<rect x="587.34" y="699.00" width="3.24" height="67.50" fill="#00dc00" fill-opacity="0.5" stroke="#00dc00" stroke-width="1.1"/>
<rect x="590.59" y="685.50" width="3.24" height="81.00" fill="#00dc00" fill-opacity="0.5" stroke="#00dc00" stroke-width="1.1"/>
<rect x="52.12" y="752.10" width="3.24" height="14.40" fill="none" stroke="#1e3cff" stroke-width="1.2"/>
<rect x="55.37" y="742.20" width="3.24" height="24.30" fill="none" stroke="#1e3cff" stroke-width="1.2"/>
<rect x="58.61" y="751.20" width="3.24" height="15.30" fill="none" stroke="#1e3cff" stroke-width="1.2"/>
<rect x="61.86" y="766.50" width="3.24" height="0.01" fill="none" stroke="#1e3cff" stroke-width="1.2"/>
<rect x="65.10" y="765.60" width="3.24" height="0.90" fill="none" stroke="#1e3cff" stroke-width="1.2"/>
<rect x="68.34" y="760.20" width="3.24" height="6.30" fill="none" stroke="#1e3cff" stroke-width="1.2"/>
<rect x="71.59" y="766.50" width="3.24" height="0.01" fill="none" stroke="#1e3cff" stroke-width="1.2"/>
<rect x="74.83" y="766.50" width="3.24" height="0.01" fill="none" stroke="#1e3cff" stroke-width="1.2"/>
<rect x="78.07" y="766.50" width="3.24" height="0.01" fill="none" stroke="#1e3cff" stroke-width="1.2"/>
<rect x="81.32" y="766.50" width="3.24" height="0.01" fill="none" stroke="#1e3cff" stroke-width="1.2"/>
<rect x="84.56" y="763.80" width="3.24" height="2.70" fill="none" stroke="#1e3cff" stroke-width="1.2"/>
<rect x="87.80" y="763.80" width="3.24" height="2.70" fill="none" stroke="#1e3cff" stroke-width="1.2"/>
<rect x="91.05" y="766.50" width="3.24" height="0.01" fill="none" stroke="#1e3cff" stroke-width="1.2"/>
<rect x="94.29" y="761.10" width="3.24" height="5.40" fill="none" stroke="#1e3cff" stroke-width="1.2"/>
<rect x="97.54" y="765.60" width="3.24" height="0.90" fill="none" stroke="#1e3cff" stroke-width="1.2"/>
<rect x="100.78" y="766.50" width="3.24" height="0.01" fill="none" stroke="#1e3cff" stroke-width="1.2"/>
<rect x="104.02" y="766.50" width="3.24" height="0.01" fill="none" stroke="#1e3cff" stroke-width="1.2"/>
<rect x="107.27" y="760.20" width="3.24" height="6.30" fill="none" stroke="#1e3cff" stroke-width="1.2"/>
<rect x="110.51" y="761.10" width="3.24" height="5.40" fill="none" stroke="#1e3cff" stroke-width="1.2"/>
<rect x="113.75" y="766.50" width="3.24" height="0.01" fill="none" stroke="#1e3cff" stroke-width="1.2"/>
<rect x="117.00" y="766.50" width="3.24" height="0.01" fill="none" stroke="#1e3cff" stroke-width="1.2"/>
<rect x="120.24" y="766.50" width="3.24" height="0.01" fill="none" stroke="#1e3cff" stroke-width="1.2"/>
<rect x="123.49" y="752.10" width="3.24" height="14.40" fill="none" stroke="#1e3cff" stroke-width="1.2"/>
<rect x="126.73" y="737.70" width="3.24" height="28.80" fill="none" stroke="#1e3cff" stroke-width="1.2"/>
<rect x="129.97" y="723.30" width="3.24" height="43.20" fill="none" stroke="#1e3cff" stroke-width="1.2"/>
<rect x="133.22" y="700.80" width="3.24" height="65.70" fill="none" stroke="#1e3cff" stroke-width="1.2"/>
<rect x="136.46" y="705.30" width="3.24" height="61.20" fill="none" stroke="#1e3cff" stroke-width="1.2"/>
<rect x="139.70" y="687.30" width="3.24" height="79.20" fill="none" stroke="#1e3cff" stroke-width="1.2"/>
<rect x="142.95" y="703.50" width="3.24" height="63.00" fill="none" stroke="#1e3cff" stroke-width="1.2"/>
<rect x="146.19" y="683.70" width="3.24" height="82.80" fill="none" stroke="#1e3cff" stroke-width="1.2"/>
<rect x="149.44" y="681.00" width="3.24" height="85.50" fill="none" stroke="#1e3cff" stroke-width="1.2"/>
<rect x="152.68" y="709.80" width="3.24" height="56.70" fill="none" stroke="#1e3cff" stroke-width="1.2"/>
<rect x="155.92" y="738.60" width="3.24" height="27.90" fill="none" stroke="#1e3cff" stroke-width="1.2"/>
<rect x="159.17" y="704.40" width="3.24" height="62.10" fill="none" stroke="#1e3cff" stroke-width="1.2"/>
<rect x="162.41" y="678.30" width="3.24" height="88.20" fill="none" stroke="#1e3cff" stroke-width="1.2"/>
<rect x="165.65" y="677.40" width="3.24" height="89.10" fill="none" stroke="#1e3cff" stroke-width="1.2"/>
<rect x="168.90" y="686.40" width="3.24" height="80.10" fill="none" stroke="#1e3cff" stroke-width="1.2"/>
<rect x="172.14" y="683.70" width="3.24" height="82.80" fill="none" stroke="#1e3cff" stroke-width="1.2"/>
<rect x="175.39" y="704.40" width="3.24" height="62.10" fill="none" stroke="#1e3cff" stroke-width="1.2"/>
<rect x="178.63" y="732.30" width="3.24" height="34.20" fill="none" stroke="#1e3cff" stroke-width="1.2"/>
<rect x="181.87" y="711.60" width="3.24" height="54.90" fill="none" stroke="#1e3cff" stroke-width="1.2"/>
<rect x="185.12" y="686.40" width="3.24" height="80.10" fill="none" stroke="#1e3cff" stroke-width="1.2"/>
<rect x="188.36" y="680.10" width="3.24" height="86.40" fill="none" stroke="#1e3cff" stroke-width="1.2"/>
<rect x="191.60" y="707.10" width="3.24" height="59.40" fill="none" stroke="#1e3cff" stroke-width="1.2"/>
<rect x="194.85" y="749.40" width="3.24" height="17.10" fill="none" stroke="#1e3cff" stroke-width="1.2"/>
<rect x="198.09" y="759.30" width="3.24" height="7.20" fill="none" stroke="#1e3cff" stroke-width="1.2"/>
<rect x="201.34" y="765.60" width="3.24" height="0.90" fill="none" stroke="#1e3cff" stroke-width="1.2"/>
<rect x="204.58" y="765.60" width="3.24" height="0.90" fill="none" stroke="#1e3cff" stroke-width="1.2"/>
<rect x="207.82" y="751.20" width="3.24" height="15.30" fill="none" stroke="#1e3cff" stroke-width="1.2"/>
<rect x="211.07" y="718.80" width="3.24" height="47.70" fill="none" stroke="#1e3cff" stroke-width="1.2"/>
<rect x="214.31" y="715.20" width="3.24" height="51.30" fill="none" stroke="#1e3cff" stroke-width="1.2"/>
<rect x="217.55" y="708.00" width="3.24" height="58.50" fill="none" stroke="#1e3cff" stroke-width="1.2"/>
<rect x="220.80" y="738.60" width="3.24" height="27.90" fill="none" stroke="#1e3cff" stroke-width="1.2"/>
<rect x="224.04" y="754.80" width="3.24" height="11.70" fill="none" stroke="#1e3cff" stroke-width="1.2"/>
<rect x="227.29" y="743.10" width="3.24" height="23.40" fill="none" stroke="#1e3cff" stroke-width="1.2"/>
<rect x="230.53" y="732.30" width="3.24" height="34.20" fill="none" stroke="#1e3cff" stroke-width="1.2"/>
<rect x="233.77" y="735.90" width="3.24" height="30.60" fill="none" stroke="#1e3cff" stroke-width="1.2"/>
<rect x="237.02" y="728.70" width="3.24" height="37.80" fill="none" stroke="#1e3cff" stroke-width="1.2"/>
<rect x="240.26" y="717.90" width="3.24" height="48.60" fill="none" stroke="#1e3cff" stroke-width="1.2"/>
<rect x="243.50" y="730.50" width="3.24" height="36.00" fill="none" stroke="#1e3cff" stroke-width="1.2"/>
<rect x="246.75" y="750.30" width="3.24" height="16.20" fill="none" stroke="#1e3cff" stroke-width="1.2"/>
<rect x="249.99" y="757.50" width="3.24" height="9.00" fill="none" stroke="#1e3cff" stroke-width="1.2"/>
<rect x="253.24" y="748.50" width="3.24" height="18.00" fill="none" stroke="#1e3cff" stroke-width="1.2"/>
<rect x="256.48" y="757.50" width="3.24" height="9.00" fill="none" stroke="#1e3cff" stroke-width="1.2"/>
<rect x="259.72" y="754.80" width="3.24" height="11.70" fill="none" stroke="#1e3cff" stroke-width="1.2"/>
<rect x="262.97" y="764.70" width="3.24" height="1.80" fill="none" stroke="#1e3cff" stroke-width="1.2"/>
<rect x="266.21" y="753.00" width="3.24" height="13.50" fill="none" stroke="#1e3cff" stroke-width="1.2"/>
<rect x="269.45" y="761.10" width="3.24" height="5.40" fill="none" stroke="#1e3cff" stroke-width="1.2"/>
<rect x="272.70" y="762.00" width="3.24" height="4.50" fill="none" stroke="#1e3cff" stroke-width="1.2"/>
<rect x="275.94" y="750.30" width="3.24" height="16.20" fill="none" stroke="#1e3cff" stroke-width="1.2"/>
<rect x="279.19" y="747.60" width="3.24" height="18.90" fill="none" stroke="#1e3cff" stroke-width="1.2"/>
<rect x="282.43" y="747.60" width="3.24" height="18.90" fill="none" stroke="#1e3cff" stroke-width="1.2"/>
<rect x="285.67" y="749.40" width="3.24" height="17.10" fill="none" stroke="#1e3cff" stroke-width="1.2"/>
<rect x="288.92" y="765.60" width="3.24" height="0.90" fill="none" stroke="#1e3cff" stroke-width="1.2"/>
<rect x="292.16" y="766.50" width="3.24" height="0.01" fill="none" stroke="#1e3cff" stroke-width="1.2"/>
<rect x="295.40" y="766.50" width="3.24" height="0.01" fill="none" stroke="#1e3cff" stroke-width="1.2"/>
<rect x="298.65" y="766.50" width="3.24" height="0.01" fill="none" stroke="#1e3cff" stroke-width="1.2"/>
<rect x="301.89" y="766.50" width="3.24" height="0.01" fill="none" stroke="#1e3cff" stroke-width="1.2"/>
<rect x="305.14" y="766.50" width="3.24" height="0.01" fill="none" stroke="#1e3cff" stroke-width="1.2"/>
<rect x="308.38" y="762.00" width="3.24" height="4.50" fill="none" stroke="#1e3cff" stroke-width="1.2"/>
<rect x="311.62" y="759.30" width="3.24" height="7.20" fill="none" stroke="#1e3cff" stroke-width="1.2"/>
<rect x="314.87" y="756.60" width="3.24" height="9.90" fill="none" stroke="#1e3cff" stroke-width="1.2"/>
<rect x="318.11" y="758.40" width="3.24" height="8.10" fill="none" stroke="#1e3cff" stroke-width="1.2"/>
<rect x="321.35" y="765.60" width="3.24" height="0.90" fill="none" stroke="#1e3cff" stroke-width="1.2"/>
<rect x="324.60" y="766.50" width="3.24" height="0.01" fill="none" stroke="#1e3cff" stroke-width="1.2"/>
<rect x="327.84" y="762.00" width="3.24" height="4.50" fill="none" stroke="#1e3cff" stroke-width="1.2"/>
<rect x="331.09" y="766.50" width="3.24" height="0.01" fill="none" stroke="#1e3cff" stroke-width="1.2"/>
<rect x="334.33" y="766.50" width="3.24" height="0.01" fill="none" stroke="#1e3cff" stroke-width="1.2"/>
<rect x="337.57" y="766.50" width="3.24" height="0.01" fill="none" stroke="#1e3cff" stroke-width="1.2"/>
<rect x="340.82" y="766.50" width="3.24" height="0.01" fill="none" stroke="#1e3cff" stroke-width="1.2"/>
<rect x="344.06" y="766.50" width="3.24" height="0.01" fill="none" stroke="#1e3cff" stroke-width="1.2"/>
<rect x="347.31" y="766.50" width="3.24" height="0.01" fill="none" stroke="#1e3cff" stroke-width="1.2"/>
<rect x="350.55" y="766.50" width="3.24" height="0.01" fill="none" stroke="#1e3cff" stroke-width="1.2"/>
<rect x="353.79" y="766.50" width="3.24" height="0.01" fill="none" stroke="#1e3cff" stroke-width="1.2"/>
<rect x="357.04" y="766.50" width="3.24" height="0.01" fill="none" stroke="#1e3cff" stroke-width="1.2"/>
<rect x="360.28" y="766.50" width="3.24" height="0.01" fill="none" stroke="#1e3cff" stroke-width="1.2"/>
<rect x="363.52" y="766.50" width="3.24" height="0.01" fill="none" stroke="#1e3cff" stroke-width="1.2"/>
<rect x="366.77" y="766.50" width="3.24" height="0.01" fill="none" stroke="#1e3cff" stroke-width="1.2"/>
<rect x="370.01" y="766.50" width="3.24" height="0.01" fill="none" stroke="#1e3cff" stroke-width="1.2"/>
<rect x="373.25" y="766.50" width="3.24" height="0.01" fill="none" stroke="#1e3cff" stroke-width="1.2"/>
<rect x="376.50" y="766.50" width="3.24" height="0.01" fill="none" stroke="#1e3cff" stroke-width="1.2"/>
<rect x="379.74" y="766.50" width="3.24" height="0.01" fill="none" stroke="#1e3cff" stroke-width="1.2"/>
<rect x="382.99" y="766.50" width="3.24" height="0.01" fill="none" stroke="#1e3cff" stroke-width="1.2"/>
<rect x="386.23" y="766.50" width="3.24" height="0.01" fill="none" stroke="#1e3cff" stroke-width="1.2"/>
<rect x="389.47" y="766.50" width="3.24" height="0.01" fill="none" stroke="#1e3cff" stroke-width="1.2"/>
<rect x="392.72" y="765.15" width="3.24" height="1.35" fill="none" stroke="#1e3cff" stroke-width="1.2"/>
<rect x="395.96" y="766.50" width="3.24" height="0.01" fill="none" stroke="#1e3cff" stroke-width="1.2"/>
<rect x="399.20" y="766.50" width="3.24" height="0.01" fill="none" stroke="#1e3cff" stroke-width="1.2"/>
<rect x="402.45" y="766.50" width="3.24" height="0.01" fill="none" stroke="#1e3cff" stroke-width="1.2"/>
<rect x="405.69" y="766.50" width="3.24" height="0.01" fill="none" stroke="#1e3cff" stroke-width="1.2"/>
<rect x="408.94" y="766.50" width="3.24" height="0.01" fill="none" stroke="#1e3cff" stroke-width="1.2"/>
<rect x="412.18" y="766.50" width="3.24" height="0.01" fill="none" stroke="#1e3cff" stroke-width="1.2"/>
<rect x="415.42" y="765.60" width="3.24" height="0.90" fill="none" stroke="#1e3cff" stroke-width="1.2"/>
<rect x="418.67" y="766.50" width="3.24" height="0.01" fill="none" stroke="#1e3cff" stroke-width="1.2"/>
<rect x="421.91" y="766.50" width="3.24" height="0.01" fill="none" stroke="#1e3cff" stroke-width="1.2"/>
<rect x="425.15" y="766.50" width="3.24" height="0.01" fill="none" stroke="#1e3cff" stroke-width="1.2"/>
<rect x="428.40" y="766.50" width="3.24" height="0.01" fill="none" stroke="#1e3cff" stroke-width="1.2"/>
<rect x="431.64" y="766.50" width="3.24" height="0.01" fill="none" stroke="#1e3cff" stroke-width="1.2"/>
<rect x="434.89" y="766.50" width="3.24" height="0.01" fill="none" stroke="#1e3cff" stroke-width="1.2"/>
<rect x="438.13" y="766.50" width="3.24" height="0.01" fill="none" stroke="#1e3cff" stroke-width="1.2"/>
<rect x="441.37" y="766.50" width="3.24" height="0.01" fill="none" stroke="#1e3cff" stroke-width="1.2"/>
<rect x="444.62" y="766.50" width="3.24" height="0.01" fill="none" stroke="#1e3cff" stroke-width="1.2"/>
<rect x="447.86" y="766.50" width="3.24" height="0.01" fill="none" stroke="#1e3cff" stroke-width="1.2"/>
<rect x="451.10" y="766.50" width="3.24" height="0.01" fill="none" stroke="#1e3cff" stroke-width="1.2"/>
<rect x="454.35" y="766.50" width="3.24" height="0.01" fill="none" stroke="#1e3cff" stroke-width="1.2"/>
<rect x="457.59" y="766.50" width="3.24" height="0.01" fill="none" stroke="#1e3cff" stroke-width="1.2"/>
<rect x="460.84" y="766.50" width="3.24" height="0.01" fill="none" stroke="#1e3cff" stroke-width="1.2"/>
<rect x="464.08" y="766.50" width="3.24" height="0.01" fill="none" stroke="#1e3cff" stroke-width="1.2"/>
<rect x="467.32" y="766.50" width="3.24" height="0.01" fill="none" stroke="#1e3cff" stroke-width="1.2"/>
<rect x="470.57" y="766.50" width="3.24" height="0.01" fill="none" stroke="#1e3cff" stroke-width="1.2"/>
<rect x="473.81" y="766.50" width="3.24" height="0.01" fill="none" stroke="#1e3cff" stroke-width="1.2"/>
<rect x="477.05" y="766.50" width="3.24" height="0.01" fill="none" stroke="#1e3cff" stroke-width="1.2"/>
<rect x="480.30" y="766.50" width="3.24" height="0.01" fill="none" stroke="#1e3cff" stroke-width="1.2"/>
<rect x="483.54" y="766.50" width="3.24" height="0.01" fill="none" stroke="#1e3cff" stroke-width="1.2"/>
<rect x="486.79" y="766.50" width="3.24" height="0.01" fill="none" stroke="#1e3cff" stroke-width="1.2"/>
<rect x="490.03" y="766.50" width="3.24" height="0.01" fill="none" stroke="#1e3cff" stroke-width="1.2"/>
<rect x="493.27" y="762.00" width="3.24" height="4.50" fill="none" stroke="#1e3cff" stroke-width="1.2"/>
<rect x="496.52" y="748.50" width="3.24" height="18.00" fill="none" stroke="#1e3cff" stroke-width="1.2"/>
<rect x="499.76" y="765.60" width="3.24" height="0.90" fill="none" stroke="#1e3cff" stroke-width="1.2"/>
<rect x="503.00" y="766.50" width="3.24" height="0.01" fill="none" stroke="#1e3cff" stroke-width="1.2"/>
<rect x="506.25" y="766.50" width="3.24" height="0.01" fill="none" stroke="#1e3cff" stroke-width="1.2"/>
<rect x="509.49" y="766.50" width="3.24" height="0.01" fill="none" stroke="#1e3cff" stroke-width="1.2"/>
<rect x="512.74" y="766.50" width="3.24" height="0.01" fill="none" stroke="#1e3cff" stroke-width="1.2"/>
<rect x="515.98" y="766.50" width="3.24" height="0.01" fill="none" stroke="#1e3cff" stroke-width="1.2"/>
<rect x="519.22" y="766.50" width="3.24" height="0.01" fill="none" stroke="#1e3cff" stroke-width="1.2"/>
<rect x="522.47" y="766.50" width="3.24" height="0.01" fill="none" stroke="#1e3cff" stroke-width="1.2"/>
<rect x="525.71" y="766.50" width="3.24" height="0.01" fill="none" stroke="#1e3cff" stroke-width="1.2"/>
<rect x="528.96" y="766.50" width="3.24" height="0.01" fill="none" stroke="#1e3cff" stroke-width="1.2"/>
<rect x="532.20" y="766.50" width="3.24" height="0.01" fill="none" stroke="#1e3cff" stroke-width="1.2"/>
<rect x="535.44" y="766.50" width="3.24" height="0.01" fill="none" stroke="#1e3cff" stroke-width="1.2"/>
<rect x="538.69" y="766.50" width="3.24" height="0.01" fill="none" stroke="#1e3cff" stroke-width="1.2"/>
<rect x="541.93" y="766.50" width="3.24" height="0.01" fill="none" stroke="#1e3cff" stroke-width="1.2"/>
<rect x="545.17" y="766.50" width="3.24" height="0.01" fill="none" stroke="#1e3cff" stroke-width="1.2"/>
<rect x="548.42" y="766.50" width="3.24" height="0.01" fill="none" stroke="#1e3cff" stroke-width="1.2"/>
<rect x="551.66" y="766.50" width="3.24" height="0.01" fill="none" stroke="#1e3cff" stroke-width="1.2"/>
<rect x="554.90" y="766.50" width="3.24" height="0.01" fill="none" stroke="#1e3cff" stroke-width="1.2"/>
<rect x="558.15" y="766.50" width="3.24" height="0.01" fill="none" stroke="#1e3cff" stroke-width="1.2"/>
<rect x="561.39" y="766.50" width="3.24" height="0.01" fill="none" stroke="#1e3cff" stroke-width="1.2"/>
<rect x="564.64" y="766.50" width="3.24" height="0.01" fill="none" stroke="#1e3cff" stroke-width="1.2"/>
<rect x="567.88" y="766.50" width="3.24" height="0.01" fill="none" stroke="#1e3cff" stroke-width="1.2"/>
<rect x="571.12" y="766.50" width="3.24" height="0.01" fill="none" stroke="#1e3cff" stroke-width="1.2"/>
<rect x="574.37" y="766.50" width="3.24" height="0.01" fill="none" stroke="#1e3cff" stroke-width="1.2"/>
<rect x="577.61" y="766.50" width="3.24" height="0.01" fill="none" stroke="#1e3cff" stroke-width="1.2"/>
<rect x="580.86" y="766.50" width="3.24" height="0.01" fill="none" stroke="#1e3cff" stroke-width="1.2"/>
<rect x="584.10" y="766.50" width="3.24" height="0.01" fill="none" stroke="#1e3cff" stroke-width="1.2"/>
<rect x="587.34" y="766.50" width="3.24" height="0.01" fill="none" stroke="#1e3cff" stroke-width="1.2"/>
<rect x="590.59" y="766.50" width="3.24" height="0.01" fill="none" stroke="#1e3cff" stroke-width="1.2"/>
<line x1="50.50" y1="766.50" x2="591.60" y2="766.50" stroke="#a8a8a8" stroke-width="1.6" stroke-dasharray="1.6 4.9" stroke-dashoffset="-5.7"/>
<line x1="47.00" y1="766.50" x2="50.50" y2="766.50" stroke="#000" stroke-width="1.8"/>
<text x="38.65" y="770.80" font-size="11.9" fill="#000" text-anchor="start" textLength="5.55" lengthAdjust="spacingAndGlyphs" stroke="#000" stroke-width="0.3">0</text>
<line x1="50.50" y1="748.50" x2="591.60" y2="748.50" stroke="#a8a8a8" stroke-width="1.6" stroke-dasharray="1.6 4.9" stroke-dashoffset="-5.7"/>
<line x1="47.00" y1="748.50" x2="50.50" y2="748.50" stroke="#000" stroke-width="1.8"/>
<text x="32.50" y="752.80" font-size="11.9" fill="#000" text-anchor="start" textLength="11.70" lengthAdjust="spacingAndGlyphs" stroke="#000" stroke-width="0.3">20</text>
<line x1="50.50" y1="730.50" x2="591.60" y2="730.50" stroke="#a8a8a8" stroke-width="1.6" stroke-dasharray="1.6 4.9" stroke-dashoffset="-5.7"/>
<line x1="47.00" y1="730.50" x2="50.50" y2="730.50" stroke="#000" stroke-width="1.8"/>
<text x="32.50" y="734.80" font-size="11.9" fill="#000" text-anchor="start" textLength="11.70" lengthAdjust="spacingAndGlyphs" stroke="#000" stroke-width="0.3">40</text>
<line x1="50.50" y1="712.50" x2="591.60" y2="712.50" stroke="#a8a8a8" stroke-width="1.6" stroke-dasharray="1.6 4.9" stroke-dashoffset="-5.7"/>
<line x1="47.00" y1="712.50" x2="50.50" y2="712.50" stroke="#000" stroke-width="1.8"/>
<text x="32.50" y="716.80" font-size="11.9" fill="#000" text-anchor="start" textLength="11.70" lengthAdjust="spacingAndGlyphs" stroke="#000" stroke-width="0.3">60</text>
<line x1="50.50" y1="694.50" x2="591.60" y2="694.50" stroke="#a8a8a8" stroke-width="1.6" stroke-dasharray="1.6 4.9" stroke-dashoffset="-5.7"/>
<line x1="47.00" y1="694.50" x2="50.50" y2="694.50" stroke="#000" stroke-width="1.8"/>
<text x="32.50" y="698.80" font-size="11.9" fill="#000" text-anchor="start" textLength="11.70" lengthAdjust="spacingAndGlyphs" stroke="#000" stroke-width="0.3">80</text>
<line x1="50.50" y1="676.50" x2="591.60" y2="676.50" stroke="#a8a8a8" stroke-width="1.6" stroke-dasharray="1.6 4.9" stroke-dashoffset="-5.7"/>
<line x1="47.00" y1="676.50" x2="50.50" y2="676.50" stroke="#000" stroke-width="1.8"/>
<text x="26.35" y="680.80" font-size="11.9" fill="#000" text-anchor="start" textLength="17.85" lengthAdjust="spacingAndGlyphs" stroke="#000" stroke-width="0.3">100</text>
<line x1="50.50" y1="676.50" x2="50.50" y2="766.50" stroke="#a8a8a8" stroke-width="1.6" stroke-dasharray="1.6 4.9" stroke-dashoffset="-4.45"/>
<line x1="50.50" y1="766.50" x2="50.50" y2="770.00" stroke="#000" stroke-width="1.6"/>
<text x="38.10" y="780.10" font-size="11.4" fill="#000" text-anchor="start" textLength="24.50" lengthAdjust="spacingAndGlyphs" stroke="#000" stroke-width="0.45">7APR</text>
<text x="38.10" y="791.10" font-size="11.4" fill="#000" text-anchor="start" textLength="24.50" lengthAdjust="spacingAndGlyphs" stroke="#000" stroke-width="0.45">2026</text>
<line x1="128.35" y1="676.50" x2="128.35" y2="766.50" stroke="#a8a8a8" stroke-width="1.6" stroke-dasharray="1.6 4.9" stroke-dashoffset="-4.45"/>
<line x1="128.35" y1="766.50" x2="128.35" y2="770.00" stroke="#000" stroke-width="1.6"/>
<text x="128.35" y="780.10" font-size="11.4" fill="#000" text-anchor="middle" textLength="24.20" lengthAdjust="spacingAndGlyphs" stroke="#000" stroke-width="0.45">8APR</text>
<line x1="206.20" y1="676.50" x2="206.20" y2="766.50" stroke="#a8a8a8" stroke-width="1.6" stroke-dasharray="1.6 4.9" stroke-dashoffset="-4.45"/>
<line x1="206.20" y1="766.50" x2="206.20" y2="770.00" stroke="#000" stroke-width="1.6"/>
<text x="206.20" y="780.10" font-size="11.4" fill="#000" text-anchor="middle" textLength="24.20" lengthAdjust="spacingAndGlyphs" stroke="#000" stroke-width="0.45">9APR</text>
<line x1="284.05" y1="676.50" x2="284.05" y2="766.50" stroke="#a8a8a8" stroke-width="1.6" stroke-dasharray="1.6 4.9" stroke-dashoffset="-4.45"/>
<line x1="284.05" y1="766.50" x2="284.05" y2="770.00" stroke="#000" stroke-width="1.6"/>
<text x="284.05" y="780.10" font-size="11.4" fill="#000" text-anchor="middle" textLength="30.40" lengthAdjust="spacingAndGlyphs" stroke="#000" stroke-width="0.45">10APR</text>
<line x1="361.90" y1="676.50" x2="361.90" y2="766.50" stroke="#a8a8a8" stroke-width="1.6" stroke-dasharray="1.6 4.9" stroke-dashoffset="-4.45"/>
<line x1="361.90" y1="766.50" x2="361.90" y2="770.00" stroke="#000" stroke-width="1.6"/>
<text x="361.90" y="780.10" font-size="11.4" fill="#000" text-anchor="middle" textLength="30.40" lengthAdjust="spacingAndGlyphs" stroke="#000" stroke-width="0.45">11APR</text>
<line x1="439.75" y1="676.50" x2="439.75" y2="766.50" stroke="#a8a8a8" stroke-width="1.6" stroke-dasharray="1.6 4.9" stroke-dashoffset="-4.45"/>
<line x1="439.75" y1="766.50" x2="439.75" y2="770.00" stroke="#000" stroke-width="1.6"/>
<text x="439.75" y="780.10" font-size="11.4" fill="#000" text-anchor="middle" textLength="30.40" lengthAdjust="spacingAndGlyphs" stroke="#000" stroke-width="0.45">12APR</text>
<line x1="517.60" y1="676.50" x2="517.60" y2="766.50" stroke="#a8a8a8" stroke-width="1.6" stroke-dasharray="1.6 4.9" stroke-dashoffset="-4.45"/>
<line x1="517.60" y1="766.50" x2="517.60" y2="770.00" stroke="#000" stroke-width="1.6"/>
<text x="517.60" y="780.10" font-size="11.4" fill="#000" text-anchor="middle" textLength="30.40" lengthAdjust="spacingAndGlyphs" stroke="#000" stroke-width="0.45">13APR</text>
<text x="72.50" y="674.20" font-size="14.0" fill="#000" text-anchor="start" textLength="173.40" lengthAdjust="spacingAndGlyphs" stroke="#000" stroke-width="0.18" word-spacing="3.5">Cobertura de Nuvens (%)</text>
<text x="360.10" y="169.85" font-size="13.0" fill="#00c8c8" text-anchor="start" textLength="179.30" lengthAdjust="spacingAndGlyphs" stroke="#00c8c8" stroke-width="0.05" word-spacing="2">Temperatura Aparente (C)</text>
<rect x="252.4" y="662.6" width="7.6" height="9.6" fill="none" stroke="#1e3cff" stroke-width="1.2"/>
<text x="264.60" y="674.40" font-size="13.2" fill="#1e3cff" text-anchor="start" textLength="95.90" lengthAdjust="spacingAndGlyphs" stroke="#1e3cff" stroke-width="0.35" word-spacing="4">nuvens baixas</text>
<rect x="372.8" y="662.6" width="6.0" height="9.6" fill="none" stroke="#00dc00" stroke-width="1.2"/>
<text x="382.70" y="674.40" font-size="13.2" fill="#00dc00" text-anchor="start" textLength="102.10" lengthAdjust="spacingAndGlyphs" stroke="#00dc00" stroke-width="0.35" word-spacing="4">nuvens medias</text>
<rect x="492.8" y="662.6" width="6.0" height="9.6" fill="none" stroke="#f08228" stroke-width="1.2"/>
<text x="501.00" y="674.40" font-size="13.2" fill="#f08228" text-anchor="start" textLength="86.80" lengthAdjust="spacingAndGlyphs" stroke="#f08228" stroke-width="0.35" word-spacing="4">nuvens altas</text>
</svg></body></html>
